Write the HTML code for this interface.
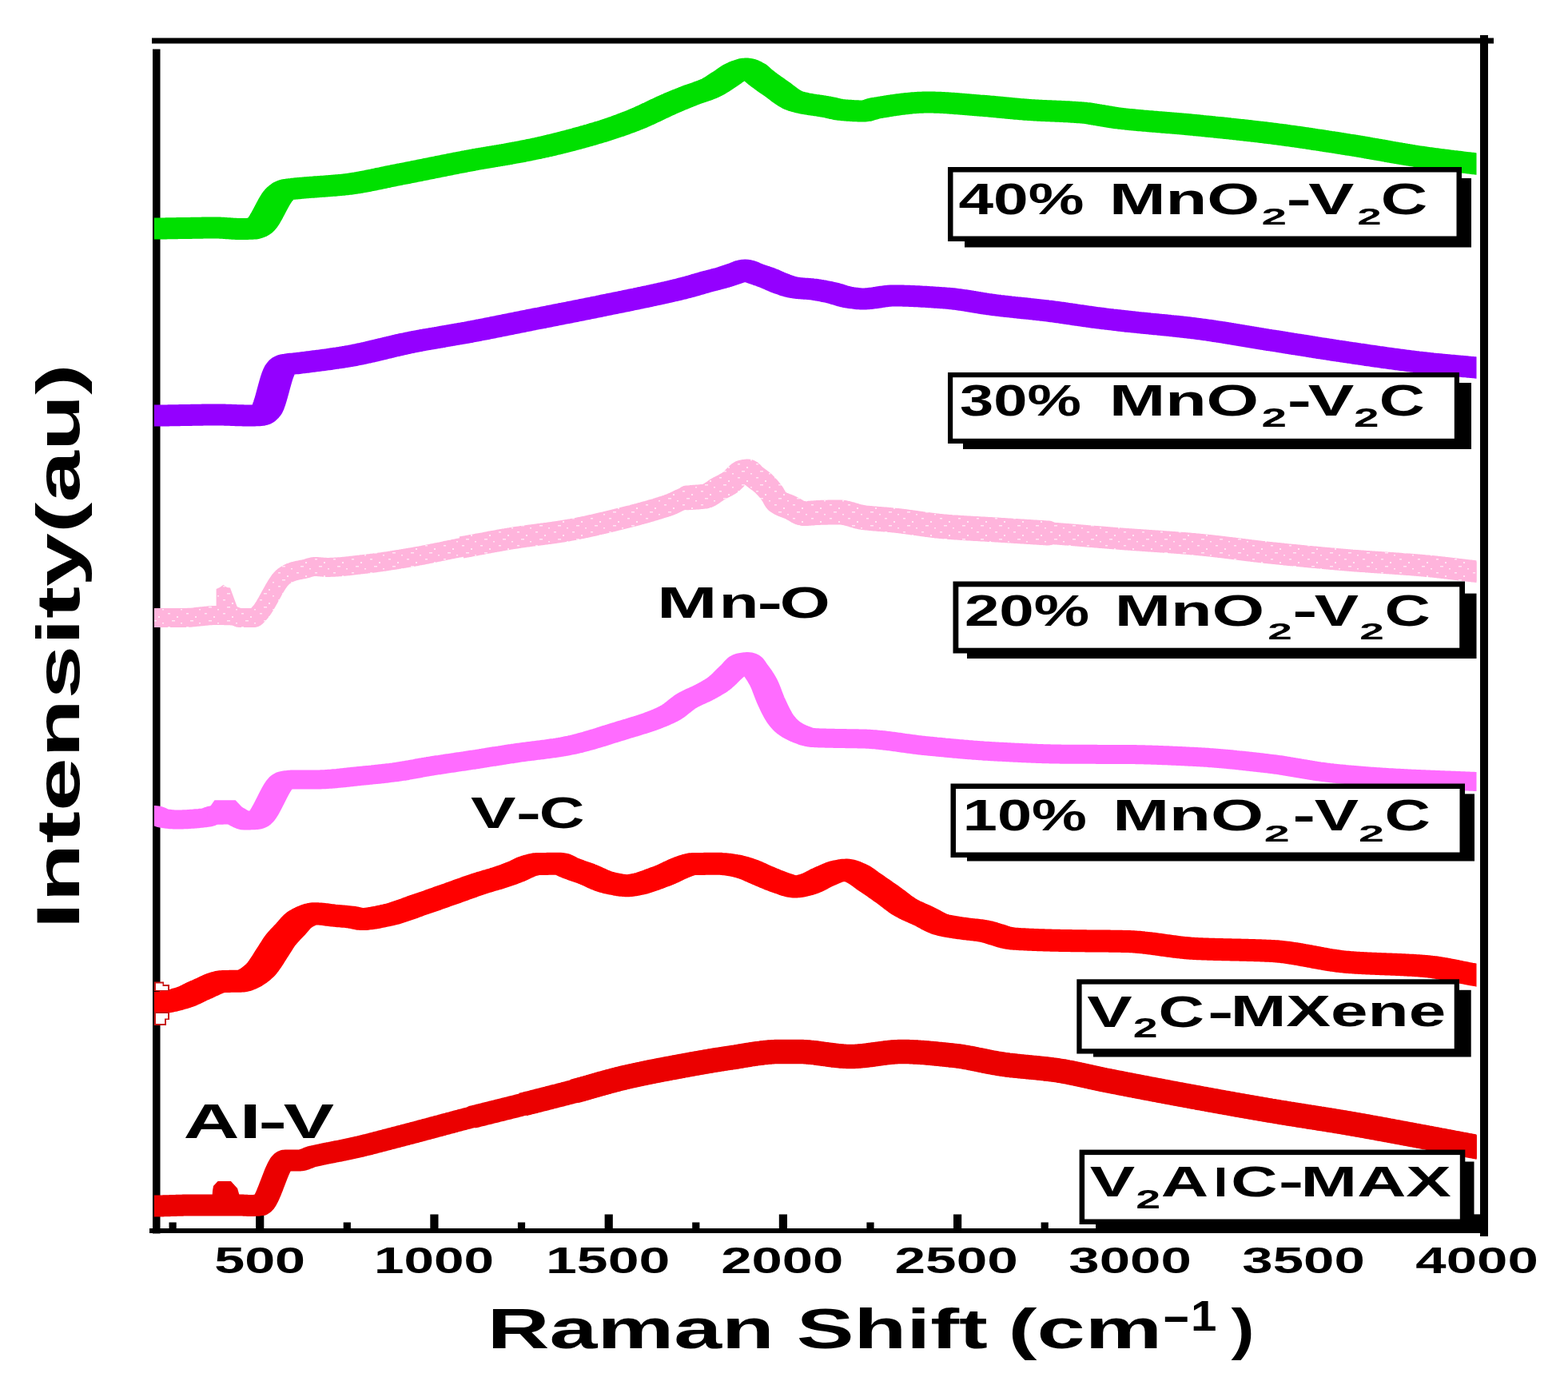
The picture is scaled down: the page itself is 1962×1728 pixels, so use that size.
<!DOCTYPE html><html><head><meta charset="utf-8"><title>Raman spectra</title><style>html,body{margin:0;padding:0;background:#fff;}svg{display:block;}text{font-family:"Liberation Sans",Arial,sans-serif;font-weight:bold;}</style></head><body>
<svg width="1962" height="1728" viewBox="0 0 1962 1728">
<rect width="1962" height="1728" fill="#fff"/>
<rect x="190" y="47.5" width="1679" height="7" fill="#000"/>
<rect x="191" y="61.5" width="9.5" height="1482" fill="#000"/>
<rect x="1852" y="44" width="10" height="1503" fill="#000"/>
<rect x="187" y="1537" width="1670" height="6" fill="#000"/>
<rect x="211.5" y="1529.5" width="9.2" height="8.5" fill="#000"/>
<rect x="320.1" y="1519.5" width="10.2" height="18.5" fill="#000"/>
<rect x="429.7" y="1529.5" width="9.2" height="8.5" fill="#000"/>
<rect x="538.3" y="1519.5" width="10.2" height="18.5" fill="#000"/>
<rect x="647.9" y="1529.5" width="9.2" height="8.5" fill="#000"/>
<rect x="756.6" y="1519.5" width="10.2" height="18.5" fill="#000"/>
<rect x="866.2" y="1529.5" width="9.2" height="8.5" fill="#000"/>
<rect x="974.8" y="1519.5" width="10.2" height="18.5" fill="#000"/>
<rect x="1084.4" y="1529.5" width="9.2" height="8.5" fill="#000"/>
<rect x="1193.0" y="1519.5" width="10.2" height="18.5" fill="#000"/>
<rect x="1302.6" y="1529.5" width="9.2" height="8.5" fill="#000"/>
<rect x="1411.2" y="1519.5" width="10.2" height="18.5" fill="#000"/>
<rect x="1520.8" y="1529.5" width="9.2" height="8.5" fill="#000"/>
<rect x="1629.5" y="1519.5" width="10.2" height="18.5" fill="#000"/>
<rect x="1739.1" y="1529.5" width="9.2" height="8.5" fill="#000"/>
<rect x="1843.5" y="1519.4" width="9" height="19" fill="#000"/>
<defs><clipPath id="plotclip"><rect x="193" y="40" width="1654.5" height="1500"/></clipPath><pattern id="pinkspeck" patternUnits="userSpaceOnUse" width="23" height="17"><rect width="23" height="17" fill="#ffb4dc"/><rect x="3" y="2" width="3" height="1.5" fill="#ffe6f4"/><rect x="14" y="6" width="2" height="2" fill="#ffe6f4"/><rect x="8" y="11" width="4" height="1.5" fill="#ffe6f4"/><rect x="19" y="14" width="2" height="1.5" fill="#ffe6f4"/></pattern></defs>
<g clip-path="url(#plotclip)">
<g transform="scale(1.5,1)" fill="none" stroke-linejoin="round" stroke-linecap="butt">
<path d="M118.67,286.0 L119.67,286.0 L120.67,286.0 L121.67,286.0 L122.67,286.0 L123.67,286.0 L124.67,286.0 L125.67,286.0 L126.67,286.0 L127.67,286.0 L128.67,286.0 L129.67,286.0 L130.67,286.0 L131.67,286.0 L132.67,286.0 L133.67,286.0 L134.67,285.9 L135.67,285.9 L136.67,285.9 L137.67,285.9 L138.67,285.9 L139.67,285.8 L140.67,285.8 L141.67,285.8 L142.67,285.8 L143.67,285.7 L144.67,285.7 L145.67,285.7 L146.67,285.7 L147.67,285.6 L148.67,285.6 L149.67,285.6 L150.67,285.6 L151.67,285.5 L152.67,285.5 L153.33,285.5 L153.67,285.5 L154.67,285.5 L155.67,285.5 L156.67,285.4 L157.67,285.4 L158.67,285.4 L159.67,285.4 L160.67,285.3 L161.67,285.3 L162.67,285.3 L163.67,285.3 L164.67,285.2 L165.67,285.2 L166.67,285.2 L167.67,285.2 L168.67,285.1 L169.67,285.1 L170.67,285.1 L171.67,285.1 L172.67,285.1 L173.67,285.0 L174.67,285.0 L175.67,285.0 L176.67,285.0 L177.67,285.0 L178.67,285.0 L179.67,285.0 L180.00,285.0 L180.67,285.0 L181.67,285.0 L182.67,285.1 L183.67,285.1 L184.67,285.2 L185.67,285.3 L186.67,285.4 L187.67,285.5 L188.67,285.6 L189.67,285.7 L190.67,285.8 L191.67,285.9 L192.67,286.0 L193.67,286.1 L194.67,286.2 L195.67,286.3 L196.67,286.4 L197.67,286.4 L198.67,286.5 L199.67,286.5 L200.00,286.5 L200.67,286.5 L201.67,286.5 L202.67,286.5 L203.67,286.5 L204.67,286.4 L205.67,286.4 L206.67,286.4 L207.67,286.3 L208.67,286.3 L209.67,286.2 L210.67,286.1 L211.67,286.0 L212.00,286.0 L212.67,285.8 L213.67,285.3 L214.67,284.6 L215.33,284.0 L215.67,283.7 L216.67,282.5 L217.67,281.0 L218.67,279.2 L219.67,277.1 L220.67,274.8 L221.67,272.2 L222.67,269.6 L223.67,266.8 L224.67,264.0 L225.67,261.1 L226.67,258.3 L227.67,255.5 L228.67,252.8 L229.67,250.3 L230.67,247.9 L231.67,245.8 L232.67,244.0 L233.67,242.4 L234.00,242.0 L234.67,241.2 L235.67,240.0 L236.67,238.9 L237.67,238.0 L238.67,237.5 L239.67,237.2 L240.67,236.9 L241.67,236.7 L242.67,236.6 L243.67,236.4 L244.67,236.3 L245.67,236.1 L246.67,236.0 L247.67,235.8 L248.67,235.7 L249.67,235.5 L250.67,235.4 L251.67,235.3 L252.67,235.1 L253.67,235.0 L254.67,234.9 L255.67,234.8 L256.67,234.6 L257.67,234.5 L258.67,234.4 L259.67,234.3 L260.67,234.2 L261.67,234.1 L262.67,234.0 L263.67,233.8 L264.67,233.7 L265.67,233.6 L266.67,233.5 L267.67,233.4 L268.67,233.3 L269.67,233.2 L270.67,233.1 L271.67,233.0 L272.67,232.9 L273.67,232.8 L274.67,232.6 L275.67,232.5 L276.67,232.4 L277.67,232.3 L278.67,232.2 L279.67,232.0 L280.67,231.9 L281.67,231.8 L282.67,231.6 L283.67,231.5 L284.67,231.4 L285.67,231.2 L286.67,231.1 L287.67,230.9 L288.67,230.7 L289.67,230.6 L290.00,230.5 L290.67,230.4 L291.67,230.2 L292.67,230.0 L293.67,229.8 L294.67,229.6 L295.67,229.3 L296.67,229.1 L297.67,228.9 L298.67,228.6 L299.67,228.4 L300.67,228.1 L301.67,227.8 L302.67,227.6 L303.67,227.3 L304.67,227.0 L305.67,226.7 L306.67,226.4 L307.67,226.1 L308.67,225.8 L309.67,225.5 L310.67,225.2 L311.67,224.9 L312.67,224.6 L313.67,224.3 L314.67,224.0 L315.67,223.6 L316.67,223.3 L317.67,223.0 L318.67,222.7 L319.67,222.4 L320.67,222.1 L321.67,221.7 L322.67,221.4 L323.67,221.1 L324.67,220.8 L325.67,220.5 L326.67,220.2 L327.67,219.9 L328.67,219.6 L329.67,219.3 L330.67,219.0 L331.67,218.7 L332.67,218.4 L333.67,218.1 L334.67,217.8 L335.67,217.5 L336.67,217.3 L337.67,217.0 L338.67,216.7 L339.67,216.4 L340.67,216.1 L341.67,215.8 L342.67,215.5 L343.67,215.2 L344.67,214.9 L345.67,214.6 L346.67,214.3 L347.67,214.0 L348.67,213.7 L349.67,213.4 L350.67,213.1 L351.67,212.8 L352.67,212.5 L353.67,212.2 L354.67,211.9 L355.67,211.6 L356.67,211.3 L357.67,211.0 L358.67,210.7 L359.67,210.4 L360.67,210.1 L361.67,209.8 L362.67,209.5 L363.67,209.2 L364.67,208.9 L365.67,208.6 L366.67,208.3 L367.67,208.0 L368.67,207.7 L369.67,207.4 L370.67,207.1 L371.67,206.8 L372.67,206.5 L373.67,206.2 L374.67,205.9 L375.67,205.6 L376.67,205.3 L377.67,205.0 L378.67,204.7 L379.67,204.4 L380.67,204.1 L381.67,203.8 L382.67,203.5 L383.67,203.3 L384.67,203.0 L385.67,202.7 L386.67,202.4 L387.67,202.1 L388.67,201.8 L389.67,201.5 L390.67,201.3 L391.67,201.0 L392.67,200.7 L393.33,200.5 L393.67,200.4 L394.67,200.1 L395.67,199.9 L396.67,199.6 L397.67,199.3 L398.67,199.0 L399.67,198.8 L400.67,198.5 L401.67,198.2 L402.67,198.0 L403.67,197.7 L404.67,197.5 L405.67,197.2 L406.67,197.0 L407.67,196.7 L408.67,196.5 L409.67,196.2 L410.67,195.9 L411.67,195.7 L412.67,195.4 L413.67,195.2 L414.67,194.9 L415.67,194.7 L416.67,194.4 L417.67,194.2 L418.67,193.9 L419.67,193.7 L420.67,193.4 L421.67,193.2 L422.67,192.9 L423.67,192.7 L424.67,192.4 L425.67,192.1 L426.67,191.9 L427.67,191.6 L428.67,191.3 L429.67,191.1 L430.67,190.8 L431.67,190.5 L432.67,190.3 L433.67,190.0 L434.67,189.7 L435.67,189.4 L436.67,189.1 L437.67,188.8 L438.67,188.5 L439.67,188.2 L440.67,187.9 L441.67,187.6 L442.67,187.3 L443.67,187.0 L443.73,187.0 L444.67,186.7 L445.67,186.4 L446.67,186.1 L447.67,185.7 L448.67,185.4 L449.67,185.1 L450.67,184.8 L451.67,184.4 L452.67,184.1 L453.67,183.7 L454.67,183.4 L455.67,183.1 L456.67,182.7 L457.67,182.4 L458.67,182.0 L459.67,181.7 L460.67,181.3 L461.67,180.9 L462.67,180.6 L463.67,180.2 L464.67,179.9 L465.67,179.5 L466.67,179.1 L467.67,178.7 L468.67,178.4 L469.67,178.0 L470.67,177.6 L471.67,177.2 L472.67,176.8 L473.67,176.5 L474.67,176.1 L475.67,175.7 L476.67,175.3 L477.67,174.9 L478.67,174.5 L479.67,174.1 L480.67,173.7 L481.67,173.3 L482.67,172.9 L483.67,172.4 L484.67,172.0 L485.67,171.6 L486.67,171.2 L487.67,170.8 L488.67,170.4 L489.67,169.9 L490.67,169.5 L491.67,169.1 L492.67,168.6 L493.67,168.2 L494.67,167.8 L495.67,167.3 L496.67,166.9 L497.67,166.4 L498.67,166.0 L499.67,165.5 L500.67,165.1 L500.87,165.0 L501.67,164.6 L502.67,164.2 L503.67,163.7 L504.67,163.2 L505.67,162.8 L506.67,162.3 L507.67,161.8 L508.67,161.3 L509.67,160.8 L510.67,160.3 L511.67,159.8 L512.67,159.3 L513.67,158.8 L514.67,158.2 L515.67,157.7 L516.67,157.2 L517.67,156.6 L518.67,156.1 L519.67,155.5 L520.67,155.0 L521.67,154.4 L522.67,153.9 L523.67,153.3 L524.67,152.7 L525.67,152.1 L526.67,151.6 L527.67,151.0 L528.67,150.4 L529.33,150.0 L529.67,149.8 L530.67,149.2 L531.67,148.6 L532.67,147.9 L533.67,147.3 L534.67,146.6 L535.67,146.0 L536.67,145.3 L537.67,144.6 L538.67,143.9 L539.67,143.2 L540.67,142.5 L541.67,141.8 L542.67,141.1 L543.67,140.4 L544.67,139.7 L545.67,139.0 L546.67,138.2 L547.67,137.5 L548.67,136.8 L549.67,136.1 L550.67,135.4 L551.67,134.7 L552.67,134.0 L553.67,133.3 L554.67,132.6 L555.67,131.9 L556.67,131.2 L557.67,130.5 L558.67,129.9 L559.67,129.2 L560.00,129.0 L560.67,128.6 L561.67,127.9 L562.67,127.3 L563.67,126.7 L564.67,126.0 L565.67,125.4 L566.67,124.8 L567.67,124.2 L568.67,123.6 L569.67,123.0 L570.67,122.4 L571.67,121.7 L572.67,121.2 L573.67,120.6 L574.67,120.0 L575.67,119.4 L576.33,119.0 L576.67,118.8 L577.67,118.2 L578.67,117.7 L579.67,117.2 L580.67,116.7 L581.67,116.2 L582.67,115.7 L583.67,115.2 L584.67,114.7 L585.67,114.1 L586.67,113.6 L587.67,113.1 L588.67,112.5 L589.67,111.9 L590.67,111.3 L591.67,110.7 L592.67,110.0 L593.67,109.3 L594.67,108.5 L595.67,107.6 L596.67,106.7 L597.67,105.8 L598.67,104.9 L599.67,103.9 L600.67,102.9 L601.67,101.9 L602.67,100.9 L603.67,100.0 L604.67,99.0 L605.67,98.0 L606.67,97.0 L607.67,95.9 L608.67,94.8 L609.67,93.8 L610.67,92.8 L611.67,91.8 L612.67,91.0 L613.67,90.2 L614.00,90.0 L614.67,89.6 L615.67,88.9 L616.67,88.3 L617.67,87.7 L618.67,87.2 L619.67,86.7 L620.67,86.3 L621.67,86.1 L622.67,86.0 L623.67,86.1 L624.67,86.6 L625.67,87.2 L626.67,87.9 L627.67,88.7 L628.67,89.5 L629.67,90.4 L630.67,91.6 L631.67,93.0 L632.67,94.4 L633.67,95.7 L634.67,97.0 L635.67,98.2 L636.67,99.3 L637.67,100.4 L638.67,101.5 L639.67,102.6 L640.67,103.7 L641.67,104.8 L642.67,105.9 L643.67,106.9 L644.67,107.9 L645.67,109.0 L646.67,110.0 L647.67,111.0 L648.67,112.1 L649.67,113.2 L650.67,114.4 L651.67,115.5 L652.67,116.6 L653.67,117.8 L654.67,118.9 L655.67,120.0 L656.67,121.0 L657.67,122.0 L658.67,123.0 L659.67,123.8 L660.67,124.6 L661.67,125.4 L662.67,126.0 L663.67,126.5 L664.00,126.7 L664.67,127.0 L665.67,127.4 L666.67,127.8 L667.67,128.2 L668.67,128.5 L669.67,128.8 L670.67,129.2 L671.67,129.5 L672.67,129.7 L673.67,130.0 L674.67,130.3 L675.67,130.5 L676.67,130.7 L677.67,131.0 L678.67,131.2 L679.67,131.4 L680.67,131.6 L681.67,131.9 L682.67,132.1 L683.67,132.3 L684.67,132.5 L685.67,132.8 L686.67,133.0 L687.67,133.3 L688.67,133.5 L689.67,133.8 L690.47,134.0 L690.67,134.1 L691.67,134.4 L692.67,134.7 L693.67,135.0 L694.67,135.4 L695.67,135.7 L696.67,136.1 L697.67,136.4 L698.67,136.7 L699.67,137.0 L700.67,137.2 L701.67,137.4 L702.67,137.6 L703.67,137.7 L704.67,137.9 L705.67,138.0 L706.67,138.1 L707.67,138.2 L708.67,138.3 L709.67,138.4 L710.67,138.5 L711.67,138.6 L712.67,138.7 L713.67,138.8 L714.67,138.8 L715.67,138.9 L716.67,138.9 L717.67,139.0 L718.67,139.0 L719.67,139.0 L720.00,139.0 L720.67,139.0 L721.67,138.8 L722.67,138.6 L723.67,138.2 L724.67,137.8 L725.67,137.3 L726.67,136.9 L727.67,136.4 L728.67,135.9 L729.67,135.5 L730.67,135.2 L731.33,135.0 L731.67,134.9 L732.67,134.7 L733.67,134.4 L734.67,134.2 L735.67,134.0 L736.67,133.7 L737.67,133.5 L738.67,133.2 L739.67,133.0 L740.67,132.8 L741.67,132.5 L742.67,132.3 L743.67,132.1 L744.67,131.9 L745.67,131.6 L746.67,131.4 L747.67,131.2 L748.67,131.0 L749.67,130.8 L750.67,130.6 L751.67,130.4 L752.67,130.2 L753.67,130.0 L754.67,129.9 L755.67,129.7 L756.67,129.5 L757.67,129.4 L758.67,129.2 L759.67,129.1 L760.67,128.9 L761.67,128.8 L762.67,128.7 L763.67,128.6 L764.67,128.5 L765.67,128.4 L766.67,128.3 L767.67,128.2 L768.67,128.2 L769.67,128.1 L770.67,128.1 L771.67,128.0 L772.67,128.0 L773.67,128.0 L774.00,128.0 L774.67,128.0 L775.67,128.0 L776.67,128.0 L777.67,128.1 L778.67,128.1 L779.67,128.1 L780.67,128.2 L781.67,128.2 L782.67,128.3 L783.67,128.3 L784.67,128.4 L785.67,128.5 L786.67,128.6 L787.67,128.6 L788.67,128.7 L789.67,128.8 L790.67,128.9 L791.67,129.0 L792.67,129.1 L793.67,129.2 L794.67,129.3 L795.67,129.4 L796.67,129.5 L797.67,129.7 L798.67,129.8 L799.67,129.9 L800.67,130.0 L801.67,130.1 L802.67,130.3 L803.67,130.4 L804.67,130.5 L805.67,130.6 L806.67,130.8 L807.67,130.9 L808.67,131.0 L809.67,131.1 L810.67,131.3 L811.67,131.4 L812.67,131.5 L813.67,131.6 L814.67,131.7 L815.67,131.9 L816.67,132.0 L817.00,132.0 L817.67,132.1 L818.67,132.2 L819.67,132.3 L820.67,132.4 L821.67,132.5 L822.67,132.7 L823.67,132.8 L824.67,132.9 L825.67,133.1 L826.67,133.2 L827.67,133.3 L828.67,133.5 L829.67,133.6 L830.67,133.7 L831.67,133.9 L832.67,134.0 L833.67,134.2 L834.67,134.3 L835.67,134.5 L836.67,134.6 L837.67,134.7 L838.67,134.9 L839.67,135.0 L840.67,135.2 L841.67,135.3 L842.67,135.5 L843.67,135.6 L844.67,135.7 L845.67,135.9 L846.67,136.0 L847.67,136.2 L848.67,136.3 L849.67,136.4 L850.67,136.6 L851.67,136.7 L852.67,136.8 L853.67,136.9 L854.67,137.0 L855.67,137.2 L856.67,137.3 L857.67,137.4 L858.67,137.5 L859.67,137.6 L859.80,137.6 L860.67,137.7 L861.67,137.8 L862.67,137.9 L863.67,138.0 L864.67,138.0 L865.67,138.1 L866.67,138.2 L867.67,138.3 L868.67,138.4 L869.67,138.4 L870.67,138.5 L871.67,138.6 L872.67,138.6 L873.67,138.7 L874.67,138.8 L875.67,138.8 L876.67,138.9 L877.67,139.0 L878.67,139.0 L879.67,139.1 L880.67,139.1 L881.67,139.2 L882.67,139.3 L883.67,139.3 L884.67,139.4 L885.67,139.5 L886.67,139.5 L887.67,139.6 L888.67,139.7 L889.67,139.8 L890.67,139.8 L891.67,139.9 L892.67,140.0 L893.67,140.1 L894.67,140.2 L895.67,140.3 L896.67,140.4 L897.67,140.5 L898.67,140.6 L899.67,140.7 L900.67,140.8 L901.67,140.9 L902.67,141.0 L903.67,141.1 L904.67,141.3 L905.67,141.4 L906.67,141.6 L907.67,141.8 L908.67,142.0 L909.67,142.2 L910.67,142.4 L911.67,142.7 L912.67,142.9 L913.67,143.2 L914.67,143.4 L915.67,143.7 L916.67,143.9 L917.67,144.2 L918.67,144.5 L919.67,144.7 L920.67,145.0 L921.67,145.3 L922.67,145.5 L923.67,145.8 L924.67,146.1 L925.67,146.3 L926.67,146.6 L927.67,146.8 L928.67,147.1 L929.67,147.3 L930.67,147.5 L931.67,147.7 L932.67,147.9 L933.33,148.0 L933.67,148.1 L934.67,148.2 L935.67,148.4 L936.67,148.6 L937.67,148.7 L938.67,148.9 L939.67,149.1 L940.67,149.2 L941.67,149.4 L942.67,149.5 L943.67,149.7 L944.67,149.8 L945.67,150.0 L946.67,150.1 L947.67,150.2 L948.67,150.4 L949.67,150.5 L950.67,150.7 L951.67,150.8 L952.67,150.9 L953.67,151.1 L954.67,151.2 L955.67,151.3 L956.67,151.4 L957.67,151.6 L958.67,151.7 L959.67,151.8 L960.67,152.0 L961.67,152.1 L962.67,152.2 L963.67,152.3 L964.67,152.4 L965.67,152.6 L966.67,152.7 L967.67,152.8 L968.67,152.9 L969.67,153.0 L970.67,153.2 L971.67,153.3 L972.67,153.4 L973.67,153.5 L974.67,153.7 L975.67,153.8 L976.67,153.9 L977.67,154.0 L978.67,154.1 L979.67,154.3 L980.67,154.4 L981.67,154.5 L982.67,154.6 L983.67,154.8 L984.67,154.9 L985.67,155.0 L986.67,155.1 L987.67,155.3 L988.67,155.4 L989.67,155.5 L990.67,155.7 L991.67,155.8 L992.67,156.0 L993.67,156.1 L994.67,156.2 L995.67,156.4 L996.67,156.5 L997.20,156.6 L997.67,156.7 L998.67,156.8 L999.67,157.0 L1000.67,157.1 L1001.67,157.3 L1002.67,157.4 L1003.67,157.6 L1004.67,157.7 L1005.67,157.9 L1006.67,158.0 L1007.67,158.2 L1008.67,158.3 L1009.67,158.5 L1010.67,158.6 L1011.67,158.8 L1012.67,158.9 L1013.67,159.1 L1014.67,159.2 L1015.67,159.4 L1016.67,159.5 L1017.67,159.7 L1018.67,159.8 L1019.67,160.0 L1020.67,160.1 L1021.67,160.3 L1022.67,160.5 L1023.67,160.6 L1024.67,160.8 L1025.67,160.9 L1026.67,161.1 L1027.67,161.2 L1028.67,161.4 L1029.67,161.6 L1030.67,161.7 L1031.67,161.9 L1032.67,162.1 L1033.67,162.2 L1034.67,162.4 L1035.67,162.5 L1036.67,162.7 L1037.67,162.9 L1038.67,163.0 L1039.67,163.2 L1040.67,163.4 L1041.67,163.5 L1042.67,163.7 L1043.67,163.9 L1044.67,164.1 L1045.67,164.2 L1046.67,164.4 L1047.67,164.6 L1048.67,164.7 L1049.67,164.9 L1050.67,165.1 L1051.67,165.3 L1052.67,165.5 L1053.67,165.6 L1054.67,165.8 L1055.67,166.0 L1056.67,166.2 L1057.67,166.4 L1058.67,166.5 L1059.67,166.7 L1060.67,166.9 L1061.13,167.0 L1061.67,167.1 L1062.67,167.3 L1063.67,167.5 L1064.67,167.7 L1065.67,167.9 L1066.67,168.1 L1067.67,168.3 L1068.67,168.5 L1069.67,168.6 L1070.67,168.8 L1071.67,169.0 L1072.67,169.3 L1073.67,169.5 L1074.67,169.7 L1075.67,169.9 L1076.67,170.1 L1077.67,170.3 L1078.67,170.5 L1079.67,170.7 L1080.67,170.9 L1081.67,171.1 L1082.67,171.3 L1083.67,171.6 L1084.67,171.8 L1085.67,172.0 L1086.67,172.2 L1087.67,172.4 L1088.67,172.6 L1089.67,172.9 L1090.67,173.1 L1091.67,173.3 L1092.67,173.5 L1093.67,173.8 L1094.67,174.0 L1095.67,174.2 L1096.67,174.4 L1097.67,174.7 L1098.67,174.9 L1099.67,175.1 L1100.67,175.3 L1101.67,175.6 L1102.67,175.8 L1103.67,176.0 L1104.67,176.3 L1105.67,176.5 L1106.67,176.7 L1107.67,177.0 L1108.67,177.2 L1109.67,177.4 L1110.67,177.6 L1111.67,177.9 L1112.67,178.1 L1113.67,178.3 L1114.67,178.6 L1115.67,178.8 L1116.67,179.0 L1117.67,179.3 L1118.67,179.5 L1119.67,179.8 L1120.67,180.0 L1121.67,180.2 L1122.67,180.5 L1123.67,180.7 L1124.67,180.9 L1125.00,181.0 L1125.67,181.2 L1126.67,181.4 L1127.67,181.6 L1128.67,181.9 L1129.67,182.1 L1130.67,182.4 L1131.67,182.6 L1132.67,182.9 L1133.67,183.1 L1134.67,183.4 L1135.67,183.6 L1136.67,183.9 L1137.67,184.1 L1138.67,184.4 L1139.67,184.6 L1140.67,184.9 L1141.67,185.2 L1142.67,185.4 L1143.67,185.7 L1144.67,185.9 L1145.67,186.2 L1146.67,186.5 L1147.67,186.7 L1148.67,187.0 L1149.67,187.3 L1150.67,187.5 L1151.67,187.8 L1152.67,188.1 L1153.67,188.3 L1154.67,188.6 L1155.67,188.9 L1156.67,189.1 L1157.67,189.4 L1158.67,189.7 L1159.67,189.9 L1160.67,190.2 L1161.67,190.4 L1162.67,190.7 L1163.67,191.0 L1164.67,191.2 L1165.67,191.5 L1166.67,191.8 L1167.67,192.0 L1168.67,192.3 L1169.67,192.5 L1170.67,192.8 L1171.67,193.0 L1172.67,193.3 L1173.67,193.5 L1174.67,193.8 L1175.67,194.0 L1176.67,194.3 L1177.67,194.5 L1178.67,194.7 L1179.67,195.0 L1180.67,195.2 L1181.67,195.4 L1182.67,195.7 L1183.67,195.9 L1184.67,196.1 L1185.67,196.3 L1186.67,196.6 L1187.67,196.8 L1188.67,197.0 L1189.67,197.2 L1190.67,197.4 L1191.67,197.6 L1192.67,197.8 L1193.67,198.0 L1194.67,198.2 L1195.67,198.4 L1196.67,198.6 L1197.67,198.8 L1198.67,199.0 L1199.67,199.2 L1200.67,199.4 L1201.67,199.6 L1202.67,199.8 L1203.67,200.0 L1204.67,200.2 L1205.67,200.3 L1206.67,200.5 L1207.67,200.7 L1208.67,200.9 L1209.67,201.1 L1210.67,201.3 L1211.67,201.4 L1212.67,201.6 L1213.67,201.8 L1214.67,202.0 L1215.67,202.2 L1216.67,202.3 L1217.67,202.5 L1218.67,202.7 L1219.67,202.9 L1220.67,203.1 L1221.67,203.2 L1222.67,203.4 L1223.67,203.6 L1224.67,203.8 L1225.67,204.0 L1226.67,204.1 L1227.67,204.3 L1228.67,204.5 L1229.67,204.7 L1230.67,204.9 L1231.33,205.0 L1231.67,205.1 L1232.67,205.3 L1233.67,205.4 L1234.67,205.6 L1235.67,205.8 L1236.67,206.0 L1237.67,206.2 L1238.67,206.4 L1239.67,206.6 L1240.67,206.8 L1241.67,206.9 L1242.67,207.1 L1243.67,207.3 L1244.67,207.5" stroke="#00e000" stroke-width="27"/>
</g>
<g transform="scale(1.5,1)" fill="none" stroke-linejoin="round" stroke-linecap="butt">
<path d="M118.67,520.0 L119.67,520.0 L120.67,520.0 L121.67,520.0 L122.67,520.0 L123.67,520.0 L124.67,520.0 L125.67,520.0 L126.67,520.0 L127.67,520.0 L128.67,520.0 L129.67,520.0 L130.67,520.0 L131.67,520.0 L132.67,520.0 L133.67,520.0 L134.67,520.0 L135.67,520.0 L136.67,519.9 L137.67,519.9 L138.67,519.9 L139.67,519.9 L140.67,519.9 L141.67,519.8 L142.67,519.8 L143.67,519.8 L144.67,519.8 L145.67,519.8 L146.67,519.7 L147.67,519.7 L148.67,519.7 L149.67,519.6 L150.67,519.6 L151.67,519.6 L152.67,519.6 L153.67,519.5 L154.67,519.5 L155.67,519.5 L156.67,519.4 L157.67,519.4 L158.67,519.4 L159.67,519.4 L160.67,519.3 L161.67,519.3 L162.67,519.3 L163.67,519.3 L164.67,519.2 L165.67,519.2 L166.67,519.2 L167.67,519.2 L168.67,519.1 L169.67,519.1 L170.67,519.1 L171.67,519.1 L172.67,519.1 L173.67,519.1 L174.67,519.0 L175.67,519.0 L176.67,519.0 L177.67,519.0 L178.67,519.0 L179.67,519.0 L180.67,519.0 L181.00,519.0 L181.67,519.0 L182.67,519.0 L183.67,519.0 L184.67,519.0 L185.67,519.1 L186.67,519.1 L187.67,519.1 L188.67,519.2 L189.67,519.2 L190.67,519.3 L191.67,519.3 L192.67,519.4 L193.67,519.4 L194.67,519.5 L195.67,519.5 L196.67,519.6 L197.67,519.7 L198.67,519.7 L199.67,519.8 L200.67,519.8 L201.67,519.8 L202.67,519.9 L203.67,519.9 L204.67,519.9 L205.67,520.0 L206.67,520.0 L207.67,520.0 L208.67,520.0 L209.67,520.0 L210.67,520.0 L211.67,519.9 L212.67,519.9 L213.67,519.8 L214.67,519.8 L215.67,519.7 L216.67,519.6 L217.33,519.5 L217.67,519.4 L218.67,518.8 L219.67,517.6 L220.67,516.1 L221.67,514.3 L221.87,514.0 L222.67,512.2 L223.67,509.0 L224.67,504.9 L225.67,500.2 L226.67,495.0 L227.67,489.5 L228.67,483.9 L229.67,478.5 L230.67,473.4 L231.67,468.9 L232.67,465.2 L233.67,462.4 L233.87,462.0 L234.67,460.4 L235.67,458.6 L236.67,457.3 L237.67,456.5 L238.67,456.2 L239.67,455.9 L240.67,455.7 L241.67,455.5 L242.67,455.3 L243.67,455.2 L244.67,455.1 L245.67,454.9 L246.67,454.8 L247.67,454.7 L248.67,454.5 L249.67,454.3 L250.67,454.1 L251.67,453.9 L252.67,453.7 L253.67,453.5 L254.67,453.4 L255.67,453.2 L256.67,453.0 L257.67,452.8 L258.67,452.6 L259.67,452.4 L260.67,452.2 L261.67,452.0 L262.67,451.8 L263.67,451.6 L264.67,451.5 L265.67,451.3 L266.67,451.1 L267.67,450.9 L268.67,450.7 L269.67,450.5 L270.67,450.3 L271.67,450.1 L272.67,449.9 L273.67,449.7 L274.67,449.4 L275.67,449.2 L276.67,449.0 L277.67,448.8 L278.67,448.6 L279.67,448.4 L280.67,448.1 L281.67,447.9 L282.67,447.7 L283.67,447.5 L284.67,447.2 L285.67,447.0 L286.67,446.8 L287.67,446.5 L288.67,446.3 L289.67,446.0 L289.73,446.0 L290.67,445.8 L291.67,445.5 L292.67,445.2 L293.67,445.0 L294.67,444.7 L295.67,444.4 L296.67,444.1 L297.67,443.8 L298.67,443.5 L299.67,443.2 L300.67,442.9 L301.67,442.5 L302.67,442.2 L303.67,441.9 L304.67,441.6 L305.67,441.2 L306.67,440.9 L307.67,440.6 L308.67,440.2 L309.67,439.9 L310.67,439.5 L311.67,439.2 L312.67,438.8 L313.67,438.5 L314.67,438.1 L315.67,437.7 L316.67,437.4 L317.67,437.0 L318.67,436.7 L319.67,436.3 L320.67,435.9 L321.67,435.6 L322.67,435.2 L323.67,434.9 L324.67,434.5 L325.67,434.1 L326.67,433.8 L327.67,433.4 L328.67,433.1 L329.67,432.7 L330.67,432.4 L331.67,432.0 L332.67,431.7 L333.67,431.3 L334.67,431.0 L335.67,430.7 L336.67,430.3 L337.67,430.0 L338.67,429.7 L339.67,429.4 L340.67,429.1 L341.67,428.7 L342.67,428.4 L343.67,428.1 L344.13,428.0 L344.67,427.8 L345.67,427.6 L346.67,427.3 L347.67,427.0 L348.67,426.7 L349.67,426.4 L350.67,426.1 L351.67,425.9 L352.67,425.6 L353.67,425.3 L354.67,425.0 L355.67,424.8 L356.67,424.5 L357.67,424.2 L358.67,424.0 L359.67,423.7 L360.67,423.5 L361.67,423.2 L362.67,422.9 L363.67,422.7 L364.67,422.4 L365.67,422.2 L366.67,421.9 L367.67,421.7 L368.67,421.4 L369.67,421.1 L370.67,420.9 L371.67,420.6 L372.67,420.4 L373.67,420.1 L374.67,419.9 L375.67,419.6 L376.67,419.4 L377.67,419.1 L378.67,418.8 L379.67,418.6 L380.67,418.3 L381.67,418.1 L382.67,417.8 L383.67,417.5 L384.67,417.3 L385.67,417.0 L386.67,416.7 L387.67,416.5 L388.67,416.2 L389.67,415.9 L390.67,415.7 L391.67,415.4 L392.67,415.1 L393.07,415.0 L393.67,414.8 L394.67,414.5 L395.67,414.3 L396.67,414.0 L397.67,413.7 L398.67,413.4 L399.67,413.1 L400.67,412.8 L401.67,412.5 L402.67,412.3 L403.67,412.0 L404.67,411.7 L405.67,411.4 L406.67,411.1 L407.67,410.8 L408.67,410.5 L409.67,410.2 L410.67,409.9 L411.67,409.6 L412.67,409.3 L413.67,409.0 L414.67,408.7 L415.67,408.4 L416.67,408.1 L417.67,407.8 L418.67,407.5 L419.67,407.2 L420.67,406.9 L421.67,406.6 L422.67,406.3 L423.67,406.0 L424.67,405.7 L425.67,405.4 L426.67,405.1 L427.67,404.8 L428.67,404.5 L429.67,404.2 L430.67,403.9 L431.67,403.6 L432.67,403.3 L433.67,403.0 L434.67,402.7 L435.67,402.4 L436.67,402.1 L437.67,401.8 L438.67,401.5 L439.67,401.2 L440.67,400.9 L441.67,400.6 L442.67,400.3 L443.67,400.0 L443.73,400.0 L444.67,399.7 L445.67,399.4 L446.67,399.1 L447.67,398.8 L448.67,398.5 L449.67,398.2 L450.67,397.9 L451.67,397.7 L452.67,397.4 L453.67,397.1 L454.67,396.8 L455.67,396.5 L456.67,396.2 L457.67,395.9 L458.67,395.6 L459.67,395.3 L460.67,395.0 L461.67,394.7 L462.67,394.4 L463.67,394.1 L464.67,393.8 L465.67,393.5 L466.67,393.2 L467.67,392.9 L468.67,392.6 L469.67,392.3 L470.67,392.0 L471.67,391.8 L472.67,391.5 L473.67,391.2 L474.67,390.9 L475.67,390.6 L476.67,390.3 L477.67,390.0 L478.67,389.7 L479.67,389.4 L480.67,389.1 L481.67,388.8 L482.67,388.5 L483.67,388.2 L484.67,387.9 L485.67,387.6 L486.67,387.3 L487.67,387.0 L488.67,386.7 L489.67,386.4 L490.67,386.1 L491.67,385.8 L492.67,385.5 L493.67,385.2 L494.67,384.9 L495.67,384.6 L496.67,384.3 L497.67,384.0 L498.67,383.7 L499.67,383.4 L500.67,383.1 L500.87,383.0 L501.67,382.8 L502.67,382.4 L503.67,382.1 L504.67,381.8 L505.67,381.5 L506.67,381.2 L507.67,380.9 L508.67,380.6 L509.67,380.3 L510.67,380.0 L511.67,379.7 L512.67,379.4 L513.67,379.1 L514.67,378.8 L515.67,378.5 L516.67,378.2 L517.67,377.9 L518.67,377.6 L519.67,377.3 L520.67,377.0 L521.67,376.7 L522.67,376.4 L523.67,376.0 L524.67,375.7 L525.67,375.4 L526.67,375.1 L527.67,374.8 L528.67,374.5 L529.67,374.2 L530.67,373.9 L531.67,373.6 L532.67,373.3 L533.67,372.9 L534.67,372.6 L535.67,372.3 L536.67,372.0 L537.67,371.7 L538.67,371.4 L539.67,371.0 L540.67,370.7 L541.67,370.4 L542.67,370.1 L543.67,369.8 L544.67,369.4 L545.67,369.1 L546.67,368.8 L547.67,368.5 L548.67,368.1 L549.67,367.8 L550.67,367.5 L551.67,367.1 L552.67,366.8 L553.67,366.5 L554.67,366.1 L555.67,365.8 L556.67,365.5 L557.67,365.1 L558.00,365.0 L558.67,364.8 L559.67,364.4 L560.67,364.1 L561.67,363.7 L562.67,363.4 L563.67,363.0 L564.67,362.7 L565.67,362.3 L566.67,361.9 L567.67,361.6 L568.67,361.2 L569.67,360.8 L570.67,360.4 L571.67,360.0 L572.67,359.7 L573.33,359.4 L573.67,359.3 L574.67,358.9 L575.67,358.5 L576.67,358.0 L577.67,357.6 L578.67,357.2 L579.67,356.7 L580.67,356.3 L581.67,355.9 L582.67,355.4 L583.67,355.0 L584.67,354.5 L585.67,354.1 L586.67,353.7 L587.67,353.2 L588.27,353.0 L588.67,352.8 L589.67,352.4 L590.67,352.0 L591.67,351.6 L592.67,351.2 L593.67,350.9 L594.67,350.5 L595.67,350.1 L596.67,349.7 L597.67,349.3 L598.67,348.9 L599.67,348.5 L600.67,348.1 L601.67,347.7 L602.67,347.3 L603.27,347.0 L603.67,346.8 L604.67,346.4 L605.67,345.9 L606.67,345.4 L607.67,344.9 L608.67,344.4 L609.67,343.9 L610.67,343.4 L611.67,342.9 L612.67,342.4 L613.67,341.9 L614.47,341.5 L614.67,341.4 L615.67,340.8 L616.67,340.1 L617.67,339.5 L618.67,338.9 L619.67,338.4 L620.67,338.1 L621.33,338.0 L621.67,338.0 L622.67,338.2 L623.67,338.6 L624.67,339.1 L625.67,339.7 L626.67,340.4 L627.67,341.0 L628.67,341.6 L629.33,342.0 L629.67,342.2 L630.67,342.7 L631.67,343.2 L632.67,343.7 L633.67,344.2 L634.67,344.7 L635.67,345.3 L636.67,345.8 L637.67,346.3 L638.67,346.9 L639.67,347.4 L640.67,348.0 L641.67,348.6 L642.67,349.2 L643.67,349.9 L644.67,350.5 L645.67,351.2 L646.67,351.9 L647.67,352.5 L648.67,353.2 L649.67,353.8 L650.67,354.4 L651.67,354.9 L651.80,355.0 L652.67,355.5 L653.67,356.0 L654.67,356.5 L655.67,357.0 L656.67,357.6 L657.67,358.0 L658.67,358.5 L659.67,358.9 L660.67,359.3 L661.67,359.6 L662.67,359.9 L663.07,360.0 L663.67,360.1 L664.67,360.3 L665.67,360.5 L666.67,360.6 L667.67,360.7 L668.67,360.9 L669.67,361.0 L670.67,361.1 L671.67,361.2 L672.67,361.3 L673.67,361.4 L674.67,361.5 L675.67,361.6 L676.67,361.8 L677.67,361.9 L678.00,362.0 L678.67,362.1 L679.67,362.3 L680.67,362.5 L681.67,362.8 L682.67,363.0 L683.67,363.3 L684.67,363.5 L685.67,363.8 L686.67,364.1 L687.67,364.4 L688.67,364.7 L689.67,365.0 L690.67,365.3 L691.67,365.6 L692.67,365.9 L692.93,366.0 L693.67,366.2 L694.67,366.6 L695.67,367.0 L696.67,367.5 L697.67,367.9 L698.67,368.4 L699.67,368.8 L700.67,369.3 L701.67,369.7 L702.67,370.2 L703.67,370.6 L704.67,371.0 L705.67,371.4 L706.67,371.7 L707.67,372.0 L707.87,372.0 L708.67,372.2 L709.67,372.4 L710.67,372.7 L711.67,372.9 L712.67,373.1 L713.67,373.3 L714.67,373.5 L715.67,373.7 L716.67,373.8 L717.67,373.9 L718.67,374.0 L719.67,374.0 L719.87,374.0 L720.67,374.0 L721.67,373.9 L722.67,373.9 L723.67,373.8 L724.67,373.6 L725.67,373.5 L726.67,373.3 L727.67,373.1 L728.67,372.9 L729.67,372.7 L730.67,372.5 L731.67,372.3 L732.67,372.0 L733.67,371.8 L734.67,371.6 L735.67,371.3 L736.67,371.1 L737.67,370.9 L738.67,370.7 L739.67,370.5 L740.67,370.4 L741.67,370.3 L742.67,370.1 L743.67,370.1 L744.67,370.0 L745.67,370.0 L746.67,370.0 L747.67,370.0 L748.67,370.0 L749.67,370.0 L750.67,370.1 L751.67,370.1 L752.67,370.1 L753.67,370.1 L754.67,370.2 L755.67,370.2 L756.67,370.3 L757.67,370.3 L758.67,370.4 L759.67,370.4 L760.67,370.5 L761.67,370.6 L762.67,370.6 L763.67,370.7 L764.67,370.8 L765.67,370.8 L766.67,370.9 L767.67,371.0 L768.67,371.1 L769.67,371.2 L770.67,371.2 L771.67,371.3 L772.67,371.4 L773.67,371.5 L774.67,371.6 L775.67,371.7 L776.67,371.8 L777.67,371.9 L778.67,372.0 L779.67,372.1 L780.67,372.2 L781.67,372.3 L782.67,372.4 L783.67,372.5 L784.67,372.6 L785.67,372.7 L786.67,372.8 L787.67,372.9 L788.47,373.0 L788.67,373.0 L789.67,373.1 L790.67,373.3 L791.67,373.4 L792.67,373.5 L793.67,373.7 L794.67,373.8 L795.67,374.0 L796.67,374.2 L797.67,374.4 L798.67,374.6 L799.67,374.8 L800.67,375.0 L801.67,375.2 L802.67,375.4 L803.67,375.6 L804.67,375.8 L805.67,376.1 L806.67,376.3 L807.67,376.5 L808.67,376.8 L809.67,377.0 L810.67,377.3 L811.67,377.5 L812.67,377.8 L813.67,378.0 L814.67,378.3 L815.67,378.5 L816.67,378.8 L817.67,379.0 L818.67,379.2 L819.67,379.5 L820.67,379.7 L821.67,380.0 L822.67,380.2 L823.67,380.4 L824.67,380.6 L825.67,380.9 L826.67,381.1 L827.67,381.3 L828.67,381.5 L829.67,381.7 L830.67,381.9 L831.27,382.0 L831.67,382.1 L832.67,382.3 L833.67,382.4 L834.67,382.6 L835.67,382.8 L836.67,383.0 L837.67,383.1 L838.67,383.3 L839.67,383.5 L840.67,383.6 L841.67,383.8 L842.67,383.9 L843.67,384.1 L844.67,384.3 L845.67,384.4 L846.67,384.6 L847.67,384.7 L848.67,384.9 L849.67,385.0 L850.67,385.2 L851.67,385.4 L852.67,385.5 L853.67,385.7 L854.67,385.8 L855.67,386.0 L856.67,386.1 L857.67,386.3 L858.67,386.4 L859.67,386.6 L860.67,386.7 L861.67,386.9 L862.67,387.1 L863.67,387.2 L864.67,387.4 L865.67,387.6 L866.67,387.7 L867.67,387.9 L868.67,388.1 L869.67,388.2 L870.67,388.4 L871.67,388.6 L872.67,388.8 L873.67,388.9 L874.00,389.0 L874.67,389.1 L875.67,389.3 L876.67,389.5 L877.67,389.7 L878.67,389.9 L879.67,390.1 L880.67,390.3 L881.67,390.5 L882.67,390.7 L883.67,390.9 L884.67,391.1 L885.67,391.3 L886.67,391.5 L887.67,391.8 L888.67,392.0 L889.67,392.2 L890.67,392.4 L891.67,392.6 L892.67,392.9 L893.67,393.1 L894.67,393.3 L895.67,393.5 L896.67,393.7 L897.67,394.0 L898.67,394.2 L899.67,394.4 L900.67,394.6 L901.67,394.8 L902.67,395.1 L903.67,395.3 L904.67,395.5 L905.67,395.7 L906.67,395.9 L907.67,396.1 L908.67,396.3 L909.67,396.6 L910.67,396.8 L911.67,397.0 L912.67,397.2 L913.67,397.4 L914.67,397.6 L915.67,397.8 L916.67,398.0 L916.93,398.0 L917.67,398.1 L918.67,398.3 L919.67,398.5 L920.67,398.7 L921.67,398.9 L922.67,399.1 L923.67,399.2 L924.67,399.4 L925.67,399.6 L926.67,399.8 L927.67,399.9 L928.67,400.1 L929.67,400.3 L930.67,400.5 L931.67,400.6 L932.67,400.8 L933.67,401.0 L934.67,401.2 L935.67,401.3 L936.67,401.5 L937.67,401.7 L938.67,401.8 L939.67,402.0 L939.73,402.0 L940.67,402.2 L941.67,402.3 L942.67,402.5 L943.67,402.6 L944.67,402.8 L945.67,403.0 L946.67,403.1 L947.67,403.3 L948.67,403.4 L949.67,403.6 L950.67,403.7 L951.67,403.9 L952.67,404.0 L953.67,404.2 L954.67,404.3 L955.67,404.5 L956.67,404.6 L957.67,404.8 L958.67,404.9 L959.67,405.1 L960.67,405.2 L961.67,405.4 L962.67,405.5 L963.67,405.7 L964.67,405.8 L965.67,405.9 L966.67,406.1 L967.67,406.2 L968.67,406.4 L969.67,406.5 L970.67,406.7 L971.67,406.8 L972.67,407.0 L973.67,407.1 L974.67,407.3 L975.67,407.4 L976.67,407.6 L977.67,407.7 L978.67,407.9 L979.67,408.0 L980.67,408.2 L981.67,408.3 L982.67,408.5 L983.67,408.7 L984.67,408.8 L985.67,409.0 L986.67,409.2 L987.67,409.3 L988.67,409.5 L989.67,409.7 L990.67,409.8 L991.67,410.0 L992.67,410.2 L993.67,410.4 L994.67,410.5 L995.67,410.7 L996.67,410.9 L997.20,411.0 L997.67,411.1 L998.67,411.3 L999.67,411.5 L1000.67,411.7 L1001.67,411.9 L1002.67,412.1 L1003.67,412.3 L1004.67,412.5 L1005.67,412.7 L1006.67,412.9 L1007.67,413.1 L1008.67,413.3 L1009.67,413.5 L1010.67,413.8 L1011.67,414.0 L1012.67,414.2 L1013.67,414.4 L1014.67,414.7 L1015.67,414.9 L1016.67,415.1 L1017.67,415.4 L1018.67,415.6 L1019.67,415.8 L1020.67,416.1 L1021.67,416.3 L1022.67,416.5 L1023.67,416.8 L1024.67,417.0 L1025.67,417.3 L1026.67,417.5 L1027.67,417.8 L1028.67,418.0 L1029.67,418.2 L1030.67,418.5 L1031.67,418.7 L1032.67,419.0 L1033.67,419.2 L1034.67,419.5 L1035.67,419.7 L1036.67,420.0 L1037.67,420.2 L1038.67,420.5 L1039.67,420.7 L1040.67,421.0 L1041.67,421.2 L1042.67,421.5 L1043.67,421.7 L1044.67,422.0 L1045.67,422.2 L1046.67,422.5 L1047.67,422.7 L1048.67,423.0 L1049.67,423.2 L1050.67,423.5 L1051.67,423.7 L1052.67,424.0 L1053.67,424.2 L1054.67,424.5 L1055.67,424.7 L1056.67,424.9 L1057.67,425.2 L1058.67,425.4 L1059.67,425.7 L1060.67,425.9 L1061.13,426.0 L1061.67,426.1 L1062.67,426.4 L1063.67,426.6 L1064.67,426.8 L1065.67,427.1 L1066.67,427.3 L1067.67,427.5 L1068.67,427.8 L1069.67,428.0 L1070.67,428.3 L1071.67,428.5 L1072.67,428.7 L1073.67,429.0 L1074.67,429.2 L1075.67,429.5 L1076.67,429.7 L1077.67,429.9 L1078.67,430.2 L1079.67,430.4 L1080.67,430.7 L1081.67,430.9 L1082.67,431.1 L1083.67,431.4 L1084.67,431.6 L1085.67,431.9 L1086.67,432.1 L1087.67,432.3 L1088.67,432.6 L1089.67,432.8 L1090.67,433.1 L1091.67,433.3 L1092.67,433.5 L1093.67,433.8 L1094.67,434.0 L1095.67,434.3 L1096.67,434.5 L1097.67,434.7 L1098.67,435.0 L1099.67,435.2 L1100.67,435.4 L1101.67,435.7 L1102.67,435.9 L1103.67,436.1 L1104.67,436.4 L1105.67,436.6 L1106.67,436.9 L1107.67,437.1 L1108.67,437.3 L1109.67,437.5 L1110.67,437.8 L1111.67,438.0 L1112.67,438.2 L1113.67,438.5 L1114.67,438.7 L1115.67,438.9 L1116.67,439.1 L1117.67,439.4 L1118.67,439.6 L1119.67,439.8 L1120.67,440.0 L1121.67,440.3 L1122.67,440.5 L1123.67,440.7 L1124.67,440.9 L1125.00,441.0 L1125.67,441.1 L1126.67,441.4 L1127.67,441.6 L1128.67,441.8 L1129.67,442.0 L1130.67,442.2 L1131.67,442.5 L1132.67,442.7 L1133.67,442.9 L1134.67,443.1 L1135.67,443.3 L1136.67,443.6 L1137.67,443.8 L1138.67,444.0 L1139.67,444.2 L1140.67,444.4 L1141.67,444.7 L1142.67,444.9 L1143.67,445.1 L1144.67,445.3 L1145.67,445.5 L1146.67,445.7 L1147.67,446.0 L1148.67,446.2 L1149.67,446.4 L1150.67,446.6 L1151.67,446.8 L1152.67,447.0 L1153.67,447.2 L1154.67,447.4 L1155.67,447.7 L1156.67,447.9 L1157.67,448.1 L1158.67,448.3 L1159.67,448.5 L1160.67,448.7 L1161.67,448.9 L1162.67,449.1 L1163.67,449.3 L1164.67,449.5 L1165.67,449.7 L1166.67,449.9 L1167.67,450.1 L1168.67,450.3 L1169.67,450.5 L1170.67,450.7 L1171.67,450.9 L1172.67,451.1 L1173.67,451.3 L1174.67,451.5 L1175.67,451.7 L1176.67,451.9 L1177.67,452.0 L1178.67,452.2 L1179.67,452.4 L1180.67,452.6 L1181.67,452.8 L1182.67,452.9 L1183.67,453.1 L1184.67,453.3 L1185.67,453.5 L1186.67,453.6 L1187.67,453.8 L1188.67,454.0 L1188.87,454.0 L1189.67,454.1 L1190.67,454.3 L1191.67,454.5 L1192.67,454.6 L1193.67,454.8 L1194.67,454.9 L1195.67,455.1 L1196.67,455.2 L1197.67,455.4 L1198.67,455.5 L1199.67,455.7 L1200.67,455.8 L1201.67,456.0 L1202.67,456.1 L1203.67,456.2 L1204.67,456.4 L1205.67,456.5 L1206.67,456.7 L1207.67,456.8 L1208.67,456.9 L1209.67,457.1 L1210.67,457.2 L1211.67,457.3 L1212.67,457.5 L1213.67,457.6 L1214.67,457.7 L1215.67,457.9 L1216.67,458.0 L1217.67,458.1 L1218.67,458.3 L1219.67,458.4 L1220.67,458.5 L1221.67,458.7 L1222.67,458.8 L1223.67,458.9 L1224.67,459.1 L1225.67,459.2 L1226.67,459.4 L1227.67,459.5 L1228.67,459.6 L1229.67,459.8 L1230.67,459.9 L1231.33,460.0 L1231.67,460.0 L1232.67,460.2 L1233.67,460.3 L1234.67,460.5 L1235.67,460.6 L1236.67,460.8 L1237.67,460.9 L1238.67,461.0 L1239.67,461.2 L1240.67,461.3 L1241.67,461.5 L1242.67,461.6 L1243.67,461.7 L1244.67,461.9" stroke="#9400ff" stroke-width="27"/>
</g>
<g transform="scale(1.0,1)" fill="none" stroke-linejoin="round" stroke-linecap="butt">
<path d="M178.00,773.0 L179.00,773.0 L180.00,773.0 L181.00,773.0 L182.00,773.0 L183.00,773.0 L184.00,773.0 L185.00,773.0 L186.00,773.0 L187.00,773.0 L188.00,773.0 L189.00,773.0 L190.00,773.0 L191.00,773.0 L192.00,773.0 L193.00,773.0 L194.00,773.0 L195.00,773.0 L196.00,773.0 L197.00,773.0 L198.00,773.0 L199.00,773.0 L200.00,773.0 L201.00,773.0 L202.00,773.0 L203.00,773.0 L204.00,773.0 L205.00,773.0 L206.00,773.0 L207.00,773.0 L208.00,773.0 L209.00,773.0 L210.00,773.0 L211.00,773.0 L212.00,773.0 L213.00,773.0 L214.00,773.0 L215.00,773.0 L216.00,773.0 L217.00,773.0 L218.00,773.0 L219.00,773.0 L220.00,773.0 L221.00,773.0 L222.00,773.0 L223.00,773.0 L224.00,773.0 L225.00,773.0 L226.00,773.0 L227.00,773.0 L228.00,773.0 L229.00,773.0 L230.00,773.0 L230.80,773.0 L231.00,773.0 L232.00,773.0 L233.00,773.0 L234.00,772.9 L235.00,772.9 L236.00,772.8 L237.00,772.8 L238.00,772.7 L239.00,772.6 L240.00,772.5 L241.00,772.4 L242.00,772.3 L243.00,772.2 L244.00,772.1 L245.00,772.0 L246.00,771.9 L247.00,771.8 L248.00,771.7 L249.00,771.6 L250.00,771.5 L251.00,771.4 L252.00,771.3 L253.00,771.2 L254.00,771.1 L255.00,771.0 L256.00,770.9 L257.00,770.8 L258.00,770.7 L259.00,770.6 L260.00,770.5 L261.00,770.4 L262.00,770.3 L263.00,770.2 L264.00,770.2 L265.00,770.1 L266.00,770.0 L267.00,770.0 L268.00,770.0 L269.00,770.0 L270.00,770.0 L271.00,770.0 L272.00,770.0 L273.00,770.0 L274.00,770.0 L275.00,770.0 L276.00,770.0 L277.00,770.1 L278.00,770.1 L279.00,770.1 L280.00,770.1 L281.00,770.1 L282.00,770.2 L283.00,770.2 L284.00,770.2 L285.00,770.2 L286.00,770.3 L287.00,770.3 L288.00,770.3 L289.00,770.4 L290.00,770.4 L291.00,770.5 L292.00,770.5 L293.00,770.6 L294.00,770.9 L295.00,771.3 L296.00,771.8 L297.00,772.2 L298.00,772.6 L299.00,772.9 L300.00,773.0 L301.00,773.0 L302.00,773.0 L303.00,773.0 L304.00,773.0 L305.00,773.0 L306.00,773.0 L307.00,773.0 L308.00,773.0 L309.00,773.0 L310.00,773.0 L311.00,773.0 L312.00,773.0 L313.00,773.0 L314.00,773.0 L315.00,773.0 L316.00,773.0 L317.00,773.0 L318.00,773.0 L319.00,772.8 L320.00,772.2 L321.00,771.3 L322.00,770.2 L323.00,769.1 L324.00,768.0 L325.00,766.9 L326.00,765.8 L327.00,764.5 L328.00,763.1 L329.00,761.7 L330.00,760.1 L331.00,758.6 L332.00,756.9 L333.00,755.2 L334.00,753.5 L335.00,751.7 L336.00,749.9 L337.00,748.1 L338.00,746.2 L339.00,744.4 L340.00,742.6 L341.00,740.8 L342.00,739.0 L343.00,737.2 L344.00,735.5 L345.00,733.8 L346.00,732.2 L347.00,730.6 L348.00,729.1 L349.00,727.7 L350.00,726.3 L351.00,725.1 L352.00,723.9 L353.00,722.9 L354.00,722.0 L355.00,721.2 L356.00,720.5 L357.00,719.8 L358.00,719.2 L359.00,718.6 L360.00,718.0 L361.00,717.4 L362.00,716.9 L363.00,716.4 L364.00,716.0 L365.00,715.7 L366.00,715.4 L367.00,715.1 L368.00,714.8 L369.00,714.5 L370.00,714.3 L371.00,714.0 L372.00,713.8 L373.00,713.6 L374.00,713.4 L375.00,713.2 L376.00,713.0 L377.00,712.8 L378.00,712.6 L379.00,712.4 L380.00,712.2 L381.00,712.0 L381.70,711.8 L382.00,711.7 L383.00,711.5 L384.00,711.2 L385.00,710.9 L386.00,710.6 L387.00,710.3 L388.00,710.0 L389.00,709.7 L390.00,709.5 L391.00,709.3 L392.00,709.1 L393.00,709.0 L394.00,709.0 L395.00,709.0 L396.00,709.0 L397.00,709.1 L398.00,709.1 L399.00,709.2 L400.00,709.3 L401.00,709.4 L402.00,709.5 L403.00,709.5 L404.00,709.6 L405.00,709.7 L406.00,709.8 L407.00,709.8 L408.00,709.9 L409.00,709.9 L409.90,709.9 L410.00,709.9 L411.00,709.9 L412.00,709.9 L413.00,709.9 L414.00,709.8 L415.00,709.8 L416.00,709.8 L417.00,709.7 L418.00,709.7 L419.00,709.6 L420.00,709.6 L421.00,709.5 L422.00,709.5 L423.00,709.4 L424.00,709.3 L425.00,709.2 L426.00,709.2 L427.00,709.1 L428.00,709.0 L429.00,708.9 L430.00,708.8 L431.00,708.7 L432.00,708.6 L433.00,708.5 L434.00,708.4 L435.00,708.3 L436.00,708.2 L437.00,708.1 L438.00,708.0 L439.00,707.8 L440.00,707.7 L441.00,707.6 L442.00,707.5 L443.00,707.4 L444.00,707.3 L445.00,707.1 L446.00,707.0 L447.00,706.9 L448.00,706.8 L449.00,706.7 L450.00,706.6 L451.00,706.4 L452.00,706.3 L453.00,706.2 L454.00,706.1 L455.00,706.0 L456.00,705.9 L457.00,705.8 L458.00,705.7 L459.00,705.6 L460.00,705.4 L461.00,705.3 L462.00,705.2 L463.00,705.1 L464.00,705.0 L465.00,704.8 L466.00,704.7 L467.00,704.6 L468.00,704.5 L469.00,704.3 L470.00,704.2 L471.00,704.1 L472.00,703.9 L473.00,703.8 L474.00,703.6 L475.00,703.5 L476.00,703.4 L477.00,703.2 L478.00,703.1 L479.00,702.9 L480.00,702.8 L481.00,702.7 L482.00,702.5 L483.00,702.4 L484.00,702.2 L485.00,702.1 L486.00,701.9 L487.00,701.8 L488.00,701.6 L489.00,701.4 L490.00,701.3 L491.00,701.1 L492.00,701.0 L493.00,700.8 L494.00,700.7 L495.00,700.5 L496.00,700.3 L497.00,700.2 L498.00,700.0 L499.00,699.9 L500.00,699.7 L501.00,699.5 L502.00,699.4 L503.00,699.2 L504.00,699.0 L505.00,698.9 L506.00,698.7 L507.00,698.5 L508.00,698.4 L509.00,698.2 L510.00,698.0 L511.00,697.9 L512.00,697.7 L513.00,697.5 L514.00,697.4 L515.00,697.2 L516.00,697.0 L516.20,697.0 L517.00,696.9 L518.00,696.7 L519.00,696.5 L520.00,696.3 L521.00,696.2 L522.00,696.0 L523.00,695.8 L524.00,695.6 L525.00,695.4 L526.00,695.3 L527.00,695.1 L528.00,694.9 L529.00,694.7 L530.00,694.5 L531.00,694.3 L532.00,694.1 L533.00,693.9 L534.00,693.7 L535.00,693.5 L536.00,693.3 L537.00,693.1 L538.00,692.9 L539.00,692.7 L540.00,692.5 L541.00,692.3 L542.00,692.1 L543.00,691.9 L544.00,691.7 L545.00,691.5 L546.00,691.3 L547.00,691.1 L548.00,690.9 L549.00,690.7 L550.00,690.5 L551.00,690.3 L552.00,690.1 L553.00,689.9 L554.00,689.7 L555.00,689.5 L556.00,689.3 L557.00,689.1 L558.00,688.8 L559.00,688.6 L560.00,688.4 L561.00,688.2 L562.00,688.0 L563.00,687.8 L564.00,687.6 L565.00,687.4 L566.00,687.2 L567.00,687.0 L568.00,686.8 L569.00,686.6 L570.00,686.4 L571.00,686.2 L572.00,686.0 L573.00,685.8 L574.00,685.6 L575.00,685.5 L576.00,685.3 L577.00,685.1 L577.40,685.0 L578.00,684.9 L579.00,684.7 L580.00,684.5 L581.00,684.3 L582.00,684.1 L583.00,683.9 L584.00,683.8 L585.00,683.6 L586.00,683.4 L587.00,683.2 L588.00,683.0 L589.00,682.8 L590.00,682.6 L591.00,682.4 L592.00,682.3 L593.00,682.1 L594.00,681.9 L595.00,681.7 L596.00,681.5 L597.00,681.3 L598.00,681.1 L599.00,680.9 L600.00,680.7 L601.00,680.6 L602.00,680.4 L603.00,680.2 L604.00,680.0 L605.00,679.8 L606.00,679.6 L607.00,679.4 L608.00,679.3 L609.00,679.1 L610.00,678.9 L611.00,678.7 L612.00,678.5 L613.00,678.3 L614.00,678.2 L615.00,678.0 L616.00,677.8 L617.00,677.6 L618.00,677.4 L619.00,677.3 L620.00,677.1 L621.00,676.9 L622.00,676.7 L623.00,676.6 L624.00,676.4 L625.00,676.2 L626.00,676.0 L627.00,675.9 L628.00,675.7 L629.00,675.5 L630.00,675.3 L631.00,675.2 L632.00,675.0 L633.00,674.8 L634.00,674.7 L635.00,674.5 L636.00,674.3 L637.00,674.2 L638.00,674.0 L639.00,673.8 L640.00,673.7 L641.00,673.5 L642.00,673.3 L643.00,673.2 L644.00,673.0 L644.20,673.0 L645.00,672.9 L646.00,672.7 L647.00,672.6 L648.00,672.4 L649.00,672.3 L650.00,672.1 L651.00,672.0 L652.00,671.8 L653.00,671.7 L654.00,671.5 L655.00,671.4 L656.00,671.3 L657.00,671.1 L658.00,671.0 L659.00,670.9 L660.00,670.7 L661.00,670.6 L662.00,670.5 L663.00,670.3 L664.00,670.2 L665.00,670.1 L666.00,669.9 L667.00,669.8 L668.00,669.7 L669.00,669.5 L670.00,669.4 L671.00,669.3 L672.00,669.2 L673.00,669.0 L674.00,668.9 L675.00,668.8 L676.00,668.7 L677.00,668.5 L678.00,668.4 L679.00,668.3 L680.00,668.1 L681.00,668.0 L682.00,667.9 L683.00,667.7 L684.00,667.6 L685.00,667.5 L686.00,667.4 L687.00,667.2 L688.00,667.1 L689.00,666.9 L690.00,666.8 L691.00,666.7 L692.00,666.5 L693.00,666.4 L694.00,666.3 L695.00,666.1 L696.00,666.0 L697.00,665.8 L698.00,665.7 L699.00,665.5 L700.00,665.4 L701.00,665.2 L702.00,665.1 L703.00,664.9 L704.00,664.7 L705.00,664.6 L706.00,664.4 L707.00,664.3 L708.00,664.1 L708.50,664.0 L709.00,663.9 L710.00,663.7 L711.00,663.6 L712.00,663.4 L713.00,663.2 L714.00,663.0 L715.00,662.8 L716.00,662.7 L717.00,662.5 L718.00,662.3 L719.00,662.1 L720.00,661.9 L721.00,661.7 L722.00,661.5 L723.00,661.3 L724.00,661.1 L725.00,660.9 L726.00,660.7 L727.00,660.5 L728.00,660.3 L729.00,660.1 L730.00,659.9 L731.00,659.7 L732.00,659.5 L733.00,659.3 L734.00,659.0 L735.00,658.8 L736.00,658.6 L737.00,658.4 L738.00,658.2 L739.00,658.0 L740.00,657.7 L741.00,657.5 L742.00,657.3 L743.00,657.1 L744.00,656.8 L745.00,656.6 L746.00,656.4 L747.00,656.1 L748.00,655.9 L749.00,655.7 L750.00,655.5 L751.00,655.2 L752.00,655.0 L753.00,654.8 L754.00,654.5 L755.00,654.3 L756.00,654.0 L757.00,653.8 L758.00,653.6 L759.00,653.3 L760.00,653.1 L761.00,652.8 L762.00,652.6 L763.00,652.4 L764.00,652.1 L765.00,651.9 L766.00,651.6 L767.00,651.4 L768.00,651.2 L769.00,650.9 L770.00,650.7 L771.00,650.4 L772.00,650.2 L772.70,650.0 L773.00,649.9 L774.00,649.7 L775.00,649.4 L776.00,649.2 L777.00,648.9 L778.00,648.7 L779.00,648.4 L780.00,648.2 L781.00,647.9 L782.00,647.7 L783.00,647.4 L784.00,647.2 L785.00,646.9 L786.00,646.7 L787.00,646.4 L788.00,646.2 L789.00,645.9 L790.00,645.7 L791.00,645.4 L792.00,645.2 L793.00,644.9 L794.00,644.6 L795.00,644.4 L796.00,644.1 L797.00,643.8 L798.00,643.6 L799.00,643.3 L800.00,643.0 L801.00,642.8 L802.00,642.5 L803.00,642.2 L804.00,642.0 L805.00,641.7 L806.00,641.4 L807.00,641.1 L808.00,640.9 L809.00,640.6 L810.00,640.3 L811.00,640.0 L812.00,639.7 L813.00,639.4 L814.00,639.2 L815.00,638.9 L816.00,638.6 L817.00,638.3 L818.00,638.0 L819.00,637.7 L820.00,637.4 L821.00,637.1 L822.00,636.8 L823.00,636.5 L824.00,636.2 L825.00,635.9 L826.00,635.5 L827.00,635.2 L828.00,634.9 L829.00,634.6 L830.00,634.3 L831.00,634.0 L832.00,633.6 L833.00,633.3 L834.00,633.0 L835.00,632.6 L836.00,632.3 L836.90,632.0 L837.00,632.0 L838.00,631.6 L839.00,631.2 L840.00,630.8 L841.00,630.4 L842.00,629.9 L843.00,629.5 L844.00,629.0 L845.00,628.5 L846.00,628.0 L847.00,627.5 L848.00,627.0 L849.00,626.5 L850.00,626.1 L851.00,625.6 L852.00,625.2 L853.00,624.8 L854.00,624.4 L855.00,624.0 L856.00,623.7 L857.00,623.4 L858.00,623.2 L859.00,623.0 L860.00,622.8 L861.00,622.7 L862.00,622.6 L863.00,622.5 L864.00,622.4 L865.00,622.3 L866.00,622.2 L867.00,622.2 L868.00,622.1 L869.00,622.0 L870.00,622.0 L871.00,621.9 L872.00,621.9 L873.00,621.8 L874.00,621.8 L875.00,621.7 L876.00,621.7 L877.00,621.6 L878.00,621.5 L879.00,621.4 L880.00,621.3 L881.00,621.2 L882.00,621.1 L882.40,621.0 L883.00,620.9 L884.00,620.6 L885.00,620.3 L886.00,619.9 L887.00,619.4 L888.00,618.9 L889.00,618.3 L890.00,617.6 L891.00,617.0 L892.00,616.3 L893.00,615.6 L894.00,614.9 L895.00,614.2 L896.00,613.5 L897.00,612.8 L898.00,612.2 L899.00,611.6 L899.20,611.5 L900.00,611.1 L901.00,610.5 L902.00,610.0 L903.00,609.5 L904.00,609.0 L905.00,608.5 L906.00,608.0 L907.00,607.5 L908.00,606.9 L909.00,606.4 L910.00,605.8 L911.00,605.3 L912.00,604.6 L913.00,604.0 L914.00,603.3 L915.00,602.5 L916.00,601.5 L917.00,600.6 L918.00,599.5 L919.00,598.5 L920.00,597.4 L921.00,596.4 L922.00,595.4 L923.00,594.4 L924.00,593.5 L925.00,592.7 L926.00,592.1 L927.00,591.5 L928.00,591.1 L928.50,591.0 L929.00,590.9 L930.00,590.7 L931.00,590.5 L932.00,590.3 L933.00,590.2 L934.00,590.1 L935.00,590.0 L936.00,590.0 L937.00,590.2 L938.00,590.6 L939.00,591.3 L940.00,592.2 L941.00,593.1 L942.00,594.1 L943.00,595.2 L944.00,596.1 L945.00,597.0 L946.00,597.8 L947.00,598.5 L948.00,599.2 L949.00,600.0 L950.00,600.7 L951.00,601.4 L952.00,602.2 L953.00,603.0 L954.00,603.8 L955.00,604.7 L955.30,605.0 L956.00,605.7 L957.00,606.6 L958.00,607.7 L959.00,608.7 L960.00,609.8 L961.00,611.0 L962.00,612.2 L963.00,613.4 L964.00,614.7 L965.00,616.0 L966.00,617.3 L966.50,618.0 L967.00,618.7 L968.00,620.5 L969.00,622.3 L970.00,624.2 L971.00,625.8 L972.00,626.9 L972.10,627.0 L973.00,627.7 L974.00,628.4 L975.00,629.0 L976.00,629.6 L977.00,630.2 L978.00,630.6 L979.00,631.1 L980.00,631.5 L981.00,631.9 L982.00,632.3 L983.00,632.6 L984.00,633.0 L985.00,633.4 L986.00,633.8 L987.00,634.1 L988.00,634.6 L989.00,635.0 L990.00,635.5 L991.00,636.0 L992.00,636.6 L993.00,637.1 L994.00,637.7 L995.00,638.3 L996.00,638.9 L997.00,639.5 L998.00,640.0 L999.00,640.6 L1000.00,641.0 L1001.00,641.5 L1002.00,641.8 L1003.00,642.1 L1004.00,642.3 L1005.00,642.5 L1005.80,642.5 L1006.00,642.5 L1007.00,642.5 L1008.00,642.5 L1009.00,642.4 L1010.00,642.4 L1011.00,642.4 L1012.00,642.3 L1013.00,642.2 L1014.00,642.2 L1015.00,642.1 L1016.00,642.0 L1017.00,642.0 L1018.00,641.9 L1019.00,641.8 L1020.00,641.7 L1021.00,641.7 L1022.00,641.6 L1023.00,641.5 L1024.00,641.5 L1025.00,641.4 L1026.00,641.4 L1027.00,641.3 L1028.00,641.3 L1028.20,641.3 L1029.00,641.3 L1030.00,641.3 L1031.00,641.2 L1032.00,641.2 L1033.00,641.2 L1034.00,641.2 L1035.00,641.2 L1036.00,641.1 L1037.00,641.1 L1038.00,641.1 L1039.00,641.1 L1040.00,641.1 L1041.00,641.1 L1042.00,641.1 L1043.00,641.0 L1044.00,641.0 L1045.00,641.0 L1046.00,641.0 L1047.00,641.0 L1048.00,641.0 L1049.00,641.0 L1050.00,641.0 L1050.60,641.0 L1051.00,641.0 L1052.00,641.0 L1053.00,641.1 L1054.00,641.2 L1055.00,641.3 L1056.00,641.5 L1057.00,641.7 L1058.00,641.9 L1059.00,642.1 L1060.00,642.3 L1061.00,642.6 L1062.00,642.8 L1063.00,643.1 L1064.00,643.4 L1065.00,643.7 L1066.00,644.0 L1067.00,644.3 L1068.00,644.6 L1069.00,644.9 L1070.00,645.2 L1071.00,645.5 L1072.00,645.8 L1073.00,646.1 L1074.00,646.3 L1075.00,646.6 L1076.00,646.8 L1077.00,647.0 L1078.00,647.2 L1079.00,647.4 L1079.80,647.5 L1080.00,647.5 L1081.00,647.7 L1082.00,647.8 L1083.00,647.9 L1084.00,648.0 L1085.00,648.1 L1086.00,648.2 L1087.00,648.3 L1088.00,648.4 L1089.00,648.5 L1090.00,648.6 L1091.00,648.7 L1092.00,648.8 L1093.00,648.9 L1094.00,649.0 L1095.00,649.1 L1096.00,649.1 L1097.00,649.2 L1098.00,649.3 L1099.00,649.4 L1100.00,649.4 L1101.00,649.5 L1102.00,649.6 L1103.00,649.7 L1104.00,649.8 L1105.00,649.8 L1106.00,649.9 L1107.00,650.0 L1108.00,650.1 L1109.00,650.1 L1110.00,650.2 L1111.00,650.3 L1112.00,650.4 L1113.00,650.5 L1114.00,650.6 L1115.00,650.7 L1116.00,650.8 L1117.00,650.8 L1118.00,650.9 L1118.50,651.0 L1119.00,651.1 L1120.00,651.2 L1121.00,651.3 L1122.00,651.4 L1123.00,651.5 L1124.00,651.6 L1125.00,651.7 L1126.00,651.8 L1127.00,652.0 L1128.00,652.1 L1129.00,652.2 L1130.00,652.3 L1131.00,652.5 L1132.00,652.6 L1133.00,652.7 L1134.00,652.9 L1135.00,653.0 L1136.00,653.1 L1137.00,653.3 L1138.00,653.4 L1139.00,653.5 L1140.00,653.7 L1141.00,653.8 L1142.00,654.0 L1143.00,654.1 L1144.00,654.2 L1145.00,654.4 L1146.00,654.5 L1147.00,654.7 L1148.00,654.8 L1149.00,654.9 L1150.00,655.1 L1151.00,655.2 L1152.00,655.4 L1153.00,655.5 L1154.00,655.6 L1155.00,655.8 L1156.00,655.9 L1157.00,656.1 L1158.00,656.2 L1159.00,656.3 L1160.00,656.5 L1161.00,656.6 L1162.00,656.7 L1163.00,656.8 L1164.00,657.0 L1165.00,657.1 L1166.00,657.2 L1167.00,657.4 L1168.00,657.5 L1169.00,657.6 L1170.00,657.7 L1171.00,657.8 L1172.00,657.9 L1173.00,658.1 L1174.00,658.2 L1175.00,658.3 L1176.00,658.4 L1177.00,658.5 L1178.00,658.6 L1179.00,658.7 L1180.00,658.8 L1181.00,658.9 L1182.00,658.9 L1182.70,659.0 L1183.00,659.0 L1184.00,659.1 L1185.00,659.2 L1186.00,659.3 L1187.00,659.3 L1188.00,659.4 L1189.00,659.5 L1190.00,659.6 L1191.00,659.6 L1192.00,659.7 L1193.00,659.8 L1194.00,659.9 L1195.00,659.9 L1196.00,660.0 L1197.00,660.1 L1198.00,660.1 L1199.00,660.2 L1200.00,660.3 L1201.00,660.3 L1202.00,660.4 L1203.00,660.5 L1204.00,660.5 L1205.00,660.6 L1206.00,660.6 L1207.00,660.7 L1208.00,660.8 L1209.00,660.8 L1210.00,660.9 L1211.00,660.9 L1212.00,661.0 L1213.00,661.1 L1214.00,661.1 L1215.00,661.2 L1216.00,661.2 L1217.00,661.3 L1218.00,661.3 L1219.00,661.4 L1220.00,661.5 L1221.00,661.5 L1222.00,661.6 L1223.00,661.6 L1224.00,661.7 L1225.00,661.7 L1226.00,661.8 L1227.00,661.8 L1228.00,661.9 L1229.00,662.0 L1230.00,662.0 L1231.00,662.1 L1232.00,662.1 L1233.00,662.2 L1234.00,662.2 L1235.00,662.3 L1236.00,662.4 L1237.00,662.4 L1238.00,662.5 L1239.00,662.5 L1240.00,662.6 L1241.00,662.6 L1242.00,662.7 L1243.00,662.8 L1244.00,662.8 L1245.00,662.9 L1246.00,662.9 L1246.90,663.0 L1247.00,663.0 L1248.00,663.1 L1249.00,663.1 L1250.00,663.2 L1251.00,663.3 L1252.00,663.3 L1253.00,663.4 L1254.00,663.4 L1255.00,663.5 L1256.00,663.6 L1257.00,663.6 L1258.00,663.7 L1259.00,663.7 L1260.00,663.8 L1261.00,663.9 L1262.00,663.9 L1263.00,664.0 L1264.00,664.0 L1265.00,664.1 L1266.00,664.2 L1267.00,664.2 L1268.00,664.3 L1269.00,664.3 L1270.00,664.4 L1271.00,664.5 L1272.00,664.5 L1273.00,664.6 L1274.00,664.6 L1275.00,664.7 L1276.00,664.8 L1277.00,664.8 L1278.00,664.9 L1279.00,664.9 L1280.00,665.0 L1281.00,665.1 L1282.00,665.1 L1283.00,665.2 L1284.00,665.2 L1285.00,665.3 L1286.00,665.4 L1287.00,665.4 L1288.00,665.5 L1289.00,665.6 L1290.00,665.6 L1291.00,665.7 L1292.00,665.7 L1293.00,665.8 L1294.00,665.9 L1295.00,665.9 L1296.00,666.0 L1297.00,666.1 L1298.00,666.1 L1299.00,666.2 L1300.00,666.3 L1301.00,666.3 L1302.00,666.4 L1303.00,666.5 L1304.00,666.5 L1305.00,666.6 L1306.00,666.7 L1307.00,666.7 L1308.00,666.8 L1309.00,666.9 L1310.00,666.9 L1311.00,667.0 L1311.10,667.0 L1312.00,667.1 L1313.00,667.1 L1314.00,667.2 L1315.00,667.3 L1316.00,667.3 L1317.00,667.4 L1318.00,667.5 L1319.00,667.6 L1320.00,667.6 L1321.00,667.7 L1322.00,667.8 L1323.00,667.9 L1324.00,667.9 L1325.00,668.0 L1326.00,668.1 L1327.00,668.2 L1328.00,668.2 L1329.00,668.3 L1330.00,668.4 L1331.00,668.5 L1332.00,668.5 L1333.00,668.6 L1334.00,668.7 L1335.00,668.8 L1336.00,668.9 L1337.00,668.9 L1338.00,669.0 L1339.00,669.1 L1340.00,669.2 L1341.00,669.2 L1342.00,669.3 L1343.00,669.4 L1344.00,669.5 L1345.00,669.6 L1346.00,669.6 L1347.00,669.7 L1348.00,669.8 L1349.00,669.9 L1350.00,670.0 L1351.00,670.1 L1352.00,670.1 L1353.00,670.2 L1354.00,670.3 L1355.00,670.4 L1356.00,670.5 L1357.00,670.5 L1358.00,670.6 L1359.00,670.7 L1360.00,670.8 L1361.00,670.9 L1362.00,671.0 L1363.00,671.0 L1364.00,671.1 L1365.00,671.2 L1366.00,671.3 L1367.00,671.4 L1368.00,671.4 L1369.00,671.5 L1370.00,671.6 L1371.00,671.7 L1372.00,671.8 L1373.00,671.9 L1374.00,671.9 L1375.00,672.0 L1376.00,672.1 L1377.00,672.2 L1378.00,672.3 L1379.00,672.3 L1380.00,672.4 L1381.00,672.5 L1382.00,672.6 L1383.00,672.7 L1384.00,672.7 L1385.00,672.8 L1386.00,672.9 L1387.00,673.0 L1388.00,673.1 L1389.00,673.1 L1390.00,673.2 L1391.00,673.3 L1392.00,673.4 L1393.00,673.5 L1394.00,673.5 L1395.00,673.6 L1396.00,673.7 L1397.00,673.8 L1398.00,673.8 L1399.00,673.9 L1400.00,674.0 L1401.00,674.1 L1402.00,674.2 L1403.00,674.2 L1404.00,674.3 L1405.00,674.4 L1406.00,674.4 L1407.00,674.5 L1408.00,674.6 L1409.00,674.7 L1410.00,674.7 L1411.00,674.8 L1412.00,674.9 L1413.00,675.0 L1414.00,675.0 L1415.00,675.1 L1416.00,675.2 L1417.00,675.2 L1418.00,675.3 L1419.00,675.4 L1420.00,675.4 L1421.00,675.5 L1422.00,675.6 L1423.00,675.6 L1424.00,675.7 L1425.00,675.8 L1426.00,675.9 L1427.00,675.9 L1428.00,676.0 L1429.00,676.1 L1430.00,676.1 L1431.00,676.2 L1432.00,676.3 L1433.00,676.3 L1434.00,676.4 L1435.00,676.5 L1436.00,676.5 L1437.00,676.6 L1438.00,676.7 L1439.00,676.7 L1440.00,676.8 L1441.00,676.9 L1442.00,676.9 L1443.00,677.0 L1444.00,677.1 L1445.00,677.1 L1446.00,677.2 L1447.00,677.3 L1448.00,677.3 L1449.00,677.4 L1450.00,677.5 L1451.00,677.6 L1452.00,677.6 L1453.00,677.7 L1454.00,677.8 L1455.00,677.8 L1456.00,677.9 L1457.00,678.0 L1458.00,678.0 L1459.00,678.1 L1460.00,678.2 L1461.00,678.3 L1462.00,678.3 L1463.00,678.4 L1464.00,678.5 L1465.00,678.5 L1466.00,678.6 L1467.00,678.7 L1468.00,678.8 L1469.00,678.8 L1470.00,678.9 L1471.00,679.0 L1472.00,679.1 L1473.00,679.1 L1474.00,679.2 L1475.00,679.3 L1476.00,679.4 L1477.00,679.4 L1478.00,679.5 L1479.00,679.6 L1480.00,679.7 L1481.00,679.8 L1482.00,679.8 L1483.00,679.9 L1484.00,680.0 L1485.00,680.1 L1486.00,680.2 L1487.00,680.2 L1488.00,680.3 L1489.00,680.4 L1490.00,680.5 L1491.00,680.6 L1492.00,680.7 L1493.00,680.8 L1494.00,680.8 L1495.00,680.9 L1495.80,681.0 L1496.00,681.0 L1497.00,681.1 L1498.00,681.2 L1499.00,681.3 L1500.00,681.4 L1501.00,681.5 L1502.00,681.6 L1503.00,681.7 L1504.00,681.8 L1505.00,681.9 L1506.00,682.0 L1507.00,682.1 L1508.00,682.2 L1509.00,682.3 L1510.00,682.4 L1511.00,682.5 L1512.00,682.6 L1513.00,682.7 L1514.00,682.8 L1515.00,682.9 L1516.00,683.0 L1517.00,683.1 L1518.00,683.3 L1519.00,683.4 L1520.00,683.5 L1521.00,683.6 L1522.00,683.7 L1523.00,683.8 L1524.00,683.9 L1525.00,684.1 L1526.00,684.2 L1527.00,684.3 L1528.00,684.4 L1529.00,684.5 L1530.00,684.7 L1531.00,684.8 L1532.00,684.9 L1533.00,685.0 L1534.00,685.1 L1535.00,685.3 L1536.00,685.4 L1537.00,685.5 L1538.00,685.6 L1539.00,685.7 L1540.00,685.9 L1541.00,686.0 L1542.00,686.1 L1543.00,686.2 L1544.00,686.4 L1545.00,686.5 L1546.00,686.6 L1547.00,686.7 L1548.00,686.9 L1549.00,687.0 L1550.00,687.1 L1551.00,687.2 L1552.00,687.4 L1553.00,687.5 L1554.00,687.6 L1555.00,687.7 L1556.00,687.9 L1557.00,688.0 L1558.00,688.1 L1559.00,688.2 L1560.00,688.3 L1561.00,688.5 L1562.00,688.6 L1563.00,688.7 L1564.00,688.8 L1565.00,689.0 L1566.00,689.1 L1567.00,689.2 L1568.00,689.3 L1569.00,689.4 L1570.00,689.6 L1571.00,689.7 L1572.00,689.8 L1573.00,689.9 L1574.00,690.0 L1575.00,690.2 L1576.00,690.3 L1577.00,690.4 L1578.00,690.5 L1579.00,690.6 L1580.00,690.7 L1581.00,690.8 L1582.00,691.0 L1583.00,691.1 L1584.00,691.2 L1585.00,691.3 L1586.00,691.4 L1587.00,691.5 L1588.00,691.6 L1589.00,691.7 L1590.00,691.8 L1591.00,691.9 L1591.70,692.0 L1592.00,692.0 L1593.00,692.1 L1594.00,692.2 L1595.00,692.3 L1596.00,692.4 L1597.00,692.5 L1598.00,692.6 L1599.00,692.8 L1600.00,692.9 L1601.00,693.0 L1602.00,693.1 L1603.00,693.2 L1604.00,693.3 L1605.00,693.4 L1606.00,693.5 L1607.00,693.6 L1608.00,693.7 L1609.00,693.8 L1610.00,693.9 L1611.00,694.0 L1612.00,694.1 L1613.00,694.2 L1614.00,694.3 L1615.00,694.4 L1616.00,694.5 L1617.00,694.6 L1618.00,694.7 L1619.00,694.8 L1620.00,694.9 L1621.00,695.0 L1622.00,695.1 L1623.00,695.2 L1624.00,695.3 L1625.00,695.3 L1626.00,695.4 L1627.00,695.5 L1628.00,695.6 L1629.00,695.7 L1630.00,695.8 L1631.00,695.9 L1632.00,696.0 L1633.00,696.1 L1634.00,696.2 L1635.00,696.3 L1636.00,696.4 L1637.00,696.5 L1638.00,696.6 L1639.00,696.7 L1640.00,696.8 L1641.00,696.9 L1642.00,697.0 L1643.00,697.1 L1644.00,697.2 L1645.00,697.3 L1646.00,697.4 L1647.00,697.4 L1648.00,697.5 L1649.00,697.6 L1650.00,697.7 L1651.00,697.8 L1652.00,697.9 L1653.00,698.0 L1654.00,698.1 L1655.00,698.2 L1656.00,698.3 L1657.00,698.4 L1658.00,698.5 L1659.00,698.5 L1660.00,698.6 L1661.00,698.7 L1662.00,698.8 L1663.00,698.9 L1664.00,699.0 L1665.00,699.1 L1666.00,699.2 L1667.00,699.3 L1668.00,699.3 L1669.00,699.4 L1670.00,699.5 L1671.00,699.6 L1672.00,699.7 L1673.00,699.8 L1674.00,699.9 L1675.00,699.9 L1676.00,700.0 L1677.00,700.1 L1678.00,700.2 L1679.00,700.3 L1680.00,700.4 L1681.00,700.5 L1682.00,700.5 L1683.00,700.6 L1684.00,700.7 L1685.00,700.8 L1686.00,700.9 L1687.00,701.0 L1687.50,701.0 L1688.00,701.0 L1689.00,701.1 L1690.00,701.2 L1691.00,701.3 L1692.00,701.4 L1693.00,701.4 L1694.00,701.5 L1695.00,701.6 L1696.00,701.7 L1697.00,701.8 L1698.00,701.8 L1699.00,701.9 L1700.00,702.0 L1701.00,702.1 L1702.00,702.1 L1703.00,702.2 L1704.00,702.3 L1705.00,702.3 L1706.00,702.4 L1707.00,702.5 L1708.00,702.6 L1709.00,702.6 L1710.00,702.7 L1711.00,702.8 L1712.00,702.8 L1713.00,702.9 L1714.00,703.0 L1715.00,703.0 L1716.00,703.1 L1717.00,703.2 L1718.00,703.2 L1719.00,703.3 L1720.00,703.4 L1721.00,703.5 L1722.00,703.5 L1723.00,703.6 L1724.00,703.7 L1725.00,703.7 L1726.00,703.8 L1727.00,703.9 L1728.00,703.9 L1729.00,704.0 L1730.00,704.1 L1731.00,704.1 L1732.00,704.2 L1733.00,704.3 L1734.00,704.3 L1735.00,704.4 L1736.00,704.5 L1737.00,704.5 L1738.00,704.6 L1739.00,704.7 L1740.00,704.7 L1741.00,704.8 L1742.00,704.9 L1743.00,704.9 L1744.00,705.0 L1745.00,705.1 L1746.00,705.1 L1747.00,705.2 L1748.00,705.3 L1749.00,705.3 L1750.00,705.4 L1751.00,705.5 L1752.00,705.5 L1753.00,705.6 L1754.00,705.7 L1755.00,705.8 L1756.00,705.8 L1757.00,705.9 L1758.00,706.0 L1759.00,706.0 L1760.00,706.1 L1761.00,706.2 L1762.00,706.3 L1763.00,706.3 L1764.00,706.4 L1765.00,706.5 L1766.00,706.6 L1767.00,706.6 L1768.00,706.7 L1769.00,706.8 L1770.00,706.9 L1771.00,707.0 L1772.00,707.0 L1773.00,707.1 L1774.00,707.2 L1775.00,707.3 L1776.00,707.4 L1777.00,707.5 L1778.00,707.5 L1779.00,707.6 L1780.00,707.7 L1781.00,707.8 L1782.00,707.9 L1783.00,708.0 L1783.30,708.0 L1784.00,708.1 L1785.00,708.2 L1786.00,708.2 L1787.00,708.3 L1788.00,708.4 L1789.00,708.5 L1790.00,708.6 L1791.00,708.7 L1792.00,708.8 L1793.00,708.9 L1794.00,709.0 L1795.00,709.1 L1796.00,709.2 L1797.00,709.3 L1798.00,709.5 L1799.00,709.6 L1800.00,709.7 L1801.00,709.8 L1802.00,709.9 L1803.00,710.0 L1804.00,710.1 L1805.00,710.2 L1806.00,710.3 L1807.00,710.4 L1808.00,710.6 L1809.00,710.7 L1810.00,710.8 L1811.00,710.9 L1812.00,711.0 L1813.00,711.1 L1814.00,711.3 L1815.00,711.4 L1816.00,711.5 L1817.00,711.6 L1818.00,711.7 L1819.00,711.8 L1820.00,712.0 L1821.00,712.1 L1822.00,712.2 L1823.00,712.3 L1824.00,712.4 L1825.00,712.6 L1826.00,712.7 L1827.00,712.8 L1828.00,712.9 L1829.00,713.0 L1830.00,713.1 L1831.00,713.3 L1832.00,713.4 L1833.00,713.5 L1834.00,713.6 L1835.00,713.7 L1836.00,713.9 L1837.00,714.0 L1838.00,714.1 L1839.00,714.2 L1840.00,714.3 L1841.00,714.4 L1842.00,714.5 L1843.00,714.7 L1844.00,714.8 L1845.00,714.9 L1846.00,715.0 L1847.00,715.1 L1848.00,715.2 L1849.00,715.3 L1850.00,715.4 L1851.00,715.6 L1852.00,715.7 L1853.00,715.8 L1854.00,715.9 L1855.00,716.0 L1856.00,716.1 L1857.00,716.2 L1858.00,716.3 L1859.00,716.5 L1860.00,716.6 L1861.00,716.7 L1862.00,716.8 L1863.00,716.9 L1864.00,717.0 L1865.00,717.1 L1866.00,717.2" stroke="url(#pinkspeck)" stroke-width="24"/>
<polygon points="270.60,768.0 270.60,737.0 275.00,735.0 279.50,731.7 284.00,735.0 288.00,735.5 297.00,760.0 297.00,768.0" fill="url(#pinkspeck)" stroke="none"/>
<path d="M577.40,685.0 L578.40,684.8 L579.40,684.6 L580.40,684.5 L581.40,684.3 L582.40,684.1 L583.40,683.9 L584.40,683.7 L585.40,683.5 L586.40,683.4 L587.40,683.2 L588.41,683.0 L589.41,682.8 L590.41,682.6 L591.41,682.4 L592.41,682.2 L593.41,682.1 L594.41,681.9 L595.41,681.7 L596.41,681.5 L597.41,681.3 L598.41,681.1 L599.41,680.9 L600.41,680.7 L601.41,680.6 L602.41,680.4 L603.41,680.2 L604.41,680.0 L605.41,679.8 L606.41,679.6 L607.41,679.4 L608.41,679.3 L609.41,679.1 L610.42,678.9 L611.42,678.7 L612.42,678.5 L613.42,678.3 L614.42,678.1 L615.42,678.0 L616.42,677.8 L617.42,677.6 L618.42,677.4 L619.42,677.2 L620.42,677.1 L621.42,676.9 L622.42,676.7 L623.42,676.5 L624.42,676.3 L625.42,676.2 L626.42,676.0 L627.42,675.8 L628.42,675.6 L629.42,675.5 L630.42,675.3 L631.43,675.1 L632.43,674.9 L633.43,674.8 L634.43,674.6 L635.43,674.4 L636.43,674.3 L637.43,674.1 L638.43,673.9 L639.43,673.8 L640.43,673.6 L641.43,673.4 L642.43,673.3 L643.43,673.1 L644.20,673.0 L644.43,673.0 L645.43,672.8 L646.43,672.7 L647.43,672.5 L648.43,672.4 L649.43,672.2 L650.43,672.1 L651.43,671.9 L652.43,671.8 L653.44,671.6 L654.44,671.5 L655.44,671.3 L656.44,671.2 L657.44,671.1 L658.44,670.9 L659.44,670.8 L660.44,670.7 L661.44,670.5 L662.44,670.4 L663.44,670.3 L664.44,670.1 L665.44,670.0 L666.44,669.9 L667.44,669.7 L668.44,669.6 L669.44,669.5 L670.44,669.4 L671.44,669.2 L672.44,669.1 L673.44,669.0 L674.45,668.8 L675.45,668.7 L676.45,668.6 L677.45,668.5 L678.45,668.3 L679.45,668.2 L680.45,668.1 L681.45,667.9 L682.45,667.8 L683.45,667.7 L684.45,667.6 L685.45,667.4 L686.45,667.3 L687.45,667.2 L688.45,667.0 L689.45,666.9 L690.45,666.7 L691.45,666.6 L692.45,666.5 L693.45,666.3 L694.45,666.2 L695.45,666.0 L696.46,665.9 L697.46,665.7 L698.46,665.6 L699.46,665.5 L700.46,665.3 L701.46,665.1 L702.46,665.0 L703.46,664.8 L704.46,664.7 L705.46,664.5 L706.46,664.3 L707.46,664.2 L708.46,664.0 L708.50,664.0 L709.46,663.8 L710.46,663.7 L711.46,663.5 L712.46,663.3 L713.46,663.1 L714.46,662.9 L715.46,662.8 L716.46,662.6 L717.47,662.4 L718.47,662.2 L719.47,662.0 L720.47,661.8 L721.47,661.6 L722.47,661.4 L723.47,661.2 L724.47,661.0 L725.47,660.8 L726.47,660.6 L727.47,660.4 L728.47,660.2 L729.47,660.0 L730.47,659.8 L731.47,659.6 L732.47,659.4 L733.47,659.2 L734.47,658.9 L735.47,658.7 L736.47,658.5 L737.47,658.3 L738.47,658.1 L739.48,657.8 L740.48,657.6 L741.48,657.4 L742.48,657.2 L743.48,657.0 L744.48,656.7 L745.48,656.5 L746.48,656.3 L747.48,656.0 L748.48,655.8 L749.48,655.6 L750.48,655.3 L751.48,655.1 L752.48,654.9 L753.48,654.6 L754.48,654.4 L755.48,654.2 L756.48,653.9 L757.48,653.7 L758.48,653.5 L759.48,653.2 L760.49,653.0 L761.49,652.7 L762.49,652.5 L763.49,652.2 L764.49,652.0 L765.49,651.8 L766.49,651.5 L767.49,651.3 L768.49,651.0 L769.49,650.8 L770.49,650.5 L771.49,650.3 L772.49,650.1 L772.70,650.0 L773.49,649.8 L774.49,649.6 L775.49,649.3 L776.49,649.1 L777.49,648.8 L778.49,648.6 L779.49,648.3 L780.49,648.1 L781.50,647.8 L782.50,647.6 L783.50,647.3 L784.50,647.1 L785.50,646.8 L786.50,646.6 L787.50,646.3 L788.50,646.1 L789.50,645.8 L790.50,645.5 L791.50,645.3 L792.50,645.0 L793.50,644.8 L794.50,644.5 L795.50,644.2 L796.50,644.0 L797.50,643.7 L798.50,643.4 L799.50,643.2 L800.50,642.9 L801.50,642.6 L802.50,642.4 L803.51,642.1 L804.51,641.8 L805.51,641.6 L806.51,641.3 L807.51,641.0 L808.51,640.7 L809.51,640.4 L810.51,640.2 L811.51,639.9 L812.51,639.6 L813.51,639.3 L814.51,639.0 L815.51,638.7 L816.51,638.4 L817.51,638.1 L818.51,637.8 L819.51,637.5 L820.51,637.2 L821.51,636.9 L822.51,636.6 L823.51,636.3 L824.52,636.0 L825.52,635.7 L826.52,635.4 L827.52,635.1 L828.52,634.7 L829.52,634.4 L830.52,634.1 L831.52,633.8 L832.52,633.5 L833.52,633.1 L834.52,632.8 L835.52,632.5 L836.52,632.1 L836.90,632.0 L837.52,631.8 L838.52,631.4 L839.52,631.0 L840.52,630.6 L841.52,630.1 L842.52,629.7 L843.52,629.2 L844.52,628.7 L845.52,628.2 L846.53,627.7 L847.53,627.3 L848.53,626.8 L849.53,626.3 L850.53,625.8 L851.53,625.4 L852.53,625.0 L853.53,624.6 L854.53,624.2 L855.53,623.9 L856.53,623.5 L857.53,623.3 L858.53,623.0 L859.53,622.9 L860.00,622.8 L860.53,622.7 L861.53,622.6 L862.53,622.5 L863.53,622.4 L864.53,622.3 L865.53,622.3 L866.53,622.2 L867.54,622.1 L868.54,622.1 L869.54,622.0 L870.54,622.0 L871.54,621.9 L872.54,621.9 L873.54,621.8 L874.54,621.8 L875.54,621.7 L876.54,621.6 L877.54,621.5 L878.54,621.5 L879.54,621.4 L880.54,621.2 L881.54,621.1 L882.40,621.0 L882.54,621.0 L883.54,620.8 L884.54,620.5 L885.54,620.1 L886.54,619.6 L887.54,619.1 L888.54,618.5 L889.55,617.9 L890.55,617.3 L891.55,616.6 L892.55,615.9 L893.55,615.2 L894.55,614.5 L895.55,613.8 L896.55,613.1 L897.55,612.5 L898.55,611.9 L899.20,611.5 L899.55,611.3 L900.55,610.8 L901.55,610.2 L902.55,609.7 L903.55,609.2 L904.55,608.7 L905.55,608.2 L906.55,607.7 L907.55,607.2 L908.55,606.6 L909.55,606.1 L910.56,605.5 L911.56,604.9 L912.56,604.3 L913.00,604.0 L913.56,603.6 L914.56,602.8 L915.56,602.0 L916.56,601.0 L917.56,600.0 L918.56,599.0 L919.56,597.9 L920.56,596.8 L921.56,595.8 L922.56,594.8 L923.56,593.9 L924.56,593.1 L925.56,592.3 L926.56,591.7 L927.56,591.3 L928.50,591.0 L928.56,591.0 L929.56,590.8 L930.56,590.6 L931.56,590.4 L932.57,590.3 L933.57,590.1 L934.57,590.0 L935.57,590.0 L936.00,590.0 L936.57,590.1 L937.57,590.4 L938.57,591.0 L939.57,591.8 L940.57,592.7 L941.57,593.7 L942.57,594.7 L943.57,595.7 L944.57,596.7 L945.00,597.0 L945.57,597.4 L946.57,598.2 L947.57,598.9 L948.57,599.7 L949.57,600.4 L950.57,601.1 L951.57,601.9 L952.57,602.7 L953.58,603.5 L954.58,604.3 L955.30,605.0 L955.58,605.3 L956.58,606.2 L957.58,607.2 L958.58,608.3 L959.58,609.4 L960.58,610.5 L961.58,611.7 L962.58,612.9 L963.58,614.1 L964.58,615.4 L965.58,616.8 L966.50,618.0 L966.58,618.1 L967.58,619.7 L968.58,621.5 L969.58,623.4 L970.58,625.1 L971.58,626.5 L972.10,627.0 L972.58,627.4 L973.58,628.1 L974.58,628.8 L975.59,629.4 L976.59,629.9 L977.59,630.4 L978.59,630.9 L979.59,631.3 L980.59,631.7 L981.59,632.1 L982.59,632.5 L983.59,632.9 L984.59,633.2 L985.59,633.6 L986.59,634.0 L987.59,634.4 L988.59,634.8 L989.00,635.0 L989.59,635.3 L990.59,635.8 L991.59,636.3 L992.59,636.9 L993.59,637.5 L994.59,638.1 L995.59,638.7 L996.60,639.3 L997.60,639.8 L998.60,640.4 L999.60,640.9 L1000.60,641.3 L1001.60,641.7 L1002.60,642.0 L1003.60,642.3 L1004.60,642.4 L1005.60,642.5 L1005.80,642.5 L1006.60,642.5 L1007.60,642.5 L1008.60,642.5 L1009.60,642.4 L1010.60,642.4 L1011.60,642.3 L1012.60,642.3 L1013.60,642.2 L1014.60,642.1 L1015.60,642.1 L1016.60,642.0 L1017.60,641.9 L1018.61,641.8 L1019.61,641.8 L1020.61,641.7 L1021.61,641.6 L1022.61,641.6 L1023.61,641.5 L1024.61,641.4 L1025.61,641.4 L1026.61,641.3 L1027.61,641.3 L1028.20,641.3 L1028.61,641.3 L1029.61,641.3 L1030.61,641.2 L1031.61,641.2 L1032.61,641.2 L1033.61,641.2 L1034.61,641.2 L1035.61,641.2 L1036.61,641.1 L1037.61,641.1 L1038.61,641.1 L1039.62,641.1 L1040.62,641.1 L1041.62,641.1 L1042.62,641.0 L1043.62,641.0 L1044.62,641.0 L1045.62,641.0 L1046.62,641.0 L1047.62,641.0 L1048.62,641.0 L1049.62,641.0 L1050.60,641.0 L1050.62,641.0 L1051.62,641.0 L1052.62,641.1 L1053.62,641.2 L1054.62,641.3 L1055.62,641.4 L1056.62,641.6 L1057.62,641.8 L1058.62,642.0 L1059.62,642.2 L1060.62,642.5 L1061.63,642.7 L1062.63,643.0 L1063.63,643.3 L1064.63,643.6 L1065.63,643.9 L1066.63,644.2 L1067.63,644.5 L1068.63,644.8 L1069.63,645.1 L1070.63,645.4 L1071.63,645.7 L1072.63,646.0 L1073.63,646.2 L1074.63,646.5 L1075.63,646.7 L1076.63,647.0 L1077.63,647.2 L1078.63,647.3 L1079.63,647.5 L1079.80,647.5 L1080.63,647.6 L1081.63,647.7 L1082.64,647.9 L1083.64,648.0 L1084.64,648.1 L1085.64,648.2 L1086.64,648.3 L1087.64,648.4 L1088.64,648.5 L1089.64,648.6 L1090.64,648.7 L1091.64,648.8 L1092.64,648.9 L1093.64,648.9 L1094.64,649.0 L1095.64,649.1 L1096.64,649.2 L1097.64,649.3 L1098.64,649.3 L1099.64,649.4 L1100.64,649.5 L1101.64,649.6 L1102.64,649.7 L1103.65,649.7 L1104.65,649.8 L1105.65,649.9 L1106.65,650.0 L1107.65,650.0 L1108.65,650.1 L1109.65,650.2 L1110.65,650.3 L1111.65,650.4 L1112.65,650.4 L1113.65,650.5 L1114.65,650.6 L1115.65,650.7 L1116.65,650.8 L1117.65,650.9 L1118.50,651.0 L1118.65,651.0 L1119.65,651.1 L1120.65,651.2 L1121.65,651.3 L1122.65,651.5 L1123.65,651.6 L1124.65,651.7 L1125.66,651.8 L1126.66,651.9 L1127.66,652.0 L1128.66,652.2 L1129.66,652.3 L1130.66,652.4 L1131.66,652.6 L1132.66,652.7 L1133.66,652.8 L1134.66,652.9 L1135.66,653.1 L1136.66,653.2 L1137.66,653.4 L1138.66,653.5 L1139.66,653.6 L1140.66,653.8 L1141.66,653.9 L1142.66,654.0 L1143.66,654.2 L1144.66,654.3 L1145.66,654.5 L1146.67,654.6 L1147.67,654.8 L1148.67,654.9 L1149.67,655.0 L1150.67,655.2 L1151.67,655.3 L1152.67,655.5 L1153.67,655.6 L1154.67,655.7 L1155.67,655.9 L1156.67,656.0 L1157.67,656.1 L1158.67,656.3 L1159.67,656.4 L1160.67,656.5 L1161.67,656.7 L1162.67,656.8 L1163.67,656.9 L1164.67,657.1 L1165.67,657.2 L1166.67,657.3 L1167.67,657.4 L1168.68,657.6 L1169.68,657.7 L1170.68,657.8 L1171.68,657.9 L1172.68,658.0 L1173.68,658.1 L1174.68,658.2 L1175.68,658.3 L1176.68,658.4 L1177.68,658.5 L1178.68,658.6 L1179.68,658.7 L1180.68,658.8 L1181.68,658.9 L1182.68,659.0 L1182.70,659.0 L1183.68,659.1 L1184.68,659.2 L1185.68,659.2 L1186.68,659.3 L1187.68,659.4 L1188.68,659.5 L1189.69,659.6 L1190.69,659.6 L1191.69,659.7 L1192.69,659.8 L1193.69,659.8 L1194.69,659.9 L1195.69,660.0 L1196.69,660.0 L1197.69,660.1 L1198.69,660.2 L1199.69,660.2 L1200.69,660.3 L1201.69,660.4 L1202.69,660.4 L1203.69,660.5 L1204.69,660.6 L1205.69,660.6 L1206.69,660.7 L1207.69,660.8 L1208.69,660.8 L1209.69,660.9 L1210.69,660.9 L1211.70,661.0 L1212.70,661.0 L1213.70,661.1 L1214.70,661.2 L1215.70,661.2 L1216.70,661.3 L1217.70,661.3 L1218.70,661.4 L1219.70,661.4 L1220.70,661.5 L1221.70,661.6 L1222.70,661.6 L1223.70,661.7 L1224.70,661.7 L1225.70,661.8 L1226.70,661.8 L1227.70,661.9 L1228.70,661.9 L1229.70,662.0 L1230.70,662.1 L1231.70,662.1 L1232.71,662.2 L1233.71,662.2 L1234.71,662.3 L1235.71,662.3 L1236.71,662.4 L1237.71,662.5 L1238.71,662.5 L1239.71,662.6 L1240.71,662.6 L1241.71,662.7 L1242.71,662.7 L1243.71,662.8 L1244.71,662.9 L1245.71,662.9 L1246.71,663.0 L1246.90,663.0 L1247.71,663.1 L1248.71,663.1 L1249.71,663.2 L1250.71,663.2 L1251.71,663.3 L1252.71,663.4 L1253.71,663.4 L1254.72,663.5 L1255.72,663.5 L1256.72,663.6 L1257.72,663.7 L1258.72,663.7 L1259.72,663.8 L1260.72,663.8 L1261.72,663.9 L1262.72,664.0 L1263.72,664.0 L1264.72,664.1 L1265.72,664.1 L1266.72,664.2 L1267.72,664.3 L1268.72,664.3 L1269.72,664.4 L1270.72,664.4 L1271.72,664.5 L1272.72,664.6 L1273.72,664.6 L1274.72,664.7 L1275.73,664.7 L1276.73,664.8 L1277.73,664.9 L1278.73,664.9 L1279.73,665.0 L1280.73,665.1 L1281.73,665.1 L1282.73,665.2 L1283.73,665.2 L1284.73,665.3 L1285.73,665.4 L1286.73,665.4 L1287.73,665.5 L1288.73,665.5 L1289.73,665.6 L1290.73,665.7 L1291.73,665.7 L1292.73,665.8 L1293.73,665.9 L1294.73,665.9 L1295.73,666.0 L1296.73,666.0 L1297.74,666.1 L1298.74,666.2 L1299.74,666.2 L1300.74,666.3 L1301.74,666.4 L1302.74,666.4 L1303.74,666.5 L1304.74,666.6 L1305.74,666.6 L1306.74,666.7 L1307.74,666.8 L1308.74,666.8 L1309.74,666.9 L1310.74,667.0 L1311.10,667.0 L1311.74,667.0 L1312.74,667.1 L1313.74,667.2 L1314.74,667.3 L1315.74,667.3 L1316.74,667.4 L1317.74,667.5 L1318.75,667.5 L1319.75,667.6 L1320.75,667.7 L1321.75,667.8 L1322.75,667.8 L1323.75,667.9 L1324.75,668.0 L1325.75,668.1 L1326.75,668.1 L1327.75,668.2 L1328.75,668.3 L1329.75,668.4 L1330.75,668.4 L1331.75,668.5 L1332.75,668.6 L1333.75,668.7 L1334.75,668.8 L1335.75,668.8 L1336.75,668.9 L1337.75,669.0 L1338.75,669.1 L1339.75,669.1 L1340.76,669.2 L1341.76,669.3 L1342.76,669.4 L1343.76,669.5 L1344.76,669.5 L1345.76,669.6 L1346.76,669.7 L1347.76,669.8 L1348.76,669.9 L1349.76,670.0 L1350.76,670.0 L1351.76,670.1 L1352.76,670.2 L1353.76,670.3 L1354.76,670.4 L1355.76,670.4 L1356.76,670.5 L1357.76,670.6 L1358.76,670.7 L1359.76,670.8 L1360.76,670.9 L1361.77,670.9 L1362.77,671.0 L1363.77,671.1 L1364.77,671.2 L1365.77,671.3 L1366.77,671.3 L1367.77,671.4 L1368.77,671.5 L1369.77,671.6 L1370.77,671.7 L1371.77,671.8 L1372.77,671.8 L1373.77,671.9 L1374.77,672.0 L1375.77,672.1 L1376.77,672.2 L1377.77,672.2 L1378.77,672.3 L1379.77,672.4 L1380.77,672.5 L1381.77,672.6 L1382.77,672.6 L1383.78,672.7 L1384.78,672.8 L1385.78,672.9 L1386.78,673.0 L1387.78,673.1 L1388.78,673.1 L1389.78,673.2 L1390.78,673.3 L1391.78,673.4 L1392.78,673.4 L1393.78,673.5 L1394.78,673.6 L1395.78,673.7 L1396.78,673.8 L1397.78,673.8 L1398.78,673.9 L1399.78,674.0 L1400.00,674.0 L1400.78,674.1 L1401.78,674.1 L1402.78,674.2 L1403.78,674.3 L1404.79,674.4 L1405.79,674.4 L1406.79,674.5 L1407.79,674.6 L1408.79,674.7 L1409.79,674.7 L1410.79,674.8 L1411.79,674.9 L1412.79,674.9 L1413.79,675.0 L1414.79,675.1 L1415.79,675.1 L1416.79,675.2 L1417.79,675.3 L1418.79,675.4 L1419.79,675.4 L1420.79,675.5 L1421.79,675.6 L1422.79,675.6 L1423.79,675.7 L1424.79,675.8 L1425.80,675.8 L1426.80,675.9 L1427.80,676.0 L1428.80,676.0 L1429.80,676.1 L1430.80,676.2 L1431.80,676.2 L1432.80,676.3 L1433.80,676.4 L1434.80,676.5 L1435.80,676.5 L1436.80,676.6 L1437.80,676.7 L1438.80,676.7 L1439.80,676.8 L1440.80,676.9 L1441.80,676.9 L1442.80,677.0 L1443.80,677.1 L1444.80,677.1 L1445.80,677.2 L1446.80,677.3 L1447.81,677.3 L1448.81,677.4 L1449.81,677.5 L1450.81,677.5 L1451.81,677.6 L1452.81,677.7 L1453.81,677.7 L1454.81,677.8 L1455.81,677.9 L1456.81,678.0 L1457.81,678.0 L1458.81,678.1 L1459.81,678.2 L1460.81,678.2 L1461.81,678.3 L1462.81,678.4 L1463.81,678.5 L1464.81,678.5 L1465.81,678.6 L1466.81,678.7 L1467.81,678.7 L1468.82,678.8 L1469.82,678.9 L1470.82,679.0 L1471.82,679.0 L1472.82,679.1 L1473.82,679.2 L1474.82,679.3 L1475.82,679.3 L1476.82,679.4 L1477.82,679.5 L1478.82,679.6 L1479.82,679.7 L1480.82,679.7 L1481.82,679.8 L1482.82,679.9 L1483.82,680.0 L1484.82,680.1 L1485.82,680.1 L1486.82,680.2 L1487.82,680.3 L1488.82,680.4 L1489.82,680.5 L1490.83,680.6 L1491.83,680.7 L1492.83,680.7 L1493.83,680.8 L1494.83,680.9 L1495.80,681.0 L1495.83,681.0 L1496.83,681.1 L1497.83,681.2 L1498.83,681.3 L1499.83,681.4 L1500.83,681.5 L1501.83,681.6 L1502.83,681.7 L1503.83,681.8 L1504.83,681.9 L1505.83,682.0 L1506.83,682.1 L1507.83,682.2 L1508.83,682.3 L1509.83,682.4 L1510.83,682.5 L1511.84,682.6 L1512.84,682.7 L1513.84,682.8 L1514.84,682.9 L1515.84,683.0 L1516.84,683.1 L1517.84,683.2 L1518.84,683.4 L1519.84,683.5 L1520.84,683.6 L1521.84,683.7 L1522.84,683.8 L1523.84,683.9 L1524.84,684.0 L1525.84,684.2 L1526.84,684.3 L1527.84,684.4 L1528.84,684.5 L1529.84,684.6 L1530.84,684.8 L1531.84,684.9 L1532.84,685.0 L1533.85,685.1 L1534.85,685.2 L1535.85,685.4 L1536.85,685.5 L1537.85,685.6 L1538.85,685.7 L1539.85,685.8 L1540.85,686.0 L1541.85,686.1 L1542.85,686.2 L1543.85,686.3 L1544.85,686.5 L1545.85,686.6 L1546.85,686.7 L1547.85,686.8 L1548.85,687.0 L1549.85,687.1 L1550.85,687.2 L1551.85,687.3 L1552.85,687.5 L1553.85,687.6 L1554.86,687.7 L1555.86,687.8 L1556.86,688.0 L1557.86,688.1 L1558.86,688.2 L1559.86,688.3 L1560.86,688.5 L1561.86,688.6 L1562.86,688.7 L1563.86,688.8 L1564.86,688.9 L1565.86,689.1 L1566.86,689.2 L1567.86,689.3 L1568.86,689.4 L1569.86,689.5 L1570.86,689.7 L1571.86,689.8 L1572.86,689.9 L1573.86,690.0 L1574.86,690.1 L1575.86,690.3 L1576.87,690.4 L1577.87,690.5 L1578.87,690.6 L1579.87,690.7 L1580.87,690.8 L1581.87,690.9 L1582.87,691.1 L1583.87,691.2 L1584.87,691.3 L1585.87,691.4 L1586.87,691.5 L1587.87,691.6 L1588.87,691.7 L1589.87,691.8 L1590.87,691.9 L1591.70,692.0 L1591.87,692.0 L1592.87,692.1 L1593.87,692.2 L1594.87,692.3 L1595.87,692.4 L1596.87,692.5 L1597.88,692.6 L1598.88,692.7 L1599.88,692.8 L1600.88,692.9 L1601.88,693.0 L1602.88,693.1 L1603.88,693.2 L1604.88,693.3 L1605.88,693.4 L1606.88,693.6 L1607.88,693.7 L1608.88,693.8 L1609.88,693.9 L1610.88,694.0 L1611.88,694.1 L1612.88,694.2 L1613.88,694.3 L1614.88,694.4 L1615.88,694.5 L1616.88,694.6 L1617.88,694.6 L1618.88,694.7 L1619.89,694.8 L1620.89,694.9 L1621.89,695.0 L1622.89,695.1 L1623.89,695.2 L1624.89,695.3 L1625.89,695.4 L1626.89,695.5 L1627.89,695.6 L1628.89,695.7 L1629.89,695.8 L1630.89,695.9 L1631.89,696.0 L1632.89,696.1 L1633.89,696.2 L1634.89,696.3 L1635.89,696.4 L1636.89,696.5 L1637.89,696.6 L1638.89,696.7 L1639.89,696.8 L1640.90,696.9 L1641.90,697.0 L1642.90,697.1 L1643.90,697.2 L1644.90,697.3 L1645.90,697.3 L1646.90,697.4 L1647.90,697.5 L1648.90,697.6 L1649.90,697.7 L1650.90,697.8 L1651.90,697.9 L1652.90,698.0 L1653.90,698.1 L1654.90,698.2 L1655.90,698.3 L1656.90,698.4 L1657.90,698.4 L1658.90,698.5 L1659.90,698.6 L1660.90,698.7 L1661.90,698.8 L1662.91,698.9 L1663.91,699.0 L1664.91,699.1 L1665.91,699.2 L1666.91,699.2 L1667.91,699.3 L1668.91,699.4 L1669.91,699.5 L1670.91,699.6 L1671.91,699.7 L1672.91,699.8 L1673.91,699.9 L1674.91,699.9 L1675.91,700.0 L1676.91,700.1 L1677.91,700.2 L1678.91,700.3 L1679.91,700.4 L1680.91,700.5 L1681.91,700.5 L1682.91,700.6 L1683.92,700.7 L1684.92,700.8 L1685.92,700.9 L1686.92,701.0 L1687.50,701.0 L1687.92,701.0 L1688.92,701.1 L1689.92,701.2 L1690.92,701.3 L1691.92,701.4 L1692.92,701.4 L1693.92,701.5 L1694.92,701.6 L1695.92,701.7 L1696.92,701.7 L1697.92,701.8 L1698.92,701.9 L1699.92,702.0 L1700.92,702.0 L1701.92,702.1 L1702.92,702.2 L1703.92,702.3 L1704.92,702.3 L1705.93,702.4 L1706.93,702.5 L1707.93,702.6 L1708.93,702.6 L1709.93,702.7 L1710.93,702.8 L1711.93,702.8 L1712.93,702.9 L1713.93,703.0 L1714.93,703.0 L1715.93,703.1 L1716.93,703.2 L1717.93,703.2 L1718.93,703.3 L1719.93,703.4 L1720.93,703.4 L1721.93,703.5 L1722.93,703.6 L1723.93,703.6 L1724.93,703.7 L1725.93,703.8 L1726.94,703.8 L1727.94,703.9 L1728.94,704.0 L1729.94,704.0 L1730.94,704.1 L1731.94,704.2 L1732.94,704.2 L1733.94,704.3 L1734.94,704.4 L1735.94,704.4 L1736.94,704.5 L1737.94,704.6 L1738.94,704.6 L1739.94,704.7 L1740.94,704.8 L1741.94,704.8 L1742.94,704.9 L1743.94,705.0 L1744.94,705.1 L1745.94,705.1 L1746.94,705.2 L1747.95,705.3 L1748.95,705.3 L1749.95,705.4 L1750.95,705.5 L1751.95,705.5 L1752.95,705.6 L1753.95,705.7 L1754.95,705.7 L1755.95,705.8 L1756.95,705.9 L1757.95,706.0 L1758.95,706.0 L1759.95,706.1 L1760.95,706.2 L1761.95,706.3 L1762.95,706.3 L1763.95,706.4 L1764.95,706.5 L1765.95,706.6 L1766.95,706.6 L1767.95,706.7 L1768.95,706.8 L1769.96,706.9 L1770.96,707.0 L1771.96,707.0 L1772.96,707.1 L1773.96,707.2 L1774.96,707.3 L1775.96,707.4 L1776.96,707.4 L1777.96,707.5 L1778.96,707.6 L1779.96,707.7 L1780.96,707.8 L1781.96,707.9 L1782.96,708.0 L1783.30,708.0 L1783.96,708.1 L1784.96,708.2 L1785.96,708.2 L1786.96,708.3 L1787.96,708.4 L1788.96,708.5 L1789.96,708.6 L1790.97,708.7 L1791.97,708.8 L1792.97,708.9 L1793.97,709.0 L1794.97,709.1 L1795.97,709.2 L1796.97,709.3 L1797.97,709.4 L1798.97,709.6 L1799.97,709.7 L1800.97,709.8 L1801.97,709.9 L1802.97,710.0 L1803.97,710.1 L1804.97,710.2 L1805.97,710.3 L1806.97,710.4 L1807.97,710.6 L1808.97,710.7 L1809.97,710.8 L1810.97,710.9 L1811.97,711.0 L1812.98,711.1 L1813.98,711.2 L1814.98,711.4 L1815.98,711.5 L1816.98,711.6 L1817.98,711.7 L1818.98,711.8 L1819.98,712.0 L1820.98,712.1 L1821.98,712.2 L1822.98,712.3 L1823.98,712.4 L1824.98,712.6 L1825.98,712.7 L1826.98,712.8 L1827.98,712.9 L1828.98,713.0 L1829.98,713.1 L1830.98,713.3 L1831.98,713.4 L1832.98,713.5 L1833.99,713.6 L1834.99,713.7 L1835.99,713.9 L1836.99,714.0 L1837.99,714.1 L1838.99,714.2 L1839.99,714.3 L1840.99,714.4 L1841.99,714.5 L1842.99,714.7 L1843.99,714.8 L1844.99,714.9 L1845.99,715.0 L1846.00,715.0 L1846.99,715.1 L1847.99,715.2 L1848.99,715.3 L1849.99,715.4 L1850.99,715.6 L1851.99,715.7 L1852.99,715.8 L1853.99,715.9 L1854.99,716.0 L1856.00,716.1 L1857.00,716.2 L1858.00,716.3 L1859.00,716.5 L1860.00,716.6 L1861.00,716.7 L1862.00,716.8 L1863.00,716.9 L1864.00,717.0 L1865.00,717.1 L1866.00,717.2" stroke="url(#pinkspeck)" stroke-width="27.5"/>
<path d="M860.00,622.8 L861.00,622.7 L862.00,622.6 L863.00,622.6 L864.00,622.5 L865.00,622.5 L866.00,622.4 L867.00,622.3 L868.00,622.3 L869.00,622.2 L870.00,622.2 L871.00,622.1 L872.00,622.0 L873.00,622.0 L874.00,621.9 L875.00,621.8 L876.00,621.7 L877.00,621.6 L878.00,621.5 L879.00,621.4 L880.00,621.3 L881.00,621.2 L882.00,621.1 L882.40,621.0 L883.01,620.9 L884.01,620.6 L885.01,620.3 L886.01,619.9 L887.01,619.4 L888.01,618.9 L889.01,618.3 L890.01,617.6 L891.01,617.0 L892.01,616.3 L893.01,615.6 L894.01,614.9 L895.01,614.2 L896.01,613.5 L897.01,612.8 L898.01,612.2 L899.01,611.6 L899.20,611.5 L900.01,611.1 L901.01,610.5 L902.01,610.0 L903.01,609.5 L904.01,609.0 L905.01,608.5 L906.01,608.0 L907.01,607.5 L908.01,606.9 L909.01,606.4 L910.01,605.8 L911.01,605.2 L912.01,604.6 L913.00,604.0 L913.01,604.0 L914.01,603.3 L915.01,602.4 L916.01,601.5 L917.01,600.6 L918.01,599.5 L919.01,598.5 L920.01,597.4 L921.01,596.4 L922.01,595.4 L923.01,594.4 L924.01,593.5 L925.01,592.7 L926.01,592.1 L927.01,591.5 L928.02,591.1 L928.50,591.0 L929.02,590.9 L930.02,590.7 L931.02,590.5 L932.02,590.3 L933.02,590.2 L934.02,590.1 L935.02,590.0 L936.00,590.0 L936.02,590.0 L937.02,590.2 L938.02,590.6 L939.02,591.3 L940.02,592.2 L941.02,593.1 L942.02,594.2 L943.02,595.2 L944.02,596.2 L945.00,597.0 L945.02,597.0 L946.02,597.8 L947.02,598.5 L948.02,599.3 L949.02,600.0 L950.02,600.7 L951.02,601.5 L952.02,602.2 L953.02,603.0 L954.02,603.9 L955.02,604.7 L955.30,605.0 L956.02,605.7 L957.02,606.7 L958.02,607.7 L959.02,608.8 L960.02,609.9 L961.02,611.0 L962.02,612.2 L963.02,613.4 L964.02,614.7 L965.02,616.0 L966.02,617.3 L966.50,618.0 L967.02,618.8 L968.02,620.5 L969.02,622.4 L970.02,624.2 L971.02,625.8 L972.02,626.9 L972.10,627.0 L973.03,627.7 L974.03,628.4 L975.03,629.1 L976.03,629.6 L977.03,630.2 L978.03,630.7 L979.03,631.1 L980.03,631.5 L981.03,631.9 L982.03,632.3 L983.03,632.7 L984.03,633.0 L985.03,633.4 L986.03,633.8 L987.03,634.2 L988.03,634.6 L989.00,635.0 L989.03,635.0 L990.03,635.5 L991.03,636.0 L992.03,636.6 L993.03,637.2 L994.03,637.7 L995.03,638.3 L996.03,638.9 L997.03,639.5 L998.03,640.1 L999.03,640.6 L1000.03,641.1 L1001.03,641.5 L1002.03,641.8 L1003.03,642.1 L1004.03,642.3 L1005.03,642.5 L1005.80,642.5 L1006.03,642.5 L1007.03,642.5 L1008.03,642.5 L1009.03,642.4 L1010.03,642.4 L1011.03,642.4 L1012.03,642.3 L1013.03,642.2 L1014.03,642.2 L1015.03,642.1 L1016.03,642.0 L1017.03,642.0 L1018.04,641.9 L1019.04,641.8 L1020.04,641.7 L1021.04,641.7 L1022.04,641.6 L1023.04,641.5 L1024.04,641.5 L1025.04,641.4 L1026.04,641.4 L1027.04,641.3 L1028.04,641.3 L1028.20,641.3 L1029.04,641.3 L1030.04,641.3 L1031.04,641.2 L1032.04,641.2 L1033.04,641.2 L1034.04,641.2 L1035.04,641.2 L1036.04,641.1 L1037.04,641.1 L1038.04,641.1 L1039.04,641.1 L1040.04,641.1 L1041.04,641.1 L1042.04,641.1 L1043.04,641.0 L1044.04,641.0 L1045.04,641.0 L1046.04,641.0 L1047.04,641.0 L1048.04,641.0 L1049.04,641.0 L1050.04,641.0 L1050.60,641.0 L1051.04,641.0 L1052.04,641.0 L1053.04,641.1 L1054.04,641.2 L1055.04,641.3 L1056.04,641.5 L1057.04,641.7 L1058.04,641.9 L1059.04,642.1 L1060.04,642.3 L1061.04,642.6 L1062.04,642.9 L1063.05,643.1 L1064.05,643.4 L1065.05,643.7 L1066.05,644.0 L1067.05,644.3 L1068.05,644.6 L1069.05,644.9 L1070.05,645.2 L1071.05,645.5 L1072.05,645.8 L1073.05,646.1 L1074.05,646.4 L1075.05,646.6 L1076.05,646.8 L1077.05,647.0 L1078.05,647.2 L1079.05,647.4 L1079.80,647.5 L1080.05,647.5 L1081.05,647.7 L1082.05,647.8 L1083.05,647.9 L1084.05,648.0 L1085.05,648.1 L1086.05,648.2 L1087.05,648.3 L1088.05,648.4 L1089.05,648.5 L1090.05,648.6 L1091.05,648.7 L1092.05,648.8 L1093.05,648.9 L1094.05,649.0 L1095.05,649.1 L1096.05,649.1 L1097.05,649.2 L1098.05,649.3 L1099.05,649.4 L1100.05,649.5 L1101.05,649.5 L1102.05,649.6 L1103.05,649.7 L1104.05,649.8 L1105.05,649.8 L1106.05,649.9 L1107.05,650.0 L1108.05,650.1 L1109.06,650.1 L1110.06,650.2 L1111.06,650.3 L1112.06,650.4 L1113.06,650.5 L1114.06,650.6 L1115.06,650.7 L1116.06,650.8 L1117.06,650.9 L1118.06,651.0 L1118.50,651.0 L1119.06,651.1 L1120.06,651.2 L1121.06,651.3 L1122.06,651.4 L1123.06,651.5 L1124.06,651.6 L1125.06,651.7 L1126.06,651.9 L1127.06,652.0 L1128.06,652.1 L1129.06,652.2 L1130.06,652.3 L1131.06,652.5 L1132.06,652.6 L1133.06,652.7 L1134.06,652.9 L1135.06,653.0 L1136.06,653.1 L1137.06,653.3 L1138.06,653.4 L1139.06,653.5 L1140.06,653.7 L1141.06,653.8 L1142.06,654.0 L1143.06,654.1 L1144.06,654.2 L1145.06,654.4 L1146.06,654.5 L1147.06,654.7 L1148.06,654.8 L1149.06,654.9 L1150.06,655.1 L1151.06,655.2 L1152.06,655.4 L1153.06,655.5 L1154.07,655.6 L1155.07,655.8 L1156.07,655.9 L1157.07,656.1 L1158.07,656.2 L1159.07,656.3 L1160.07,656.5 L1161.07,656.6 L1162.07,656.7 L1163.07,656.9 L1164.07,657.0 L1165.07,657.1 L1166.07,657.2 L1167.07,657.4 L1168.07,657.5 L1169.07,657.6 L1170.07,657.7 L1171.07,657.8 L1172.07,658.0 L1173.07,658.1 L1174.07,658.2 L1175.07,658.3 L1176.07,658.4 L1177.07,658.5 L1178.07,658.6 L1179.07,658.7 L1180.07,658.8 L1181.07,658.9 L1182.07,658.9 L1182.70,659.0 L1183.07,659.0 L1184.07,659.1 L1185.07,659.2 L1186.07,659.3 L1187.07,659.4 L1188.07,659.4 L1189.07,659.5 L1190.07,659.6 L1191.07,659.7 L1192.07,659.7 L1193.07,659.8 L1194.07,659.9 L1195.07,659.9 L1196.07,660.0 L1197.07,660.1 L1198.07,660.1 L1199.08,660.2 L1200.08,660.3 L1201.08,660.3 L1202.08,660.4 L1203.08,660.5 L1204.08,660.5 L1205.08,660.6 L1206.08,660.7 L1207.08,660.7 L1208.08,660.8 L1209.08,660.8 L1210.08,660.9 L1211.08,661.0 L1212.08,661.0 L1213.08,661.1 L1214.08,661.1 L1215.08,661.2 L1216.08,661.2 L1217.08,661.3 L1218.08,661.4 L1219.08,661.4 L1220.08,661.5 L1221.08,661.5 L1222.08,661.6 L1223.08,661.6 L1224.08,661.7 L1225.08,661.7 L1226.08,661.8 L1227.08,661.9 L1228.08,661.9 L1229.08,662.0 L1230.08,662.0 L1231.08,662.1 L1232.08,662.1 L1233.08,662.2 L1234.08,662.2 L1235.08,662.3 L1236.08,662.4 L1237.08,662.4 L1238.08,662.5 L1239.08,662.5 L1240.08,662.6 L1241.08,662.6 L1242.08,662.7 L1243.08,662.8 L1244.09,662.8 L1245.09,662.9 L1246.09,662.9 L1246.90,663.0 L1247.09,663.0 L1248.09,663.1 L1249.09,663.1 L1250.09,663.2 L1251.09,663.3 L1252.09,663.3 L1253.09,663.4 L1254.09,663.4 L1255.09,663.5 L1256.09,663.6 L1257.09,663.6 L1258.09,663.7 L1259.09,663.8 L1260.09,663.8 L1261.09,663.9 L1262.09,663.9 L1263.09,664.0 L1264.09,664.1 L1265.09,664.1 L1266.09,664.2 L1267.09,664.3 L1268.09,664.3 L1269.09,664.4 L1270.09,664.4 L1271.09,664.5 L1272.09,664.6 L1273.09,664.6 L1274.09,664.7 L1275.09,664.8 L1276.09,664.8 L1277.09,664.9 L1278.09,664.9 L1279.09,665.0 L1280.09,665.1 L1281.09,665.1 L1282.09,665.2 L1283.09,665.3 L1284.09,665.3 L1285.09,665.4 L1286.09,665.4 L1287.09,665.5 L1288.09,665.6 L1289.10,665.6 L1290.10,665.7 L1291.10,665.8 L1292.10,665.8 L1293.10,665.9 L1294.10,665.9 L1295.10,666.0 L1296.10,666.1 L1297.10,666.1 L1298.10,666.2 L1299.10,666.3 L1300.10,666.3 L1301.10,666.4 L1302.10,666.4 L1303.10,666.5 L1304.10,666.6 L1305.10,666.6 L1306.10,666.7 L1307.10,666.8 L1308.10,666.8 L1309.10,666.9 L1310.10,666.9 L1311.10,667.0" stroke="url(#pinkspeck)" stroke-width="31" stroke-linecap="round"/>
</g>
<g transform="scale(1.5,1)" fill="none" stroke-linejoin="round" stroke-linecap="butt">
<path d="M118.67,1020.0 L119.67,1020.0 L120.67,1020.0 L121.67,1020.0 L122.67,1020.0 L123.67,1020.0 L124.67,1020.0 L125.67,1020.0 L126.67,1020.0 L127.67,1020.0 L128.67,1020.0 L129.67,1020.1 L130.67,1020.5 L131.67,1021.1 L132.67,1021.8 L133.67,1022.5 L134.67,1023.1 L135.67,1023.7 L136.67,1024.0 L137.67,1024.2 L138.67,1024.4 L139.67,1024.7 L140.67,1024.8 L141.67,1025.0 L142.67,1025.2 L143.67,1025.3 L144.67,1025.4 L145.67,1025.5 L146.67,1025.5 L147.07,1025.5 L147.67,1025.5 L148.67,1025.5 L149.67,1025.5 L150.67,1025.4 L151.67,1025.4 L152.67,1025.4 L153.67,1025.3 L154.67,1025.2 L155.67,1025.2 L156.67,1025.1 L157.67,1025.0 L158.67,1024.9 L159.67,1024.8 L160.67,1024.7 L161.67,1024.6 L162.67,1024.5 L163.67,1024.3 L164.67,1024.2 L165.67,1024.1 L166.67,1023.9 L167.67,1023.8 L168.67,1023.6 L169.67,1023.4 L170.67,1023.2 L171.67,1023.1 L172.00,1023.0 L172.67,1022.8 L173.67,1022.4 L174.67,1021.8 L175.67,1021.2 L176.67,1020.6 L177.67,1020.2 L178.67,1020.0 L179.67,1019.9 L180.67,1019.9 L181.67,1019.8 L182.67,1019.8 L183.67,1019.7 L184.67,1019.7 L185.67,1019.6 L186.67,1019.6 L187.67,1019.6 L188.67,1019.5 L189.67,1019.5 L190.67,1019.5 L191.67,1019.5 L192.67,1019.5 L193.33,1019.5 L193.67,1019.5 L194.67,1019.8 L195.67,1020.4 L196.67,1021.2 L197.67,1022.1 L198.67,1023.0 L199.67,1023.8 L200.00,1024.0 L200.67,1024.5 L201.67,1025.3 L202.67,1026.0 L203.67,1026.5 L204.00,1026.5 L204.67,1026.5 L205.67,1026.5 L206.67,1026.5 L207.67,1026.4 L208.67,1026.4 L209.67,1026.3 L210.67,1026.2 L211.67,1026.2 L212.67,1026.1 L213.67,1026.0 L214.67,1025.7 L215.67,1024.9 L216.67,1023.7 L217.67,1022.2 L218.67,1020.4 L219.67,1018.2 L220.67,1015.8 L221.67,1013.3 L222.67,1010.5 L223.67,1007.6 L224.67,1004.7 L225.67,1001.7 L226.67,998.7 L227.67,995.7 L228.67,992.8 L229.67,990.0 L230.67,987.3 L231.67,984.9 L232.67,982.7 L233.67,980.8 L234.67,979.1 L235.67,977.8 L236.67,977.0 L237.67,976.5 L238.67,976.3 L239.67,976.1 L240.67,975.9 L241.67,975.7 L242.67,975.6 L243.67,975.5 L244.67,975.5 L245.67,975.5 L246.67,975.5 L247.67,975.5 L248.67,975.5 L249.67,975.5 L250.67,975.5 L251.67,975.5 L252.67,975.5 L253.67,975.5 L254.67,975.5 L255.67,975.5 L256.67,975.5 L257.67,975.5 L258.67,975.5 L259.67,975.5 L260.67,975.5 L261.67,975.5 L262.60,975.5 L262.67,975.5 L263.67,975.5 L264.67,975.5 L265.67,975.4 L266.67,975.4 L267.67,975.4 L268.67,975.3 L269.67,975.2 L270.67,975.2 L271.67,975.1 L272.67,975.0 L273.67,974.9 L274.67,974.8 L275.67,974.7 L276.67,974.6 L277.67,974.5 L278.67,974.3 L279.67,974.2 L280.67,974.1 L281.67,973.9 L282.67,973.8 L283.67,973.6 L284.67,973.5 L285.67,973.3 L286.67,973.2 L287.67,973.0 L288.67,972.8 L289.67,972.7 L290.67,972.5 L291.67,972.3 L292.67,972.2 L293.67,972.0 L294.67,971.8 L295.67,971.7 L296.67,971.5 L297.67,971.4 L298.67,971.2 L299.67,971.0 L300.67,970.9 L301.67,970.7 L302.67,970.6 L303.33,970.5 L303.67,970.5 L304.67,970.3 L305.67,970.2 L306.67,970.0 L307.67,969.9 L308.67,969.7 L309.67,969.6 L310.67,969.4 L311.67,969.3 L312.67,969.1 L313.67,969.0 L314.67,968.8 L315.67,968.7 L316.67,968.5 L317.67,968.3 L318.67,968.2 L319.67,968.0 L320.67,967.8 L321.67,967.7 L322.67,967.5 L323.67,967.3 L324.67,967.1 L325.67,966.9 L326.67,966.8 L327.67,966.6 L328.67,966.4 L329.67,966.2 L330.53,966.0 L330.67,966.0 L331.67,965.8 L332.67,965.5 L333.67,965.3 L334.67,965.1 L335.67,964.9 L336.67,964.6 L337.67,964.4 L338.67,964.1 L339.67,963.8 L340.67,963.6 L341.67,963.3 L342.67,963.0 L343.67,962.8 L344.67,962.5 L345.67,962.2 L346.67,961.9 L347.67,961.7 L348.67,961.4 L349.67,961.1 L350.67,960.8 L351.67,960.6 L352.67,960.3 L353.67,960.0 L354.67,959.8 L355.67,959.5 L356.67,959.3 L357.67,959.0 L357.73,959.0 L358.67,958.8 L359.67,958.5 L360.67,958.3 L361.67,958.1 L362.67,957.8 L363.67,957.6 L364.67,957.4 L365.67,957.1 L366.67,956.9 L367.67,956.7 L368.67,956.5 L369.67,956.2 L370.67,956.0 L371.67,955.8 L372.67,955.6 L373.67,955.3 L374.67,955.1 L375.67,954.9 L376.67,954.7 L377.67,954.4 L378.67,954.2 L379.67,954.0 L380.67,953.8 L381.67,953.6 L382.67,953.3 L383.67,953.1 L384.67,952.9 L385.67,952.7 L386.67,952.4 L387.67,952.2 L388.67,952.0 L389.67,951.8 L390.67,951.5 L391.67,951.3 L392.67,951.1 L393.07,951.0 L393.67,950.9 L394.67,950.6 L395.67,950.4 L396.67,950.2 L397.67,949.9 L398.67,949.7 L399.67,949.5 L400.67,949.2 L401.67,949.0 L402.67,948.8 L403.67,948.5 L404.67,948.3 L405.67,948.0 L406.67,947.8 L407.67,947.6 L408.67,947.3 L409.67,947.1 L410.67,946.9 L411.67,946.6 L412.67,946.4 L413.67,946.1 L414.67,945.9 L415.67,945.7 L416.67,945.4 L417.67,945.2 L418.67,945.0 L419.67,944.7 L420.67,944.5 L421.67,944.3 L422.67,944.0 L423.67,943.8 L424.67,943.6 L425.67,943.4 L426.67,943.1 L427.67,942.9 L428.67,942.7 L429.47,942.5 L429.67,942.5 L430.67,942.2 L431.67,942.0 L432.67,941.8 L433.67,941.6 L434.67,941.4 L435.67,941.2 L436.67,941.0 L437.67,940.8 L438.67,940.6 L439.67,940.4 L440.67,940.2 L441.67,940.0 L442.67,939.9 L443.67,939.7 L444.67,939.5 L445.67,939.3 L446.67,939.1 L447.67,938.9 L448.67,938.7 L449.67,938.5 L450.67,938.4 L451.67,938.2 L452.67,938.0 L453.67,937.8 L454.67,937.6 L455.67,937.4 L456.67,937.2 L457.67,937.0 L458.67,936.8 L459.67,936.6 L460.67,936.4 L461.67,936.1 L462.67,935.9 L463.67,935.7 L464.67,935.5 L465.67,935.2 L466.67,935.0 L467.67,934.7 L468.67,934.5 L469.67,934.2 L470.67,934.0 L471.67,933.7 L472.33,933.5 L472.67,933.4 L473.67,933.1 L474.67,932.8 L475.67,932.5 L476.67,932.2 L477.67,931.9 L478.67,931.5 L479.67,931.2 L480.67,930.8 L481.67,930.5 L482.67,930.1 L483.67,929.7 L484.67,929.3 L485.67,928.9 L486.67,928.5 L487.67,928.1 L488.67,927.7 L489.67,927.3 L490.67,926.9 L491.67,926.5 L492.67,926.0 L493.67,925.6 L494.67,925.1 L495.67,924.7 L496.67,924.2 L497.67,923.8 L498.67,923.3 L499.67,922.9 L500.67,922.4 L501.67,921.9 L502.67,921.5 L503.67,921.0 L504.67,920.5 L505.67,920.1 L506.67,919.6 L507.67,919.1 L508.67,918.6 L509.67,918.2 L510.67,917.7 L511.67,917.2 L512.67,916.8 L513.67,916.3 L514.67,915.8 L515.13,915.6 L515.67,915.4 L516.67,914.9 L517.67,914.4 L518.67,914.0 L519.67,913.5 L520.67,913.1 L521.67,912.6 L522.67,912.2 L523.67,911.7 L524.67,911.3 L525.67,910.8 L526.67,910.4 L527.67,909.9 L528.67,909.5 L529.67,909.0 L530.67,908.6 L531.67,908.1 L532.67,907.6 L533.67,907.2 L534.67,906.7 L535.67,906.2 L536.67,905.7 L537.67,905.2 L538.67,904.7 L539.67,904.2 L540.67,903.7 L541.67,903.2 L542.67,902.7 L543.67,902.1 L544.67,901.6 L545.67,901.0 L546.67,900.4 L547.67,899.8 L548.67,899.2 L549.67,898.6 L550.67,898.0 L551.67,897.4 L552.67,896.7 L553.67,896.0 L554.67,895.3 L555.67,894.6 L556.67,893.9 L557.67,893.2 L557.93,893.0 L558.67,892.4 L559.67,891.5 L560.67,890.6 L561.67,889.6 L562.67,888.5 L563.67,887.3 L564.67,886.1 L565.67,884.9 L566.67,883.7 L567.67,882.5 L568.67,881.4 L569.67,880.2 L570.67,879.1 L571.67,878.1 L572.67,877.1 L573.33,876.5 L573.67,876.2 L574.67,875.4 L575.67,874.6 L576.67,873.8 L577.67,873.1 L578.67,872.4 L579.67,871.7 L580.67,871.0 L581.67,870.4 L582.67,869.7 L583.67,869.0 L584.67,868.3 L585.67,867.6 L586.67,866.8 L587.67,866.1 L588.27,865.6 L588.67,865.3 L589.67,864.5 L590.67,863.6 L591.67,862.8 L592.67,862.0 L593.67,861.1 L594.67,860.2 L595.67,859.3 L596.67,858.4 L597.67,857.4 L598.67,856.4 L599.47,855.5 L599.67,855.3 L600.67,854.1 L601.67,852.8 L602.67,851.5 L603.67,850.1 L604.67,848.7 L605.67,847.2 L606.67,845.7 L607.67,844.2 L608.67,842.7 L609.67,841.3 L610.67,839.9 L610.73,839.8 L611.67,838.4 L612.67,836.8 L613.67,835.1 L614.67,833.4 L615.67,831.9 L616.67,830.5 L617.67,829.6 L618.67,829.0 L619.67,828.7 L620.67,828.4 L621.67,828.2 L622.67,828.1 L623.67,828.0 L624.00,828.0 L624.67,828.2 L625.67,829.2 L626.67,830.9 L627.67,833.0 L628.67,835.2 L629.67,837.3 L630.00,838.0 L630.67,839.3 L631.67,841.3 L632.67,843.4 L633.67,845.7 L634.67,848.0 L635.67,850.6 L636.67,853.2 L636.87,853.8 L637.67,856.3 L638.67,859.8 L639.67,863.6 L640.67,867.6 L641.67,871.5 L642.67,875.3 L643.60,878.5 L643.67,878.7 L644.67,881.9 L645.67,885.1 L646.67,888.2 L647.67,891.1 L648.67,893.9 L649.67,896.5 L650.67,898.9 L651.20,900.0 L651.67,901.0 L652.67,902.9 L653.67,904.7 L654.67,906.3 L655.67,907.9 L656.67,909.2 L657.33,910.0 L657.67,910.4 L658.67,911.5 L659.67,912.5 L660.67,913.5 L661.67,914.4 L662.67,915.2 L663.67,916.0 L664.67,916.7 L665.67,917.4 L666.67,918.0 L667.67,918.6 L668.67,919.2 L669.67,919.8 L670.67,920.3 L671.67,920.9 L672.67,921.4 L673.67,921.8 L674.67,922.2 L675.67,922.5 L676.67,922.8 L677.67,923.0 L678.00,923.0 L678.67,923.1 L679.67,923.1 L680.67,923.2 L681.67,923.3 L682.67,923.4 L683.67,923.4 L684.67,923.5 L685.67,923.5 L686.67,923.6 L687.67,923.6 L688.67,923.6 L689.67,923.7 L690.67,923.7 L691.67,923.8 L692.67,923.8 L693.67,923.8 L694.67,923.8 L695.67,923.9 L696.67,923.9 L697.67,923.9 L698.67,924.0 L699.67,924.0 L700.00,924.0 L700.67,924.0 L701.67,924.0 L702.67,924.1 L703.67,924.1 L704.67,924.1 L705.67,924.1 L706.67,924.2 L707.67,924.2 L708.67,924.2 L709.67,924.2 L710.67,924.2 L711.67,924.3 L712.67,924.3 L713.67,924.3 L714.67,924.3 L715.67,924.4 L716.67,924.4 L717.67,924.4 L718.67,924.5 L719.67,924.5 L720.00,924.5 L720.67,924.5 L721.67,924.6 L722.67,924.6 L723.67,924.7 L724.67,924.8 L725.67,924.9 L726.67,925.0 L727.67,925.1 L728.67,925.2 L729.67,925.3 L730.67,925.4 L731.67,925.6 L732.67,925.7 L733.67,925.9 L734.67,926.0 L735.67,926.2 L736.67,926.3 L737.67,926.5 L738.67,926.7 L739.67,926.9 L740.67,927.0 L741.67,927.2 L742.67,927.4 L743.67,927.6 L744.67,927.8 L745.67,928.0 L746.67,928.2 L747.67,928.4 L748.67,928.6 L749.67,928.8 L750.67,929.0 L751.67,929.3 L752.67,929.5 L753.67,929.7 L754.67,929.9 L755.67,930.1 L756.67,930.3 L757.67,930.5 L758.67,930.7 L759.67,930.9 L760.67,931.1 L761.67,931.3 L762.67,931.5 L763.67,931.7 L764.67,931.9 L765.67,932.1 L766.67,932.3 L767.67,932.5 L768.67,932.6 L769.67,932.8 L770.67,933.0 L771.67,933.1 L772.67,933.3 L773.67,933.4 L774.20,933.5 L774.67,933.6 L775.67,933.7 L776.67,933.8 L777.67,934.0 L778.67,934.1 L779.67,934.3 L780.67,934.4 L781.67,934.6 L782.67,934.7 L783.67,934.8 L784.67,935.0 L785.67,935.1 L786.67,935.3 L787.67,935.4 L788.67,935.6 L789.67,935.7 L790.67,935.8 L791.67,936.0 L792.67,936.1 L793.67,936.2 L794.67,936.4 L795.67,936.5 L796.67,936.7 L797.67,936.8 L798.67,936.9 L799.67,937.1 L800.67,937.2 L801.67,937.3 L802.67,937.5 L803.67,937.6 L804.67,937.7 L805.67,937.8 L806.67,938.0 L807.67,938.1 L808.67,938.2 L809.67,938.3 L810.67,938.4 L811.67,938.6 L812.67,938.7 L813.67,938.8 L814.67,938.9 L815.67,939.0 L816.67,939.1 L817.67,939.2 L818.67,939.3 L819.67,939.4 L820.67,939.6 L821.67,939.7 L822.67,939.7 L823.67,939.8 L824.67,939.9 L825.67,940.0 L826.67,940.1 L827.67,940.2 L828.67,940.3 L829.67,940.4 L830.67,940.5 L831.27,940.5 L831.67,940.5 L832.67,940.6 L833.67,940.7 L834.67,940.8 L835.67,940.8 L836.67,940.9 L837.67,941.0 L838.67,941.1 L839.67,941.1 L840.67,941.2 L841.67,941.3 L842.67,941.4 L843.67,941.5 L844.67,941.5 L845.67,941.6 L846.67,941.7 L847.67,941.7 L848.67,941.8 L849.67,941.9 L850.67,942.0 L851.67,942.0 L852.67,942.1 L853.67,942.2 L854.67,942.2 L855.67,942.3 L856.67,942.4 L857.67,942.4 L858.67,942.5 L859.67,942.6 L860.67,942.6 L861.67,942.7 L862.67,942.7 L863.67,942.8 L864.67,942.9 L865.67,942.9 L866.67,943.0 L867.67,943.0 L868.67,943.1 L869.67,943.1 L870.67,943.2 L871.67,943.2 L872.67,943.3 L873.67,943.3 L874.67,943.3 L875.67,943.4 L876.67,943.4 L877.67,943.5 L878.67,943.5 L879.67,943.5 L880.67,943.6 L881.67,943.6 L882.67,943.6 L883.67,943.6 L884.67,943.6 L885.67,943.7 L886.67,943.7 L887.67,943.7 L888.33,943.7 L888.67,943.7 L889.67,943.7 L890.67,943.7 L891.67,943.7 L892.67,943.7 L893.67,943.7 L894.67,943.8 L895.67,943.8 L896.67,943.8 L897.67,943.8 L898.67,943.8 L899.67,943.8 L900.67,943.8 L901.67,943.8 L902.67,943.8 L903.67,943.8 L904.67,943.8 L905.67,943.8 L906.67,943.8 L907.67,943.8 L908.67,943.8 L909.67,943.8 L910.67,943.8 L911.67,943.8 L912.67,943.8 L913.67,943.8 L914.67,943.9 L915.67,943.9 L916.67,943.9 L917.67,943.9 L918.67,943.9 L919.67,943.9 L920.67,943.9 L921.67,943.9 L922.67,943.9 L923.67,943.9 L924.67,943.9 L925.67,943.9 L926.67,943.9 L927.67,943.9 L928.67,943.9 L929.67,943.9 L930.67,943.9 L931.67,943.9 L932.67,943.9 L933.67,943.9 L934.67,944.0 L935.67,944.0 L936.67,944.0 L937.67,944.0 L938.67,944.0 L939.67,944.0 L939.73,944.0 L940.67,944.0 L941.67,944.0 L942.67,944.0 L943.67,944.1 L944.67,944.1 L945.67,944.1 L946.67,944.1 L947.67,944.1 L948.67,944.2 L949.67,944.2 L950.67,944.2 L951.67,944.3 L952.67,944.3 L953.67,944.3 L954.67,944.4 L955.67,944.4 L956.67,944.4 L957.67,944.5 L958.67,944.5 L959.67,944.6 L960.67,944.6 L961.67,944.7 L962.67,944.7 L963.67,944.8 L964.67,944.8 L965.67,944.9 L966.67,944.9 L967.67,945.0 L968.67,945.0 L969.67,945.1 L970.67,945.2 L971.67,945.2 L972.67,945.3 L973.67,945.3 L974.67,945.4 L975.67,945.5 L976.67,945.5 L977.67,945.6 L978.67,945.7 L979.67,945.7 L980.67,945.8 L981.67,945.9 L982.67,945.9 L983.67,946.0 L984.67,946.1 L985.67,946.1 L986.67,946.2 L987.67,946.3 L988.67,946.4 L989.67,946.4 L990.67,946.5 L991.67,946.6 L992.67,946.7 L993.67,946.7 L994.67,946.8 L995.67,946.9 L996.67,947.0 L997.20,947.0 L997.67,947.0 L998.67,947.1 L999.67,947.2 L1000.67,947.3 L1001.67,947.4 L1002.67,947.5 L1003.67,947.5 L1004.67,947.6 L1005.67,947.7 L1006.67,947.8 L1007.67,947.9 L1008.67,948.1 L1009.67,948.2 L1010.67,948.3 L1011.67,948.4 L1012.67,948.5 L1013.67,948.6 L1014.67,948.7 L1015.67,948.9 L1016.67,949.0 L1017.67,949.1 L1018.67,949.2 L1019.67,949.4 L1020.67,949.5 L1021.67,949.6 L1022.67,949.8 L1023.67,949.9 L1024.67,950.0 L1025.67,950.2 L1026.67,950.3 L1027.67,950.5 L1028.67,950.6 L1029.67,950.8 L1030.67,950.9 L1031.67,951.1 L1032.67,951.2 L1033.67,951.4 L1034.67,951.5 L1035.67,951.7 L1036.67,951.8 L1037.67,952.0 L1038.67,952.2 L1039.67,952.3 L1040.67,952.5 L1041.67,952.7 L1042.67,952.8 L1043.67,953.0 L1044.67,953.2 L1045.67,953.3 L1046.67,953.5 L1047.67,953.7 L1048.67,953.8 L1049.67,954.0 L1050.67,954.2 L1051.67,954.3 L1052.67,954.5 L1053.67,954.7 L1054.67,954.9 L1055.67,955.0 L1056.67,955.2 L1057.67,955.4 L1058.67,955.6 L1059.67,955.7 L1060.67,955.9 L1061.13,956.0 L1061.67,956.1 L1062.67,956.3 L1063.67,956.5 L1064.67,956.7 L1065.67,956.9 L1066.67,957.1 L1067.67,957.3 L1068.67,957.5 L1069.67,957.7 L1070.67,958.0 L1071.67,958.2 L1072.67,958.4 L1073.67,958.7 L1074.67,958.9 L1075.67,959.2 L1076.67,959.4 L1077.67,959.7 L1078.67,959.9 L1079.67,960.2 L1080.67,960.4 L1081.67,960.7 L1082.67,961.0 L1083.67,961.2 L1084.67,961.5 L1085.67,961.7 L1086.67,962.0 L1087.67,962.3 L1088.67,962.5 L1089.67,962.8 L1090.67,963.0 L1091.67,963.3 L1092.67,963.5 L1093.67,963.8 L1094.67,964.0 L1095.67,964.3 L1096.67,964.5 L1097.67,964.7 L1098.67,965.0 L1099.67,965.2 L1100.67,965.4 L1101.67,965.6 L1102.67,965.8 L1103.67,966.0 L1104.67,966.2 L1105.67,966.4 L1106.67,966.6 L1107.67,966.8 L1108.67,966.9 L1109.00,967.0 L1109.67,967.1 L1110.67,967.3 L1111.67,967.4 L1112.67,967.6 L1113.67,967.7 L1114.67,967.9 L1115.67,968.1 L1116.67,968.2 L1117.67,968.4 L1118.67,968.5 L1119.67,968.6 L1120.67,968.8 L1121.67,968.9 L1122.67,969.1 L1123.67,969.2 L1124.67,969.4 L1125.67,969.5 L1126.67,969.6 L1127.67,969.8 L1128.67,969.9 L1129.67,970.0 L1130.67,970.2 L1131.67,970.3 L1132.67,970.4 L1133.67,970.5 L1134.67,970.7 L1135.67,970.8 L1136.67,970.9 L1137.67,971.0 L1138.67,971.1 L1139.67,971.3 L1140.67,971.4 L1141.67,971.5 L1142.67,971.6 L1143.67,971.7 L1144.67,971.8 L1145.67,971.9 L1146.67,972.0 L1147.67,972.1 L1148.67,972.2 L1149.67,972.3 L1150.67,972.4 L1151.67,972.5 L1152.67,972.6 L1153.67,972.7 L1154.67,972.8 L1155.67,972.9 L1156.67,973.0 L1157.67,973.1 L1158.67,973.2 L1159.67,973.3 L1160.67,973.3 L1161.67,973.4 L1162.67,973.5 L1163.67,973.6 L1164.67,973.7 L1165.67,973.8 L1166.67,973.8 L1167.67,973.9 L1168.67,974.0 L1169.67,974.1 L1170.67,974.1 L1171.67,974.2 L1172.67,974.3 L1173.67,974.4 L1174.67,974.4 L1175.67,974.5 L1176.67,974.6 L1177.67,974.7 L1178.67,974.7 L1179.67,974.8 L1180.67,974.9 L1181.67,974.9 L1182.67,975.0 L1183.67,975.1 L1184.67,975.1 L1185.67,975.2 L1186.67,975.3 L1187.67,975.3 L1188.67,975.4 L1189.67,975.4 L1190.67,975.5 L1191.67,975.6 L1192.67,975.6 L1193.67,975.7 L1194.67,975.8 L1195.67,975.8 L1196.67,975.9 L1197.67,975.9 L1198.67,976.0 L1199.67,976.1 L1200.67,976.1 L1201.67,976.2 L1202.67,976.2 L1203.67,976.3 L1204.67,976.4 L1205.67,976.4 L1206.67,976.5 L1207.67,976.5 L1208.67,976.6 L1209.67,976.6 L1210.67,976.7 L1211.67,976.8 L1212.67,976.8 L1213.67,976.9 L1214.67,976.9 L1215.67,977.0 L1216.67,977.1 L1217.67,977.1 L1218.67,977.2 L1219.67,977.3 L1220.67,977.3 L1221.67,977.4 L1222.67,977.4 L1223.67,977.5 L1224.67,977.6 L1225.67,977.6 L1226.67,977.7 L1227.67,977.8 L1228.67,977.8 L1229.67,977.9 L1230.67,978.0 L1231.33,978.0 L1231.67,978.0 L1232.67,978.1 L1233.67,978.2 L1234.67,978.2 L1235.67,978.3 L1236.67,978.4 L1237.67,978.4 L1238.67,978.5 L1239.67,978.6 L1240.67,978.6 L1241.67,978.7 L1242.67,978.8 L1243.67,978.8 L1244.67,978.9" stroke="#ff6cff" stroke-width="24"/>
<polygon points="172.67,1020.0 174.00,1012.0 179.00,1001.2 196.40,1001.2 205.13,1015.0 205.13,1022.0 172.67,1022.0" fill="#ff6cff" stroke="none"/>
</g>
<g transform="scale(1.5,1)" fill="none" stroke-linejoin="round" stroke-linecap="butt">
<path d="M118.67,1255.0 L119.67,1255.0 L120.67,1255.0 L121.67,1255.0 L122.67,1255.0 L123.67,1255.0 L124.67,1255.0 L125.67,1255.0 L126.67,1255.0 L127.67,1255.0 L128.67,1255.0 L129.67,1255.0 L130.67,1254.9 L131.67,1254.8 L132.67,1254.7 L133.33,1254.6 L133.67,1254.6 L134.67,1254.4 L135.67,1254.2 L136.67,1254.0 L137.67,1253.8 L138.67,1253.6 L139.67,1253.3 L140.67,1253.0 L141.67,1252.7 L142.67,1252.4 L143.67,1252.0 L144.67,1251.6 L145.67,1251.3 L146.67,1250.9 L147.67,1250.5 L148.67,1250.1 L149.67,1249.6 L150.67,1249.2 L151.67,1248.7 L152.67,1248.3 L153.33,1248.0 L153.67,1247.8 L154.67,1247.3 L155.67,1246.8 L156.67,1246.1 L157.67,1245.4 L158.67,1244.7 L159.67,1244.0 L160.67,1243.3 L161.67,1242.5 L162.67,1241.8 L163.67,1241.0 L164.67,1240.3 L165.67,1239.6 L166.67,1239.0 L167.67,1238.4 L168.67,1237.7 L169.67,1237.0 L170.67,1236.3 L171.67,1235.6 L172.67,1234.9 L173.67,1234.2 L174.67,1233.5 L175.67,1232.8 L176.67,1232.1 L177.67,1231.5 L178.67,1230.8 L179.67,1230.3 L180.67,1229.8 L181.67,1229.3 L182.67,1228.9 L183.67,1228.5 L184.67,1228.3 L185.67,1228.1 L186.67,1228.0 L187.67,1228.0 L188.67,1227.9 L189.67,1227.9 L190.67,1227.9 L191.67,1227.9 L192.67,1227.8 L193.67,1227.8 L194.67,1227.8 L195.67,1227.8 L196.67,1227.8 L197.67,1227.8 L198.67,1227.7 L199.67,1227.7 L200.67,1227.6 L201.33,1227.6 L201.67,1227.6 L202.67,1227.3 L203.67,1226.9 L204.67,1226.3 L205.67,1225.7 L206.67,1225.0 L207.67,1224.3 L208.67,1223.5 L209.67,1222.7 L210.67,1221.7 L211.67,1220.7 L212.67,1219.5 L213.67,1218.4 L214.67,1217.1 L215.67,1215.8 L216.53,1214.6 L216.67,1214.4 L217.67,1212.9 L218.67,1211.1 L219.67,1209.2 L220.67,1207.1 L221.67,1204.9 L222.67,1202.6 L223.67,1200.3 L224.67,1197.9 L225.67,1195.5 L226.67,1193.1 L227.67,1190.8 L228.33,1189.3 L228.67,1188.5 L229.67,1186.2 L230.67,1183.8 L231.67,1181.4 L232.67,1179.1 L233.67,1177.0 L234.67,1175.1 L235.67,1173.3 L236.67,1171.6 L237.67,1170.0 L238.67,1168.4 L239.67,1166.8 L240.67,1165.3 L241.67,1163.7 L242.00,1163.2 L242.67,1162.1 L243.67,1160.4 L244.67,1158.7 L245.67,1156.9 L246.67,1155.2 L247.67,1153.6 L248.67,1152.2 L249.67,1151.0 L250.67,1150.0 L251.67,1149.2 L252.67,1148.3 L253.67,1147.5 L254.67,1146.8 L255.67,1146.0 L256.67,1145.4 L257.67,1144.8 L258.67,1144.2 L259.67,1143.8 L260.67,1143.5 L261.67,1143.3 L262.67,1143.2 L262.80,1143.2 L263.67,1143.2 L264.67,1143.3 L265.67,1143.3 L266.67,1143.5 L267.67,1143.6 L268.67,1143.7 L269.67,1143.9 L270.67,1144.1 L271.67,1144.3 L272.67,1144.5 L273.67,1144.7 L274.67,1144.9 L275.67,1145.1 L276.67,1145.3 L277.67,1145.5 L278.67,1145.6 L279.13,1145.7 L279.67,1145.8 L280.67,1145.9 L281.67,1146.0 L282.67,1146.2 L283.67,1146.3 L284.67,1146.4 L285.67,1146.5 L286.67,1146.7 L287.67,1146.8 L288.67,1146.9 L289.67,1147.1 L290.67,1147.2 L291.67,1147.4 L292.67,1147.6 L293.33,1147.7 L293.67,1147.8 L294.67,1148.0 L295.67,1148.4 L296.67,1148.7 L297.67,1149.1 L298.67,1149.4 L299.67,1149.7 L300.67,1149.9 L301.67,1150.0 L301.73,1150.0 L302.67,1150.0 L303.67,1149.9 L304.67,1149.9 L305.67,1149.7 L306.67,1149.6 L307.67,1149.4 L308.67,1149.2 L309.67,1149.0 L310.67,1148.8 L311.67,1148.5 L312.67,1148.3 L313.67,1148.0 L314.67,1147.7 L315.67,1147.4 L316.67,1147.1 L317.67,1146.8 L318.67,1146.4 L319.67,1146.1 L320.67,1145.8 L321.67,1145.5 L322.67,1145.1 L323.13,1145.0 L323.67,1144.8 L324.67,1144.5 L325.67,1144.1 L326.67,1143.8 L327.67,1143.4 L328.67,1142.9 L329.67,1142.5 L330.67,1142.1 L331.67,1141.6 L332.67,1141.1 L333.67,1140.6 L334.67,1140.1 L335.67,1139.6 L336.67,1139.1 L337.67,1138.6 L338.67,1138.0 L339.67,1137.5 L340.67,1136.9 L341.67,1136.4 L342.67,1135.8 L343.67,1135.3 L344.67,1134.7 L345.67,1134.2 L346.67,1133.6 L347.67,1133.1 L348.67,1132.6 L349.67,1132.0 L350.67,1131.5 L351.67,1131.0 L352.67,1130.5 L353.67,1130.0 L354.67,1129.5 L355.67,1129.0 L356.67,1128.4 L357.67,1127.9 L358.67,1127.4 L359.67,1126.9 L360.67,1126.4 L361.67,1125.8 L362.67,1125.3 L363.67,1124.8 L364.67,1124.3 L365.67,1123.7 L366.67,1123.2 L367.67,1122.7 L368.67,1122.1 L369.67,1121.6 L370.67,1121.1 L371.67,1120.6 L372.67,1120.0 L373.67,1119.5 L374.67,1119.0 L375.67,1118.4 L376.67,1117.9 L377.67,1117.4 L378.67,1116.8 L379.67,1116.3 L380.27,1116.0 L380.67,1115.8 L381.67,1115.3 L382.67,1114.7 L383.67,1114.2 L384.67,1113.6 L385.67,1113.1 L386.67,1112.5 L387.67,1112.0 L388.67,1111.4 L389.67,1110.9 L390.67,1110.4 L391.67,1109.8 L392.67,1109.3 L393.67,1108.7 L394.67,1108.2 L395.67,1107.7 L396.67,1107.2 L397.67,1106.7 L398.67,1106.2 L399.67,1105.7 L400.00,1105.5 L400.67,1105.2 L401.67,1104.7 L402.67,1104.3 L403.67,1103.8 L404.67,1103.4 L405.67,1102.9 L406.67,1102.5 L407.67,1102.1 L408.67,1101.6 L409.67,1101.2 L410.67,1100.8 L411.67,1100.3 L412.67,1099.9 L413.67,1099.4 L414.67,1098.9 L414.93,1098.8 L415.67,1098.4 L416.67,1098.0 L417.67,1097.5 L418.67,1097.0 L419.67,1096.5 L420.67,1096.0 L421.67,1095.4 L422.67,1094.9 L423.67,1094.4 L424.67,1093.9 L425.67,1093.3 L426.67,1092.8 L427.67,1092.2 L428.67,1091.6 L429.67,1091.1 L429.93,1090.9 L430.67,1090.4 L431.67,1089.8 L432.67,1089.1 L433.67,1088.4 L434.67,1087.6 L435.67,1086.9 L436.67,1086.2 L437.67,1085.5 L438.67,1084.8 L439.67,1084.2 L440.67,1083.7 L441.13,1083.5 L441.67,1083.3 L442.67,1082.8 L443.67,1082.4 L444.67,1081.9 L445.67,1081.6 L446.67,1081.3 L447.67,1081.1 L448.60,1081.0 L448.67,1081.0 L449.67,1081.0 L450.67,1081.0 L451.67,1080.9 L452.67,1080.9 L453.67,1080.9 L454.67,1080.9 L455.67,1080.9 L456.67,1080.9 L457.67,1080.8 L458.67,1080.8 L459.67,1080.8 L460.67,1080.8 L461.67,1080.8 L462.67,1080.8 L463.67,1080.8 L464.67,1080.8 L465.67,1080.8 L466.67,1080.8 L467.27,1080.8 L467.67,1080.8 L468.67,1081.1 L469.67,1081.7 L470.67,1082.4 L471.67,1083.2 L472.67,1084.1 L473.67,1084.9 L474.67,1085.6 L474.73,1085.6 L475.67,1086.1 L476.67,1086.7 L477.67,1087.3 L478.67,1087.8 L479.67,1088.3 L480.67,1088.9 L481.67,1089.4 L482.67,1089.9 L483.67,1090.4 L484.67,1090.9 L485.67,1091.5 L486.67,1092.0 L487.67,1092.5 L488.67,1093.1 L489.67,1093.7 L489.73,1093.7 L490.67,1094.3 L491.67,1094.9 L492.67,1095.6 L493.67,1096.2 L494.67,1096.9 L495.67,1097.6 L496.67,1098.3 L497.67,1099.0 L498.67,1099.7 L499.67,1100.4 L500.67,1101.0 L501.67,1101.6 L502.67,1102.2 L503.67,1102.7 L504.67,1103.2 L505.67,1103.7 L506.67,1104.1 L507.67,1104.5 L508.67,1104.9 L509.67,1105.2 L510.67,1105.6 L511.67,1105.9 L512.13,1106.0 L512.67,1106.1 L513.67,1106.4 L514.67,1106.7 L515.67,1107.0 L516.67,1107.2 L517.67,1107.5 L518.67,1107.7 L519.67,1107.9 L520.67,1108.0 L521.67,1108.1 L522.67,1108.2 L523.33,1108.2 L523.67,1108.2 L524.67,1108.1 L525.67,1108.0 L526.67,1107.8 L527.67,1107.6 L528.67,1107.3 L529.67,1107.1 L530.67,1106.7 L531.67,1106.4 L532.67,1106.1 L533.07,1106.0 L533.67,1105.8 L534.67,1105.4 L535.67,1105.0 L536.67,1104.6 L537.67,1104.1 L538.67,1103.6 L539.67,1103.1 L540.67,1102.6 L541.67,1102.0 L542.67,1101.4 L543.67,1100.9 L544.67,1100.3 L545.67,1099.8 L546.53,1099.3 L546.67,1099.2 L547.67,1098.7 L548.67,1098.1 L549.67,1097.6 L550.67,1097.0 L551.67,1096.4 L552.67,1095.9 L553.67,1095.3 L554.67,1094.7 L554.93,1094.5 L555.67,1094.0 L556.67,1093.4 L557.67,1092.7 L558.67,1092.0 L559.67,1091.3 L560.67,1090.6 L561.67,1089.8 L562.67,1089.1 L563.67,1088.4 L564.67,1087.7 L565.67,1087.0 L566.67,1086.4 L567.67,1085.7 L568.67,1085.2 L569.67,1084.6 L569.93,1084.5 L570.67,1084.1 L571.67,1083.6 L572.67,1083.1 L573.67,1082.5 L574.67,1082.1 L575.67,1081.6 L576.67,1081.3 L577.67,1081.1 L578.67,1081.0 L579.67,1081.0 L580.67,1081.0 L581.67,1080.9 L582.67,1080.9 L583.67,1080.9 L584.67,1080.9 L585.67,1080.9 L586.67,1080.9 L587.67,1080.9 L588.67,1080.8 L589.67,1080.8 L590.67,1080.8 L591.67,1080.8 L592.67,1080.8 L593.67,1080.8 L594.67,1080.8 L595.67,1080.8 L596.67,1080.8 L597.67,1080.8 L598.67,1080.8 L599.67,1080.8 L600.00,1080.8 L600.67,1080.8 L601.67,1080.9 L602.67,1080.9 L603.67,1081.1 L604.67,1081.2 L605.67,1081.4 L606.67,1081.6 L607.67,1081.8 L608.67,1082.0 L609.67,1082.2 L610.67,1082.4 L611.00,1082.5 L611.67,1082.7 L612.67,1082.9 L613.67,1083.2 L614.67,1083.5 L615.67,1083.9 L616.67,1084.3 L617.67,1084.7 L618.67,1085.1 L619.67,1085.5 L620.67,1086.0 L621.67,1086.5 L622.20,1086.7 L622.67,1086.9 L623.67,1087.4 L624.67,1088.0 L625.67,1088.6 L626.67,1089.2 L627.67,1089.8 L628.67,1090.5 L629.67,1091.2 L630.67,1091.8 L631.67,1092.5 L632.67,1093.2 L633.67,1093.9 L634.67,1094.6 L635.67,1095.2 L636.67,1095.9 L637.20,1096.2 L637.67,1096.5 L638.67,1097.1 L639.67,1097.7 L640.67,1098.4 L641.67,1099.0 L642.67,1099.6 L643.67,1100.2 L644.67,1100.9 L645.67,1101.5 L646.67,1102.1 L647.67,1102.6 L648.67,1103.2 L649.67,1103.8 L650.67,1104.3 L651.67,1104.8 L652.13,1105.0 L652.67,1105.3 L653.67,1105.8 L654.67,1106.3 L655.67,1106.8 L656.67,1107.4 L657.67,1107.9 L658.67,1108.3 L659.67,1108.8 L660.67,1109.1 L661.67,1109.3 L662.67,1109.5 L663.33,1109.5 L663.67,1109.5 L664.67,1109.4 L665.67,1109.3 L666.67,1109.0 L667.67,1108.8 L668.67,1108.4 L669.67,1108.1 L670.67,1107.7 L671.67,1107.3 L672.67,1106.9 L673.33,1106.6 L673.67,1106.5 L674.67,1106.0 L675.67,1105.5 L676.67,1104.8 L677.67,1104.2 L678.67,1103.5 L679.67,1102.7 L680.67,1102.0 L681.67,1101.2 L682.67,1100.4 L683.67,1099.6 L684.67,1098.8 L685.67,1098.1 L686.67,1097.4 L687.67,1096.7 L688.00,1096.5 L688.67,1096.1 L689.67,1095.4 L690.67,1094.8 L691.67,1094.1 L692.67,1093.4 L693.67,1092.8 L694.67,1092.2 L695.67,1091.6 L696.67,1091.1 L697.67,1090.6 L698.67,1090.2 L699.33,1090.0 L699.67,1089.9 L700.67,1089.6 L701.67,1089.3 L702.67,1089.1 L703.67,1088.8 L704.67,1088.7 L705.67,1088.6 L706.00,1088.6 L706.67,1088.6 L707.67,1088.9 L708.67,1089.2 L709.67,1089.7 L710.67,1090.3 L711.67,1090.9 L712.67,1091.6 L713.67,1092.3 L714.67,1093.0 L715.67,1093.7 L716.67,1094.5 L717.67,1095.5 L718.67,1096.4 L719.67,1097.5 L720.67,1098.6 L721.67,1099.7 L722.67,1100.8 L723.67,1101.9 L724.67,1103.0 L725.67,1104.0 L726.67,1105.0 L727.67,1106.0 L728.67,1107.1 L729.67,1108.1 L730.67,1109.1 L731.67,1110.2 L732.67,1111.2 L733.67,1112.2 L734.67,1113.3 L735.67,1114.3 L736.67,1115.4 L737.67,1116.4 L738.67,1117.5 L739.67,1118.5 L740.60,1119.5 L740.67,1119.6 L741.67,1120.7 L742.67,1121.8 L743.67,1122.9 L744.67,1124.0 L745.67,1125.2 L746.67,1126.4 L747.67,1127.5 L748.67,1128.7 L749.67,1129.8 L750.67,1130.9 L751.67,1132.0 L752.67,1133.0 L753.67,1134.0 L754.67,1134.9 L755.53,1135.7 L755.67,1135.8 L756.67,1136.6 L757.67,1137.4 L758.67,1138.2 L759.67,1138.9 L760.67,1139.7 L761.67,1140.3 L762.67,1141.0 L763.67,1141.7 L764.67,1142.4 L765.67,1143.0 L766.67,1143.7 L767.67,1144.3 L768.67,1145.0 L769.67,1145.7 L770.53,1146.3 L770.67,1146.4 L771.67,1147.1 L772.67,1147.9 L773.67,1148.7 L774.67,1149.5 L775.67,1150.3 L776.67,1151.2 L777.67,1152.0 L778.67,1152.8 L779.67,1153.5 L780.67,1154.3 L781.67,1154.9 L782.67,1155.6 L783.67,1156.2 L784.67,1156.7 L785.47,1157.0 L785.67,1157.1 L786.67,1157.5 L787.67,1157.8 L788.67,1158.2 L789.67,1158.5 L790.67,1158.8 L791.67,1159.1 L792.67,1159.3 L793.67,1159.6 L794.67,1159.8 L795.67,1160.1 L796.67,1160.3 L797.67,1160.5 L798.67,1160.8 L799.67,1161.0 L800.67,1161.2 L801.67,1161.4 L802.00,1161.5 L802.67,1161.6 L803.67,1161.8 L804.67,1162.0 L805.67,1162.2 L806.67,1162.4 L807.67,1162.6 L808.67,1162.7 L809.67,1162.9 L810.67,1163.1 L811.67,1163.2 L812.67,1163.4 L813.67,1163.5 L814.67,1163.7 L815.67,1163.9 L816.67,1164.1 L817.67,1164.3 L818.67,1164.5 L819.67,1164.8 L819.87,1164.8 L820.67,1165.0 L821.67,1165.3 L822.67,1165.6 L823.67,1166.0 L824.67,1166.4 L825.67,1166.8 L826.67,1167.3 L827.67,1167.7 L828.67,1168.2 L829.67,1168.7 L830.67,1169.2 L831.67,1169.6 L832.67,1170.1 L833.67,1170.6 L834.67,1171.1 L835.67,1171.5 L836.67,1172.0 L837.67,1172.4 L838.67,1172.8 L839.67,1173.2 L840.67,1173.5 L841.67,1173.8 L842.67,1174.1 L843.67,1174.3 L844.67,1174.5 L845.53,1174.6 L845.67,1174.6 L846.67,1174.7 L847.67,1174.8 L848.67,1174.9 L849.67,1175.0 L850.67,1175.1 L851.67,1175.2 L852.67,1175.3 L853.67,1175.3 L854.67,1175.4 L855.67,1175.5 L856.67,1175.6 L857.67,1175.6 L858.67,1175.7 L859.67,1175.8 L860.67,1175.8 L861.67,1175.9 L862.67,1176.0 L863.67,1176.0 L864.67,1176.1 L865.67,1176.1 L866.67,1176.2 L867.67,1176.2 L868.67,1176.3 L869.67,1176.3 L870.67,1176.4 L871.67,1176.4 L872.67,1176.5 L873.67,1176.5 L874.67,1176.5 L875.67,1176.6 L876.67,1176.6 L877.67,1176.7 L878.67,1176.7 L879.67,1176.7 L880.67,1176.8 L881.67,1176.8 L882.67,1176.8 L883.67,1176.9 L884.67,1176.9 L885.67,1176.9 L886.67,1177.0 L887.67,1177.0 L888.33,1177.0 L888.67,1177.0 L889.67,1177.0 L890.67,1177.1 L891.67,1177.1 L892.67,1177.1 L893.67,1177.1 L894.67,1177.2 L895.67,1177.2 L896.67,1177.2 L897.67,1177.2 L898.67,1177.2 L899.67,1177.3 L900.67,1177.3 L901.67,1177.3 L902.67,1177.3 L903.67,1177.3 L904.67,1177.3 L905.67,1177.4 L906.67,1177.4 L907.67,1177.4 L908.67,1177.4 L909.67,1177.4 L910.67,1177.4 L911.67,1177.4 L912.67,1177.5 L913.67,1177.5 L914.67,1177.5 L915.67,1177.5 L916.67,1177.5 L917.67,1177.5 L918.67,1177.5 L919.67,1177.5 L920.67,1177.6 L921.67,1177.6 L922.67,1177.6 L923.67,1177.6 L924.67,1177.6 L925.67,1177.6 L926.67,1177.7 L927.67,1177.7 L928.67,1177.7 L929.67,1177.7 L930.67,1177.7 L931.67,1177.8 L932.67,1177.8 L933.67,1177.8 L934.67,1177.8 L935.67,1177.9 L936.67,1177.9 L937.67,1177.9 L938.67,1178.0 L939.67,1178.0 L939.73,1178.0 L940.67,1178.0 L941.67,1178.1 L942.67,1178.1 L943.67,1178.2 L944.67,1178.3 L945.67,1178.4 L946.67,1178.5 L947.67,1178.6 L948.67,1178.7 L949.67,1178.8 L950.67,1179.0 L951.67,1179.1 L952.67,1179.3 L953.67,1179.4 L954.67,1179.6 L955.67,1179.7 L956.67,1179.9 L957.67,1180.1 L958.67,1180.3 L959.67,1180.5 L960.67,1180.6 L961.67,1180.8 L962.67,1181.0 L963.67,1181.2 L964.67,1181.4 L965.67,1181.6 L966.67,1181.8 L967.67,1182.1 L968.67,1182.3 L969.67,1182.5 L970.67,1182.7 L971.67,1182.9 L972.67,1183.1 L973.67,1183.3 L974.67,1183.5 L975.67,1183.7 L976.67,1183.9 L977.67,1184.1 L978.67,1184.3 L979.67,1184.5 L980.67,1184.7 L981.67,1184.9 L982.67,1185.1 L983.67,1185.2 L984.67,1185.4 L985.67,1185.6 L986.67,1185.7 L987.67,1185.9 L988.67,1186.0 L989.67,1186.2 L990.67,1186.3 L991.67,1186.5 L992.67,1186.6 L993.67,1186.7 L994.67,1186.8 L995.67,1186.9 L996.67,1187.0 L997.20,1187.0 L997.67,1187.0 L998.67,1187.1 L999.67,1187.2 L1000.67,1187.2 L1001.67,1187.3 L1002.67,1187.4 L1003.67,1187.4 L1004.67,1187.5 L1005.67,1187.5 L1006.67,1187.6 L1007.67,1187.6 L1008.67,1187.7 L1009.67,1187.7 L1010.67,1187.8 L1011.67,1187.8 L1012.67,1187.9 L1013.67,1187.9 L1014.67,1188.0 L1015.67,1188.0 L1016.67,1188.0 L1017.67,1188.1 L1018.67,1188.1 L1019.67,1188.1 L1020.67,1188.2 L1021.67,1188.2 L1022.67,1188.2 L1023.67,1188.3 L1024.67,1188.3 L1025.67,1188.3 L1026.67,1188.4 L1027.67,1188.4 L1028.67,1188.4 L1029.67,1188.5 L1030.67,1188.5 L1031.67,1188.5 L1032.67,1188.6 L1033.67,1188.6 L1034.67,1188.6 L1035.67,1188.7 L1036.67,1188.7 L1037.67,1188.8 L1038.67,1188.8 L1039.67,1188.8 L1040.67,1188.9 L1041.67,1188.9 L1042.67,1188.9 L1043.67,1189.0 L1044.67,1189.0 L1045.67,1189.1 L1046.67,1189.1 L1047.67,1189.2 L1048.67,1189.2 L1049.67,1189.3 L1050.67,1189.3 L1051.67,1189.4 L1052.67,1189.4 L1053.67,1189.5 L1054.67,1189.6 L1055.67,1189.6 L1056.67,1189.7 L1057.67,1189.7 L1058.67,1189.8 L1059.67,1189.9 L1060.67,1190.0 L1061.13,1190.0 L1061.67,1190.0 L1062.67,1190.1 L1063.67,1190.2 L1064.67,1190.3 L1065.67,1190.5 L1066.67,1190.6 L1067.67,1190.7 L1068.67,1190.9 L1069.67,1191.1 L1070.67,1191.2 L1071.67,1191.4 L1072.67,1191.6 L1073.67,1191.8 L1074.67,1192.0 L1075.67,1192.2 L1076.67,1192.4 L1077.67,1192.7 L1078.67,1192.9 L1079.67,1193.1 L1080.67,1193.4 L1081.67,1193.6 L1082.67,1193.9 L1083.67,1194.1 L1084.67,1194.4 L1085.67,1194.7 L1086.67,1194.9 L1087.67,1195.2 L1088.67,1195.5 L1089.67,1195.7 L1090.67,1196.0 L1091.67,1196.3 L1092.67,1196.6 L1093.67,1196.9 L1094.67,1197.1 L1095.67,1197.4 L1096.67,1197.7 L1097.67,1198.0 L1098.67,1198.3 L1099.67,1198.5 L1100.67,1198.8 L1101.67,1199.1 L1102.67,1199.4 L1103.67,1199.6 L1104.67,1199.9 L1105.67,1200.2 L1106.67,1200.4 L1107.67,1200.7 L1108.67,1200.9 L1109.67,1201.2 L1110.67,1201.4 L1111.67,1201.6 L1112.67,1201.9 L1113.67,1202.1 L1114.67,1202.3 L1115.67,1202.5 L1116.67,1202.7 L1117.67,1202.9 L1118.67,1203.1 L1119.67,1203.2 L1120.67,1203.4 L1121.67,1203.6 L1122.67,1203.7 L1123.67,1203.8 L1124.67,1204.0 L1125.00,1204.0 L1125.67,1204.1 L1126.67,1204.2 L1127.67,1204.3 L1128.67,1204.4 L1129.67,1204.5 L1130.67,1204.6 L1131.67,1204.7 L1132.67,1204.8 L1133.67,1204.9 L1134.67,1205.0 L1135.67,1205.0 L1136.67,1205.1 L1137.67,1205.2 L1138.67,1205.3 L1139.67,1205.4 L1140.67,1205.4 L1141.67,1205.5 L1142.67,1205.6 L1143.67,1205.6 L1144.67,1205.7 L1145.67,1205.8 L1146.67,1205.8 L1147.67,1205.9 L1148.67,1205.9 L1149.67,1206.0 L1150.67,1206.1 L1151.67,1206.1 L1152.67,1206.2 L1153.67,1206.2 L1154.67,1206.3 L1155.67,1206.4 L1156.67,1206.4 L1157.67,1206.5 L1158.67,1206.5 L1159.67,1206.6 L1160.67,1206.6 L1161.67,1206.7 L1162.67,1206.8 L1163.67,1206.8 L1164.67,1206.9 L1165.67,1206.9 L1166.67,1207.0 L1167.67,1207.1 L1168.67,1207.1 L1169.67,1207.2 L1170.67,1207.3 L1171.67,1207.4 L1172.67,1207.4 L1173.67,1207.5 L1174.67,1207.6 L1175.67,1207.7 L1176.67,1207.7 L1177.67,1207.8 L1178.67,1207.9 L1179.67,1208.0 L1180.67,1208.1 L1181.67,1208.2 L1182.67,1208.3 L1183.67,1208.4 L1184.67,1208.5 L1185.67,1208.6 L1186.67,1208.7 L1187.67,1208.9 L1188.67,1209.0 L1188.87,1209.0 L1189.67,1209.1 L1190.67,1209.2 L1191.67,1209.4 L1192.67,1209.6 L1193.67,1209.7 L1194.67,1209.9 L1195.67,1210.1 L1196.67,1210.3 L1197.67,1210.5 L1198.67,1210.8 L1199.67,1211.0 L1200.67,1211.2 L1201.67,1211.5 L1202.67,1211.7 L1203.67,1212.0 L1204.67,1212.3 L1205.67,1212.5 L1206.67,1212.8 L1207.67,1213.1 L1208.67,1213.4 L1209.67,1213.7 L1210.67,1214.0 L1211.67,1214.3 L1212.67,1214.5 L1213.67,1214.8 L1214.67,1215.2 L1215.67,1215.5 L1216.67,1215.8 L1217.67,1216.1 L1218.67,1216.4 L1219.67,1216.7 L1220.67,1217.0 L1221.67,1217.3 L1222.67,1217.6 L1223.67,1217.9 L1224.67,1218.2 L1225.67,1218.4 L1226.67,1218.7 L1227.67,1219.0 L1228.67,1219.3 L1229.67,1219.6 L1230.67,1219.8 L1231.33,1220.0 L1231.67,1220.1 L1232.67,1220.3 L1233.67,1220.6 L1234.67,1220.9 L1235.67,1221.1 L1236.67,1221.4 L1237.67,1221.6 L1238.67,1221.9 L1239.67,1222.2 L1240.67,1222.4 L1241.67,1222.7 L1242.67,1222.9 L1243.67,1223.2 L1244.67,1223.5" stroke="#ff0000" stroke-width="28"/>
</g>
<g transform="scale(1.15,1)" fill="none" stroke-linejoin="round" stroke-linecap="butt">
<path d="M154.78,1509.0 L155.78,1509.0 L156.78,1509.0 L157.78,1509.0 L158.78,1509.0 L159.78,1509.0 L160.79,1509.0 L161.79,1509.0 L162.79,1509.0 L163.79,1509.0 L164.79,1509.0 L165.79,1509.0 L166.79,1509.0 L167.79,1509.0 L167.83,1509.0 L168.79,1509.0 L169.79,1509.0 L170.79,1509.0 L171.79,1509.0 L172.79,1509.0 L173.79,1508.9 L174.79,1508.9 L175.79,1508.9 L176.79,1508.9 L177.79,1508.9 L178.79,1508.8 L179.79,1508.8 L180.79,1508.8 L181.80,1508.7 L182.80,1508.7 L183.80,1508.7 L184.80,1508.6 L185.80,1508.6 L186.80,1508.6 L187.80,1508.5 L188.80,1508.5 L189.80,1508.4 L190.80,1508.4 L191.80,1508.4 L192.80,1508.3 L193.80,1508.3 L194.80,1508.3 L195.80,1508.2 L196.80,1508.2 L197.80,1508.2 L198.80,1508.1 L199.80,1508.1 L200.80,1508.1 L201.80,1508.1 L202.81,1508.1 L203.81,1508.0 L204.81,1508.0 L205.81,1508.0 L206.81,1508.0 L207.81,1508.0 L208.70,1508.0 L208.81,1508.0 L209.81,1508.0 L210.81,1508.0 L211.81,1508.0 L212.81,1508.0 L213.81,1508.0 L214.81,1508.0 L215.81,1508.0 L216.81,1508.0 L217.81,1508.0 L218.81,1508.0 L219.81,1508.0 L220.81,1508.0 L221.81,1508.0 L222.81,1508.0 L223.82,1508.0 L224.82,1508.0 L225.82,1508.0 L226.82,1508.0 L227.82,1508.0 L228.82,1508.0 L229.57,1508.0 L229.82,1508.0 L230.82,1508.0 L231.82,1508.0 L232.82,1508.0 L233.82,1508.0 L234.82,1508.0 L235.82,1508.0 L236.82,1508.0 L237.82,1508.0 L238.82,1508.0 L239.82,1508.0 L240.82,1508.0 L241.82,1508.0 L242.82,1508.0 L243.82,1508.0 L244.83,1508.0 L245.83,1508.0 L246.83,1508.0 L247.83,1508.0 L248.83,1508.0 L249.83,1508.0 L250.83,1508.0 L251.83,1508.0 L252.83,1508.0 L253.83,1508.0 L254.83,1508.0 L255.83,1508.0 L256.83,1508.0 L257.83,1508.0 L258.83,1508.0 L259.83,1508.0 L260.83,1508.0 L260.87,1508.0 L261.83,1508.0 L262.83,1508.0 L263.83,1508.1 L264.83,1508.1 L265.84,1508.2 L266.84,1508.3 L267.84,1508.3 L268.84,1508.4 L269.84,1508.4 L270.84,1508.5 L271.84,1508.5 L272.17,1508.5 L272.84,1508.5 L273.84,1508.5 L274.84,1508.5 L275.84,1508.4 L276.84,1508.4 L277.84,1508.3 L278.84,1508.3 L279.84,1508.2 L280.84,1508.2 L281.84,1508.1 L282.84,1508.0 L283.04,1508.0 L283.84,1507.8 L284.84,1507.2 L285.84,1506.2 L286.85,1504.8 L287.85,1503.2 L288.85,1501.2 L289.85,1499.0 L290.85,1496.6 L291.85,1494.0 L292.85,1491.3 L293.85,1488.4 L294.85,1485.5 L295.85,1482.4 L296.85,1479.4 L297.85,1476.4 L298.85,1473.4 L299.85,1470.4 L300.85,1467.6 L301.85,1464.9 L302.85,1462.4 L303.85,1460.1 L304.85,1458.0 L305.85,1456.1 L306.85,1454.6 L307.86,1453.4 L308.86,1452.5 L309.86,1452.1 L310.43,1452.0 L310.86,1452.0 L311.86,1452.0 L312.86,1452.0 L313.86,1452.0 L314.86,1452.0 L315.86,1452.0 L316.86,1452.0 L317.86,1452.0 L318.86,1452.0 L319.86,1452.0 L320.86,1452.0 L321.86,1452.0 L322.86,1452.0 L323.86,1452.0 L324.86,1452.0 L325.74,1452.0 L325.86,1452.0 L326.86,1451.9 L327.86,1451.8 L328.87,1451.5 L329.87,1451.2 L330.87,1450.9 L331.87,1450.4 L332.87,1450.0 L333.87,1449.5 L334.87,1449.1 L335.87,1448.6 L336.87,1448.1 L337.87,1447.7 L338.87,1447.3 L339.87,1447.0 L339.91,1447.0 L340.87,1446.7 L341.87,1446.5 L342.87,1446.2 L343.87,1446.0 L344.87,1445.7 L345.87,1445.5 L346.87,1445.2 L347.83,1445.0 L347.87,1445.0 L348.87,1444.7 L349.88,1444.5 L350.88,1444.3 L351.88,1444.0 L352.88,1443.8 L353.88,1443.6 L354.88,1443.3 L355.88,1443.1 L356.88,1442.9 L357.88,1442.6 L358.88,1442.4 L359.88,1442.2 L360.88,1442.0 L361.88,1441.7 L362.88,1441.5 L363.88,1441.3 L364.88,1441.1 L365.88,1440.8 L366.88,1440.6 L367.88,1440.4 L368.88,1440.2 L369.88,1439.9 L370.88,1439.7 L371.89,1439.5 L372.89,1439.3 L373.89,1439.0 L374.89,1438.8 L375.89,1438.6 L376.89,1438.3 L377.89,1438.1 L378.89,1437.8 L379.89,1437.6 L380.89,1437.3 L381.89,1437.1 L382.89,1436.8 L383.89,1436.6 L384.26,1436.5 L384.89,1436.3 L385.89,1436.1 L386.89,1435.8 L387.89,1435.6 L388.89,1435.3 L389.89,1435.0 L390.89,1434.7 L391.89,1434.5 L392.90,1434.2 L393.90,1433.9 L394.90,1433.6 L395.90,1433.4 L396.90,1433.1 L397.90,1432.8 L398.90,1432.5 L399.90,1432.2 L400.90,1432.0 L401.90,1431.7 L402.90,1431.4 L403.90,1431.1 L404.90,1430.8 L405.90,1430.5 L406.90,1430.2 L407.90,1429.9 L408.90,1429.6 L409.90,1429.3 L410.90,1429.0 L411.90,1428.7 L412.90,1428.4 L413.91,1428.1 L414.91,1427.8 L415.91,1427.5 L416.91,1427.2 L417.91,1426.9 L418.91,1426.6 L419.91,1426.3 L420.91,1426.0 L421.91,1425.7 L422.91,1425.4 L423.91,1425.1 L424.91,1424.8 L425.91,1424.5 L426.91,1424.2 L427.91,1423.9 L428.91,1423.6 L429.91,1423.3 L430.91,1423.0 L431.91,1422.7 L432.91,1422.4 L433.91,1422.1 L434.92,1421.8 L435.92,1421.5 L436.92,1421.2 L437.92,1420.9 L438.92,1420.6 L439.22,1420.5 L439.92,1420.3 L440.92,1420.0 L441.92,1419.7 L442.92,1419.4 L443.92,1419.1 L444.92,1418.8 L445.92,1418.5 L446.92,1418.2 L447.92,1417.9 L448.92,1417.6 L449.92,1417.3 L450.92,1417.0 L451.92,1416.7 L452.92,1416.4 L453.92,1416.1 L454.92,1415.8 L455.93,1415.5 L456.93,1415.1 L457.93,1414.8 L458.93,1414.5 L459.93,1414.2 L460.93,1413.9 L461.93,1413.6 L462.93,1413.3 L463.93,1413.0 L464.93,1412.7 L465.93,1412.4 L466.93,1412.1 L467.93,1411.8 L468.93,1411.5 L469.93,1411.1 L470.93,1410.8 L471.93,1410.5 L472.93,1410.2 L473.93,1409.9 L474.93,1409.6 L475.93,1409.3 L476.94,1409.0 L477.94,1408.7 L478.94,1408.4 L479.94,1408.1 L480.94,1407.7 L481.94,1407.4 L482.94,1407.1 L483.94,1406.8 L484.94,1406.5 L485.94,1406.2 L486.94,1405.9 L487.94,1405.6 L488.94,1405.3 L489.94,1405.0 L490.94,1404.7 L491.94,1404.4 L492.94,1404.1 L493.94,1403.7 L494.94,1403.4 L495.94,1403.1 L496.94,1402.8 L497.95,1402.5 L498.95,1402.2 L499.95,1401.9 L500.95,1401.6 L501.95,1401.3 L502.95,1401.0 L503.95,1400.7 L504.95,1400.4 L505.95,1400.1 L506.95,1399.8 L507.95,1399.5 L508.95,1399.2 L509.95,1398.9 L510.95,1398.6 L511.95,1398.3 L512.95,1398.0 L513.04,1398.0 L513.95,1397.7 L514.95,1397.4 L515.95,1397.1 L516.95,1396.9 L517.95,1396.6 L518.96,1396.3 L519.96,1396.0 L520.96,1395.7 L521.96,1395.4 L522.96,1395.1 L523.96,1394.8 L524.96,1394.5 L525.96,1394.2 L526.96,1394.0 L527.96,1393.7 L528.96,1393.4 L529.96,1393.1 L530.96,1392.8 L531.96,1392.5 L532.96,1392.2 L533.96,1392.0 L534.96,1391.7 L535.96,1391.4 L536.96,1391.1 L537.96,1390.8 L538.96,1390.5 L539.97,1390.3 L540.97,1390.0 L541.97,1389.7 L542.97,1389.4 L543.97,1389.1 L544.97,1388.8 L545.97,1388.6 L546.97,1388.3 L547.97,1388.0 L548.97,1387.7 L549.97,1387.4 L550.97,1387.1 L551.97,1386.8 L552.97,1386.6 L553.97,1386.3 L554.97,1386.0 L555.97,1385.7 L556.97,1385.4 L557.97,1385.1 L558.97,1384.9 L559.97,1384.6 L560.98,1384.3 L561.98,1384.0 L562.98,1383.7 L563.98,1383.4 L564.98,1383.1 L565.98,1382.8 L566.98,1382.5 L567.98,1382.3 L568.87,1382.0 L568.98,1382.0 L569.98,1381.7 L570.98,1381.4 L571.98,1381.1 L572.98,1380.8 L573.98,1380.5 L574.98,1380.2 L575.98,1379.9 L576.98,1379.6 L577.98,1379.4 L578.98,1379.1 L579.98,1378.8 L580.98,1378.5 L581.98,1378.2 L582.99,1377.9 L583.99,1377.6 L584.99,1377.3 L585.99,1377.0 L586.99,1376.7 L587.99,1376.4 L588.99,1376.1 L589.99,1375.8 L590.99,1375.6 L591.99,1375.3 L592.99,1375.0 L593.99,1374.7 L594.99,1374.4 L595.99,1374.1 L596.99,1373.8 L597.99,1373.5 L598.99,1373.2 L599.99,1372.9 L600.99,1372.6 L601.99,1372.3 L602.99,1372.0 L604.00,1371.7 L605.00,1371.4 L606.00,1371.1 L607.00,1370.8 L608.00,1370.5 L609.00,1370.2 L610.00,1369.9 L611.00,1369.6 L612.00,1369.3 L613.00,1369.1 L614.00,1368.8 L615.00,1368.5 L616.00,1368.2 L617.00,1367.9 L618.00,1367.6 L619.00,1367.3 L620.00,1366.9 L621.00,1366.6 L622.00,1366.3 L623.00,1366.0 L624.00,1365.7 L624.78,1365.5 L625.01,1365.4 L626.01,1365.1 L627.01,1364.8 L628.01,1364.5 L629.01,1364.2 L630.01,1363.9 L631.01,1363.6 L632.01,1363.2 L633.01,1362.9 L634.01,1362.6 L635.01,1362.3 L636.01,1362.0 L637.01,1361.6 L638.01,1361.3 L639.01,1361.0 L640.01,1360.7 L641.01,1360.3 L642.01,1360.0 L643.01,1359.7 L644.01,1359.4 L645.01,1359.0 L646.02,1358.7 L647.02,1358.4 L648.02,1358.0 L649.02,1357.7 L650.02,1357.4 L651.02,1357.0 L652.02,1356.7 L653.02,1356.4 L654.02,1356.1 L655.02,1355.7 L656.02,1355.4 L657.02,1355.1 L658.02,1354.8 L659.02,1354.4 L660.02,1354.1 L661.02,1353.8 L662.02,1353.5 L663.02,1353.2 L664.02,1352.9 L665.02,1352.5 L666.02,1352.2 L667.03,1351.9 L668.03,1351.6 L669.03,1351.3 L670.03,1351.0 L671.03,1350.7 L672.03,1350.4 L673.03,1350.1 L674.03,1349.8 L675.03,1349.5 L676.03,1349.3 L677.03,1349.0 L678.03,1348.7 L679.03,1348.4 L680.03,1348.2 L680.61,1348.0 L681.03,1347.9 L682.03,1347.6 L683.03,1347.4 L684.03,1347.1 L685.03,1346.8 L686.03,1346.6 L687.03,1346.3 L688.04,1346.1 L689.04,1345.8 L690.04,1345.6 L691.04,1345.3 L692.04,1345.1 L693.04,1344.8 L694.04,1344.6 L695.04,1344.3 L696.04,1344.1 L697.04,1343.8 L698.04,1343.6 L699.04,1343.3 L700.04,1343.1 L701.04,1342.9 L702.04,1342.6 L703.04,1342.4 L704.04,1342.2 L705.04,1341.9 L706.04,1341.7 L707.04,1341.5 L708.04,1341.2 L709.05,1341.0 L710.05,1340.8 L711.05,1340.5 L712.05,1340.3 L713.05,1340.1 L714.05,1339.9 L715.05,1339.6 L716.05,1339.4 L717.05,1339.2 L718.05,1339.0 L719.05,1338.8 L720.05,1338.5 L721.05,1338.3 L722.05,1338.1 L723.05,1337.9 L724.05,1337.7 L725.05,1337.4 L726.05,1337.2 L727.05,1337.0 L728.05,1336.8 L729.05,1336.6 L730.06,1336.4 L731.06,1336.2 L732.06,1335.9 L733.06,1335.7 L734.06,1335.5 L735.06,1335.3 L736.06,1335.1 L736.43,1335.0 L737.06,1334.9 L738.06,1334.7 L739.06,1334.4 L740.06,1334.2 L741.06,1334.0 L742.06,1333.8 L743.06,1333.6 L744.06,1333.4 L745.06,1333.2 L746.06,1333.0 L747.06,1332.7 L748.06,1332.5 L749.06,1332.3 L750.06,1332.1 L751.07,1331.9 L752.07,1331.7 L753.07,1331.5 L754.07,1331.3 L755.07,1331.1 L756.07,1330.9 L757.07,1330.6 L758.07,1330.4 L759.07,1330.2 L760.07,1330.0 L761.07,1329.8 L762.07,1329.6 L763.07,1329.4 L764.07,1329.2 L765.07,1329.0 L766.07,1328.8 L767.07,1328.6 L768.07,1328.4 L769.07,1328.2 L770.07,1328.0 L771.07,1327.8 L772.07,1327.6 L773.08,1327.5 L774.08,1327.3 L775.08,1327.1 L776.08,1326.9 L777.08,1326.7 L778.08,1326.5 L779.08,1326.3 L780.08,1326.1 L781.08,1326.0 L782.08,1325.8 L783.08,1325.6 L784.08,1325.4 L785.08,1325.2 L786.08,1325.1 L787.08,1324.9 L788.08,1324.7 L789.08,1324.5 L790.08,1324.4 L791.08,1324.2 L792.08,1324.0 L792.26,1324.0 L793.08,1323.9 L794.09,1323.7 L795.09,1323.5 L796.09,1323.3 L797.09,1323.2 L798.09,1323.0 L799.09,1322.8 L800.09,1322.6 L801.09,1322.4 L802.09,1322.2 L803.09,1322.0 L804.09,1321.9 L805.09,1321.7 L806.09,1321.5 L807.09,1321.3 L808.09,1321.1 L809.09,1320.9 L810.09,1320.7 L811.09,1320.5 L812.09,1320.3 L813.09,1320.1 L814.09,1319.9 L815.10,1319.8 L816.10,1319.6 L817.10,1319.4 L818.10,1319.2 L819.10,1319.0 L820.10,1318.9 L821.10,1318.7 L822.10,1318.5 L823.10,1318.4 L824.10,1318.2 L825.10,1318.0 L826.10,1317.9 L827.10,1317.7 L828.10,1317.6 L829.10,1317.4 L830.10,1317.3 L831.10,1317.2 L832.10,1317.1 L833.10,1316.9 L834.10,1316.8 L835.10,1316.7 L836.11,1316.6 L837.11,1316.5 L838.11,1316.4 L839.11,1316.4 L840.11,1316.3 L841.11,1316.2 L842.11,1316.2 L843.11,1316.1 L844.11,1316.1 L845.11,1316.0 L846.11,1316.0 L847.11,1316.0 L848.11,1316.0 L848.17,1316.0 L849.11,1316.0 L850.11,1316.0 L851.11,1316.0 L852.11,1316.0 L853.11,1316.0 L854.11,1316.0 L855.11,1316.0 L856.11,1316.0 L857.12,1316.0 L858.12,1316.0 L859.12,1316.0 L860.12,1316.0 L861.12,1316.0 L862.12,1316.0 L863.12,1316.0 L864.12,1316.0 L865.12,1316.0 L866.12,1316.0 L867.12,1316.0 L868.12,1316.0 L869.12,1316.0 L869.57,1316.0 L870.12,1316.0 L871.12,1316.0 L872.12,1316.0 L873.12,1316.1 L874.12,1316.1 L875.12,1316.2 L876.12,1316.2 L877.12,1316.3 L878.13,1316.4 L879.13,1316.5 L880.13,1316.6 L881.13,1316.7 L882.13,1316.8 L883.13,1316.9 L884.13,1317.0 L885.13,1317.1 L886.13,1317.3 L887.13,1317.4 L888.13,1317.5 L889.13,1317.7 L890.13,1317.8 L891.13,1318.0 L892.13,1318.1 L893.13,1318.3 L894.13,1318.5 L895.13,1318.6 L896.13,1318.8 L897.13,1318.9 L898.13,1319.1 L899.14,1319.3 L900.14,1319.4 L901.14,1319.6 L902.14,1319.7 L903.14,1319.9 L904.14,1320.1 L905.14,1320.2 L906.14,1320.4 L907.14,1320.5 L908.14,1320.6 L909.14,1320.8 L910.14,1320.9 L911.14,1321.0 L912.14,1321.1 L913.14,1321.3 L914.14,1321.4 L915.14,1321.5 L916.14,1321.6 L917.14,1321.6 L918.14,1321.7 L919.14,1321.8 L920.15,1321.9 L921.15,1321.9 L922.15,1321.9 L923.15,1322.0 L924.15,1322.0 L925.15,1322.0 L925.39,1322.0 L926.15,1322.0 L927.15,1322.0 L928.15,1322.0 L929.15,1321.9 L930.15,1321.9 L931.15,1321.8 L932.15,1321.8 L933.15,1321.7 L934.15,1321.6 L935.15,1321.5 L936.15,1321.4 L937.15,1321.3 L938.15,1321.2 L939.15,1321.1 L940.15,1321.0 L941.16,1320.8 L942.16,1320.7 L943.16,1320.6 L944.16,1320.4 L945.16,1320.3 L946.16,1320.1 L947.16,1320.0 L948.16,1319.8 L949.16,1319.7 L950.16,1319.5 L951.16,1319.4 L952.16,1319.2 L953.16,1319.0 L954.16,1318.9 L955.16,1318.7 L956.16,1318.5 L957.16,1318.4 L958.16,1318.2 L959.16,1318.1 L960.16,1317.9 L961.16,1317.8 L962.17,1317.6 L963.17,1317.5 L964.17,1317.3 L965.17,1317.2 L966.17,1317.1 L967.17,1317.0 L968.17,1316.8 L969.17,1316.7 L970.17,1316.6 L971.17,1316.5 L972.17,1316.4 L973.17,1316.3 L974.17,1316.3 L975.17,1316.2 L976.17,1316.1 L977.17,1316.1 L978.17,1316.1 L979.17,1316.0 L980.17,1316.0 L981.17,1316.0 L981.30,1316.0 L982.17,1316.0 L983.17,1316.0 L984.18,1316.0 L985.18,1316.0 L986.18,1316.1 L987.18,1316.1 L988.18,1316.1 L989.18,1316.1 L990.18,1316.2 L991.18,1316.2 L992.18,1316.3 L993.18,1316.3 L994.18,1316.4 L995.18,1316.4 L996.18,1316.5 L997.18,1316.5 L998.18,1316.6 L999.18,1316.7 L1000.18,1316.7 L1001.18,1316.8 L1002.18,1316.9 L1003.18,1317.0 L1004.18,1317.1 L1005.19,1317.1 L1006.19,1317.2 L1007.19,1317.3 L1008.19,1317.4 L1009.19,1317.5 L1010.19,1317.6 L1011.19,1317.7 L1012.19,1317.8 L1013.19,1317.9 L1014.19,1318.0 L1015.19,1318.1 L1016.19,1318.2 L1017.19,1318.3 L1018.19,1318.5 L1019.19,1318.6 L1020.19,1318.7 L1021.19,1318.8 L1022.19,1318.9 L1023.19,1319.0 L1024.19,1319.2 L1025.19,1319.3 L1026.20,1319.4 L1027.20,1319.5 L1028.20,1319.6 L1029.20,1319.7 L1030.20,1319.9 L1031.20,1320.0 L1032.20,1320.1 L1033.20,1320.2 L1034.20,1320.3 L1035.20,1320.5 L1036.20,1320.6 L1037.13,1320.7 L1037.20,1320.7 L1038.20,1320.8 L1039.20,1321.0 L1040.20,1321.1 L1041.20,1321.2 L1042.20,1321.4 L1043.20,1321.6 L1044.20,1321.7 L1045.20,1321.9 L1046.20,1322.1 L1047.21,1322.2 L1048.21,1322.4 L1049.21,1322.6 L1050.21,1322.8 L1051.21,1323.0 L1052.21,1323.2 L1053.21,1323.4 L1054.21,1323.6 L1055.21,1323.9 L1056.21,1324.1 L1057.21,1324.3 L1058.21,1324.5 L1059.21,1324.7 L1060.21,1325.0 L1061.21,1325.2 L1062.21,1325.4 L1063.21,1325.7 L1064.21,1325.9 L1065.21,1326.1 L1066.21,1326.4 L1067.21,1326.6 L1068.22,1326.8 L1069.22,1327.1 L1070.22,1327.3 L1071.22,1327.6 L1072.22,1327.8 L1073.22,1328.0 L1074.22,1328.3 L1075.22,1328.5 L1076.22,1328.7 L1077.22,1328.9 L1078.22,1329.2 L1079.22,1329.4 L1080.22,1329.6 L1081.22,1329.8 L1082.22,1330.0 L1083.22,1330.2 L1084.22,1330.4 L1085.22,1330.6 L1086.22,1330.8 L1087.22,1331.0 L1088.22,1331.2 L1089.23,1331.4 L1090.23,1331.6 L1091.23,1331.7 L1092.23,1331.9 L1092.96,1332.0 L1093.23,1332.0 L1094.23,1332.2 L1095.23,1332.3 L1096.23,1332.5 L1097.23,1332.6 L1098.23,1332.8 L1099.23,1332.9 L1100.23,1333.0 L1101.23,1333.2 L1102.23,1333.3 L1103.23,1333.4 L1104.23,1333.6 L1105.23,1333.7 L1106.23,1333.8 L1107.23,1333.9 L1108.23,1334.0 L1109.23,1334.2 L1110.24,1334.3 L1111.24,1334.4 L1112.24,1334.5 L1113.24,1334.6 L1114.24,1334.7 L1115.24,1334.8 L1116.24,1334.9 L1117.24,1335.0 L1118.24,1335.2 L1119.24,1335.3 L1120.24,1335.4 L1121.24,1335.5 L1122.24,1335.6 L1123.24,1335.7 L1124.24,1335.8 L1125.24,1335.9 L1126.24,1336.0 L1127.24,1336.1 L1128.24,1336.3 L1129.24,1336.4 L1130.24,1336.5 L1131.25,1336.6 L1132.25,1336.7 L1133.25,1336.8 L1134.25,1337.0 L1135.25,1337.1 L1136.25,1337.2 L1137.25,1337.3 L1138.25,1337.5 L1139.25,1337.6 L1140.25,1337.7 L1141.25,1337.9 L1142.25,1338.0 L1143.25,1338.2 L1144.25,1338.3 L1145.25,1338.4 L1146.25,1338.6 L1147.25,1338.8 L1148.25,1338.9 L1148.78,1339.0 L1149.25,1339.1 L1150.25,1339.2 L1151.25,1339.4 L1152.26,1339.6 L1153.26,1339.8 L1154.26,1340.0 L1155.26,1340.2 L1156.26,1340.4 L1157.26,1340.6 L1158.26,1340.8 L1159.26,1341.0 L1160.26,1341.2 L1161.26,1341.4 L1162.26,1341.6 L1163.26,1341.8 L1164.26,1342.1 L1165.26,1342.3 L1166.26,1342.5 L1167.26,1342.7 L1168.26,1343.0 L1169.26,1343.2 L1170.26,1343.5 L1171.26,1343.7 L1172.26,1343.9 L1173.27,1344.2 L1174.27,1344.4 L1175.27,1344.7 L1176.27,1344.9 L1177.27,1345.2 L1178.27,1345.4 L1179.27,1345.7 L1180.27,1346.0 L1181.27,1346.2 L1182.27,1346.5 L1183.27,1346.7 L1184.27,1347.0 L1185.27,1347.2 L1186.27,1347.5 L1187.27,1347.7 L1188.27,1348.0 L1189.27,1348.3 L1190.27,1348.5 L1191.27,1348.8 L1192.27,1349.0 L1193.27,1349.3 L1194.27,1349.5 L1195.28,1349.8 L1196.28,1350.0 L1197.28,1350.3 L1198.28,1350.5 L1199.28,1350.7 L1200.28,1351.0 L1201.28,1351.2 L1202.28,1351.4 L1203.28,1351.7 L1204.28,1351.9 L1204.70,1352.0 L1205.28,1352.1 L1206.28,1352.4 L1207.28,1352.6 L1208.28,1352.8 L1209.28,1353.0 L1210.28,1353.3 L1211.28,1353.5 L1212.28,1353.7 L1213.28,1353.9 L1214.28,1354.2 L1215.28,1354.4 L1216.29,1354.6 L1217.29,1354.8 L1218.29,1355.1 L1219.29,1355.3 L1220.29,1355.5 L1221.29,1355.7 L1222.29,1356.0 L1223.29,1356.2 L1224.29,1356.4 L1225.29,1356.6 L1226.29,1356.8 L1227.29,1357.1 L1228.29,1357.3 L1229.29,1357.5 L1230.29,1357.7 L1231.29,1358.0 L1232.29,1358.2 L1233.29,1358.4 L1234.29,1358.6 L1235.29,1358.8 L1236.29,1359.1 L1237.30,1359.3 L1238.30,1359.5 L1239.30,1359.7 L1240.30,1360.0 L1241.30,1360.2 L1242.30,1360.4 L1243.30,1360.6 L1244.30,1360.8 L1245.30,1361.1 L1246.30,1361.3 L1247.30,1361.5 L1248.30,1361.7 L1249.30,1361.9 L1250.30,1362.2 L1251.30,1362.4 L1252.30,1362.6 L1253.30,1362.8 L1254.30,1363.0 L1255.30,1363.3 L1256.30,1363.5 L1257.30,1363.7 L1258.31,1363.9 L1259.31,1364.1 L1260.31,1364.3 L1261.31,1364.6 L1262.31,1364.8 L1263.31,1365.0 L1264.31,1365.2 L1265.31,1365.4 L1266.31,1365.6 L1267.31,1365.9 L1268.31,1366.1 L1269.31,1366.3 L1270.31,1366.5 L1271.31,1366.7 L1272.31,1366.9 L1273.31,1367.2 L1274.31,1367.4 L1275.31,1367.6 L1276.31,1367.8 L1277.31,1368.0 L1278.31,1368.2 L1279.32,1368.5 L1280.32,1368.7 L1281.32,1368.9 L1282.32,1369.1 L1283.32,1369.3 L1284.32,1369.5 L1285.32,1369.7 L1286.32,1370.0 L1287.32,1370.2 L1288.32,1370.4 L1289.32,1370.6 L1290.32,1370.8 L1291.32,1371.0 L1292.32,1371.2 L1293.32,1371.4 L1294.32,1371.7 L1295.32,1371.9 L1296.32,1372.1 L1297.32,1372.3 L1298.32,1372.5 L1299.32,1372.7 L1300.33,1372.9 L1300.70,1373.0 L1301.33,1373.1 L1302.33,1373.3 L1303.33,1373.6 L1304.33,1373.8 L1305.33,1374.0 L1306.33,1374.2 L1307.33,1374.4 L1308.33,1374.6 L1309.33,1374.8 L1310.33,1375.0 L1311.33,1375.2 L1312.33,1375.4 L1313.33,1375.7 L1314.33,1375.9 L1315.33,1376.1 L1316.33,1376.3 L1317.33,1376.5 L1318.33,1376.7 L1319.33,1376.9 L1320.33,1377.1 L1321.34,1377.3 L1322.34,1377.5 L1323.34,1377.7 L1324.34,1377.9 L1325.34,1378.2 L1326.34,1378.4 L1327.34,1378.6 L1328.34,1378.8 L1329.34,1379.0 L1330.34,1379.2 L1331.34,1379.4 L1332.34,1379.6 L1333.34,1379.8 L1334.34,1380.0 L1335.34,1380.2 L1336.34,1380.4 L1337.34,1380.6 L1338.34,1380.8 L1339.34,1381.0 L1340.34,1381.3 L1341.34,1381.5 L1342.35,1381.7 L1343.35,1381.9 L1344.35,1382.1 L1345.35,1382.3 L1346.35,1382.5 L1347.35,1382.7 L1348.35,1382.9 L1349.35,1383.1 L1350.35,1383.3 L1351.35,1383.5 L1352.35,1383.7 L1353.35,1383.9 L1354.35,1384.1 L1355.35,1384.3 L1356.35,1384.5 L1357.35,1384.7 L1358.35,1384.9 L1359.35,1385.1 L1360.35,1385.3 L1361.35,1385.5 L1362.35,1385.7 L1363.36,1385.9 L1364.36,1386.1 L1365.36,1386.3 L1366.36,1386.5 L1367.36,1386.7 L1368.36,1386.9 L1369.36,1387.1 L1370.36,1387.3 L1371.36,1387.5 L1372.36,1387.7 L1373.36,1387.9 L1374.36,1388.1 L1375.36,1388.3 L1376.36,1388.5 L1377.36,1388.7 L1378.36,1388.9 L1379.36,1389.1 L1380.36,1389.3 L1381.36,1389.5 L1382.36,1389.7 L1383.36,1389.9 L1384.09,1390.0 L1384.37,1390.1 L1385.37,1390.2 L1386.37,1390.4 L1387.37,1390.6 L1388.37,1390.8 L1389.37,1391.0 L1390.37,1391.2 L1391.37,1391.4 L1392.37,1391.6 L1393.37,1391.8 L1394.37,1392.0 L1395.37,1392.2 L1396.37,1392.3 L1397.37,1392.5 L1398.37,1392.7 L1399.37,1392.9 L1400.37,1393.1 L1401.37,1393.3 L1402.37,1393.5 L1403.37,1393.6 L1404.37,1393.8 L1405.37,1394.0 L1406.38,1394.2 L1407.38,1394.4 L1408.38,1394.6 L1409.38,1394.7 L1410.38,1394.9 L1411.38,1395.1 L1412.38,1395.3 L1413.38,1395.5 L1414.38,1395.7 L1415.38,1395.8 L1416.38,1396.0 L1417.38,1396.2 L1418.38,1396.4 L1419.38,1396.6 L1420.38,1396.8 L1421.38,1396.9 L1422.38,1397.1 L1423.38,1397.3 L1424.38,1397.5 L1425.38,1397.7 L1426.38,1397.8 L1427.39,1398.0 L1428.39,1398.2 L1429.39,1398.4 L1430.39,1398.6 L1431.39,1398.7 L1432.39,1398.9 L1433.39,1399.1 L1434.39,1399.3 L1435.39,1399.5 L1436.39,1399.7 L1437.39,1399.8 L1438.39,1400.0 L1439.39,1400.2 L1440.39,1400.4 L1441.39,1400.6 L1442.39,1400.8 L1443.39,1400.9 L1444.39,1401.1 L1445.39,1401.3 L1446.39,1401.5 L1447.39,1401.7 L1448.40,1401.9 L1449.40,1402.1 L1450.40,1402.2 L1451.40,1402.4 L1452.40,1402.6 L1453.40,1402.8 L1454.40,1403.0 L1455.40,1403.2 L1456.40,1403.4 L1457.40,1403.6 L1458.40,1403.8 L1459.40,1403.9 L1460.40,1404.1 L1461.40,1404.3 L1462.40,1404.5 L1463.40,1404.7 L1464.40,1404.9 L1465.40,1405.1 L1466.40,1405.3 L1467.39,1405.5 L1467.40,1405.5 L1468.40,1405.7 L1469.41,1405.9 L1470.41,1406.1 L1471.41,1406.3 L1472.41,1406.5 L1473.41,1406.7 L1474.41,1406.9 L1475.41,1407.1 L1476.41,1407.3 L1477.41,1407.5 L1478.41,1407.7 L1479.41,1407.9 L1480.41,1408.1 L1481.41,1408.3 L1482.41,1408.5 L1483.41,1408.7 L1484.41,1408.9 L1485.41,1409.1 L1486.41,1409.3 L1487.41,1409.5 L1488.41,1409.8 L1489.41,1410.0 L1490.42,1410.2 L1491.42,1410.4 L1492.42,1410.6 L1493.42,1410.8 L1494.42,1411.0 L1495.42,1411.2 L1496.42,1411.4 L1497.42,1411.6 L1498.42,1411.8 L1499.42,1412.0 L1500.42,1412.3 L1501.42,1412.5 L1502.42,1412.7 L1503.42,1412.9 L1504.42,1413.1 L1505.42,1413.3 L1506.42,1413.5 L1507.42,1413.7 L1508.42,1413.9 L1509.42,1414.2 L1510.42,1414.4 L1511.43,1414.6 L1512.43,1414.8 L1513.43,1415.0 L1514.43,1415.2 L1515.43,1415.4 L1516.43,1415.7 L1517.43,1415.9 L1518.43,1416.1 L1519.43,1416.3 L1520.43,1416.5 L1521.43,1416.7 L1522.43,1416.9 L1523.43,1417.2 L1524.43,1417.4 L1525.43,1417.6 L1526.43,1417.8 L1527.43,1418.0 L1528.43,1418.2 L1529.43,1418.4 L1530.43,1418.7 L1531.43,1418.9 L1532.44,1419.1 L1533.44,1419.3 L1534.44,1419.5 L1535.44,1419.7 L1536.44,1419.9 L1537.44,1420.2 L1538.44,1420.4 L1539.44,1420.6 L1540.44,1420.8 L1541.44,1421.0 L1542.44,1421.2 L1543.44,1421.4 L1544.44,1421.7 L1545.44,1421.9 L1546.44,1422.1 L1547.44,1422.3 L1548.44,1422.5 L1549.44,1422.7 L1550.44,1422.9 L1550.70,1423.0 L1551.44,1423.2 L1552.44,1423.4 L1553.45,1423.6 L1554.45,1423.8 L1555.45,1424.0 L1556.45,1424.2 L1557.45,1424.4 L1558.45,1424.7 L1559.45,1424.9 L1560.45,1425.1 L1561.45,1425.3 L1562.45,1425.5 L1563.45,1425.7 L1564.45,1426.0 L1565.45,1426.2 L1566.45,1426.4 L1567.45,1426.6 L1568.45,1426.8 L1569.45,1427.0 L1570.45,1427.3 L1571.45,1427.5 L1572.45,1427.7 L1573.45,1427.9 L1574.46,1428.1 L1575.46,1428.3 L1576.46,1428.6 L1577.46,1428.8 L1578.46,1429.0 L1579.46,1429.2 L1580.46,1429.4 L1581.46,1429.6 L1582.46,1429.9 L1583.46,1430.1 L1584.46,1430.3 L1585.46,1430.5 L1586.46,1430.7 L1587.46,1431.0 L1588.46,1431.2 L1589.46,1431.4 L1590.46,1431.6 L1591.46,1431.8 L1592.46,1432.0 L1593.46,1432.3 L1594.46,1432.5 L1595.46,1432.7 L1596.47,1432.9 L1597.47,1433.1 L1598.47,1433.3 L1599.47,1433.6 L1600.47,1433.8 L1601.47,1434.0 L1602.47,1434.2 L1603.47,1434.4 L1604.47,1434.6 L1605.47,1434.9 L1606.09,1435.0 L1606.47,1435.1 L1607.47,1435.3 L1608.47,1435.5 L1609.47,1435.7 L1610.47,1435.9 L1611.47,1436.2 L1612.47,1436.4 L1613.47,1436.6 L1614.47,1436.8 L1615.47,1437.0 L1616.47,1437.2 L1617.48,1437.5 L1618.48,1437.7 L1619.48,1437.9 L1620.48,1438.1 L1621.48,1438.3 L1622.48,1438.6 L1623.48,1438.8" stroke="#eb0000" stroke-width="27"/>
<polygon points="230.43,1505.0 231.30,1490.0 232.17,1484.0 237.04,1478.1 251.22,1478.1 258.35,1487.1 260.87,1497.0 260.87,1505.0" fill="#eb0000" stroke="none"/>
<path d="M513.04,1398.0 L514.04,1397.7 L515.04,1397.4 L516.04,1397.1 L517.05,1396.9 L518.05,1396.6 L519.05,1396.3 L520.05,1396.0 L521.05,1395.7 L522.05,1395.4 L523.05,1395.1 L524.05,1394.9 L525.05,1394.6 L526.05,1394.3 L527.05,1394.0 L528.05,1393.7 L529.05,1393.4 L530.05,1393.1 L531.05,1392.9 L532.05,1392.6 L533.05,1392.3 L534.05,1392.0 L535.05,1391.7 L536.05,1391.4 L537.05,1391.1 L538.05,1390.9 L539.05,1390.6 L540.05,1390.3 L541.05,1390.0 L542.05,1389.7 L543.06,1389.4 L544.06,1389.1 L545.06,1388.9 L546.06,1388.6 L547.06,1388.3 L548.06,1388.0 L549.06,1387.7 L550.06,1387.4 L551.06,1387.1 L552.06,1386.9 L553.06,1386.6 L554.06,1386.3 L555.06,1386.0 L556.06,1385.7 L557.06,1385.4 L558.06,1385.1 L559.06,1384.8 L560.06,1384.6 L561.06,1384.3 L562.06,1384.0 L563.06,1383.7 L564.06,1383.4 L565.06,1383.1 L566.06,1382.8 L567.06,1382.5 L568.07,1382.2 L568.87,1382.0 L569.07,1381.9 L570.07,1381.7 L571.07,1381.4 L572.07,1381.1 L573.07,1380.8 L574.07,1380.5 L575.07,1380.2 L576.07,1379.9 L577.07,1379.6 L578.07,1379.3 L579.07,1379.0 L580.07,1378.7 L581.07,1378.5 L582.07,1378.2 L583.07,1377.9 L584.07,1377.6 L585.07,1377.3 L586.07,1377.0 L587.07,1376.7 L588.07,1376.4 L589.07,1376.1 L590.07,1375.8 L591.07,1375.5 L592.07,1375.2 L593.07,1374.9 L594.08,1374.6 L595.08,1374.4 L596.08,1374.1 L597.08,1373.8 L598.08,1373.5 L599.08,1373.2 L600.08,1372.9 L601.08,1372.6 L602.08,1372.3 L603.08,1372.0 L604.08,1371.7 L605.08,1371.4 L606.08,1371.1 L607.08,1370.8 L608.08,1370.5 L609.08,1370.2 L610.08,1369.9 L611.08,1369.6 L612.08,1369.3 L613.08,1369.0 L614.08,1368.7 L615.08,1368.4 L616.08,1368.1 L617.08,1367.8 L618.08,1367.5 L619.08,1367.2 L620.09,1366.9 L621.09,1366.6 L622.09,1366.3 L623.09,1366.0 L624.09,1365.7 L624.78,1365.5 L625.09,1365.4 L626.09,1365.1 L627.09,1364.8 L628.09,1364.5 L629.09,1364.2 L630.09,1363.9 L631.09,1363.5 L632.09,1363.2 L633.09,1362.9 L634.09,1362.6 L635.09,1362.3 L636.09,1361.9 L637.09,1361.6 L638.09,1361.3 L639.09,1361.0 L640.09,1360.6 L641.09,1360.3 L642.09,1360.0 L643.09,1359.7 L644.09,1359.3 L645.10,1359.0 L646.10,1358.7 L647.10,1358.3 L648.10,1358.0 L649.10,1357.7 L650.10,1357.3 L651.10,1357.0 L652.10,1356.7 L653.10,1356.4 L654.10,1356.0 L655.10,1355.7 L656.10,1355.4 L657.10,1355.1 L658.10,1354.7 L659.10,1354.4 L660.10,1354.1 L661.10,1353.8 L662.10,1353.5 L663.10,1353.1 L664.10,1352.8 L665.10,1352.5 L666.10,1352.2 L667.10,1351.9 L668.10,1351.6 L669.10,1351.3 L670.10,1351.0 L671.11,1350.7 L672.11,1350.4 L673.11,1350.1 L674.11,1349.8 L675.11,1349.5 L676.11,1349.2 L677.11,1349.0 L678.11,1348.7 L679.11,1348.4 L680.11,1348.1 L680.61,1348.0 L681.11,1347.9 L682.11,1347.6 L683.11,1347.3 L684.11,1347.1 L685.11,1346.8 L686.11,1346.6 L687.11,1346.3 L688.11,1346.0 L689.11,1345.8 L690.11,1345.5 L691.11,1345.3 L692.11,1345.0 L693.11,1344.8 L694.11,1344.5 L695.11,1344.3 L696.12,1344.0 L697.12,1343.8 L698.12,1343.6 L699.12,1343.3 L700.12,1343.1 L701.12,1342.8 L702.12,1342.6 L703.12,1342.4 L704.12,1342.1 L705.12,1341.9 L706.12,1341.7 L707.12,1341.4 L708.12,1341.2 L709.12,1341.0 L710.12,1340.8 L711.12,1340.5 L712.12,1340.3 L713.12,1340.1 L714.12,1339.9 L715.12,1339.6 L716.12,1339.4 L717.12,1339.2 L718.12,1339.0 L719.12,1338.7 L720.12,1338.5 L721.12,1338.3 L722.13,1338.1 L723.13,1337.9 L724.13,1337.6 L725.13,1337.4 L726.13,1337.2 L727.13,1337.0 L728.13,1336.8 L729.13,1336.6 L730.13,1336.4 L731.13,1336.1 L732.13,1335.9 L733.13,1335.7 L734.13,1335.5 L735.13,1335.3 L736.13,1335.1 L736.43,1335.0 L737.13,1334.9 L738.13,1334.6 L739.13,1334.4 L740.13,1334.2 L741.13,1334.0 L742.13,1333.8 L743.13,1333.6 L744.13,1333.4 L745.13,1333.1 L746.13,1332.9 L747.14,1332.7 L748.14,1332.5 L749.14,1332.3 L750.14,1332.1 L751.14,1331.9 L752.14,1331.7 L753.14,1331.5 L754.14,1331.3 L755.14,1331.0 L756.14,1330.8 L757.14,1330.6 L758.14,1330.4 L759.14,1330.2 L760.14,1330.0 L761.14,1329.8 L762.14,1329.6 L763.14,1329.4 L764.14,1329.2 L765.14,1329.0 L766.14,1328.8 L767.14,1328.6 L768.14,1328.4 L769.14,1328.2 L770.14,1328.0 L771.14,1327.8 L772.14,1327.6 L773.15,1327.4 L774.15,1327.2 L775.15,1327.1 L776.15,1326.9 L777.15,1326.7 L778.15,1326.5 L779.15,1326.3 L780.15,1326.1 L781.15,1325.9 L782.15,1325.8 L783.15,1325.6 L784.15,1325.4 L785.15,1325.2 L786.15,1325.0 L787.15,1324.9 L788.15,1324.7 L789.15,1324.5 L790.15,1324.4 L791.15,1324.2 L792.15,1324.0 L792.26,1324.0 L793.15,1323.9 L794.15,1323.7 L795.15,1323.5 L796.15,1323.3 L797.15,1323.2 L798.16,1323.0 L799.16,1322.8 L800.16,1322.6 L801.16,1322.4 L802.16,1322.2 L803.16,1322.0 L804.16,1321.8 L805.16,1321.7 L806.16,1321.5 L807.16,1321.3 L808.16,1321.1 L809.16,1320.9 L810.16,1320.7 L811.16,1320.5 L812.16,1320.3 L813.16,1320.1 L814.16,1319.9 L815.16,1319.8 L816.16,1319.6 L817.16,1319.4 L818.16,1319.2 L819.16,1319.0 L820.16,1318.9 L821.16,1318.7 L822.16,1318.5 L823.16,1318.3 L824.17,1318.2 L825.17,1318.0 L826.17,1317.9 L827.17,1317.7 L828.17,1317.6 L829.17,1317.4 L830.17,1317.3 L831.17,1317.2 L832.17,1317.0 L833.17,1316.9 L834.17,1316.8 L835.17,1316.7 L836.17,1316.6 L837.17,1316.5 L838.17,1316.4 L839.17,1316.4 L840.17,1316.3 L841.17,1316.2 L842.17,1316.2 L843.17,1316.1 L844.17,1316.1 L845.17,1316.0 L846.17,1316.0 L847.17,1316.0 L848.17,1316.0 L849.18,1316.0 L850.18,1316.0 L851.18,1316.0 L852.18,1316.0 L853.18,1316.0 L854.18,1316.0 L855.18,1316.0 L856.18,1316.0 L857.18,1316.0 L858.18,1316.0 L859.18,1316.0 L860.18,1316.0 L861.18,1316.0 L862.18,1316.0 L863.18,1316.0 L864.18,1316.0 L865.18,1316.0 L866.18,1316.0 L867.18,1316.0 L868.18,1316.0 L869.18,1316.0 L869.57,1316.0 L870.18,1316.0 L871.18,1316.0 L872.18,1316.0 L873.18,1316.1 L874.18,1316.1 L875.19,1316.2 L876.19,1316.2 L877.19,1316.3 L878.19,1316.4 L879.19,1316.5 L880.19,1316.6 L881.19,1316.7 L882.19,1316.8 L883.19,1316.9 L884.19,1317.0 L885.19,1317.1 L886.19,1317.3 L887.19,1317.4 L888.19,1317.6 L889.19,1317.7 L890.19,1317.9 L891.19,1318.0 L892.19,1318.2 L893.19,1318.3 L894.19,1318.5 L895.19,1318.6 L896.19,1318.8 L897.19,1319.0 L898.19,1319.1 L899.19,1319.3 L900.20,1319.4 L901.20,1319.6 L902.20,1319.8 L903.20,1319.9 L904.20,1320.1 L905.20,1320.2 L906.20,1320.4 L907.20,1320.5 L908.20,1320.6 L909.20,1320.8 L910.20,1320.9 L911.20,1321.0 L912.20,1321.2 L913.20,1321.3 L914.20,1321.4 L915.20,1321.5 L916.20,1321.6 L917.20,1321.7 L918.20,1321.7 L919.20,1321.8 L920.20,1321.9 L921.20,1321.9 L922.20,1321.9 L923.20,1322.0 L924.20,1322.0 L925.20,1322.0 L925.39,1322.0 L926.21,1322.0 L927.21,1322.0 L928.21,1322.0 L929.21,1321.9 L930.21,1321.9 L931.21,1321.8 L932.21,1321.8 L933.21,1321.7 L934.21,1321.6 L935.21,1321.5 L936.21,1321.4 L937.21,1321.3 L938.21,1321.2 L939.21,1321.1 L940.21,1321.0 L941.21,1320.8 L942.21,1320.7 L943.21,1320.6 L944.21,1320.4 L945.21,1320.3 L946.21,1320.1 L947.21,1320.0 L948.21,1319.8 L949.21,1319.7 L950.21,1319.5 L951.22,1319.3 L952.22,1319.2 L953.22,1319.0 L954.22,1318.9 L955.22,1318.7 L956.22,1318.5 L957.22,1318.4 L958.22,1318.2 L959.22,1318.1 L960.22,1317.9 L961.22,1317.8 L962.22,1317.6 L963.22,1317.5 L964.22,1317.3 L965.22,1317.2 L966.22,1317.1 L967.22,1317.0 L968.22,1316.8 L969.22,1316.7 L970.22,1316.6 L971.22,1316.5 L972.22,1316.4 L973.22,1316.3 L974.22,1316.3 L975.22,1316.2 L976.22,1316.1 L977.23,1316.1 L978.23,1316.1 L979.23,1316.0 L980.23,1316.0 L981.23,1316.0 L981.30,1316.0 L982.23,1316.0 L983.23,1316.0 L984.23,1316.0 L985.23,1316.0 L986.23,1316.1 L987.23,1316.1 L988.23,1316.1 L989.23,1316.1 L990.23,1316.2 L991.23,1316.2 L992.23,1316.3 L993.23,1316.3 L994.23,1316.4 L995.23,1316.4 L996.23,1316.5 L997.23,1316.5 L998.23,1316.6 L999.23,1316.7 L1000.23,1316.7 L1001.23,1316.8 L1002.24,1316.9 L1003.24,1317.0 L1004.24,1317.1 L1005.24,1317.2 L1006.24,1317.2 L1007.24,1317.3 L1008.24,1317.4 L1009.24,1317.5 L1010.24,1317.6 L1011.24,1317.7 L1012.24,1317.8 L1013.24,1317.9 L1014.24,1318.0 L1015.24,1318.1 L1016.24,1318.2 L1017.24,1318.4 L1018.24,1318.5 L1019.24,1318.6 L1020.24,1318.7 L1021.24,1318.8 L1022.24,1318.9 L1023.24,1319.0 L1024.24,1319.2 L1025.24,1319.3 L1026.24,1319.4 L1027.24,1319.5 L1028.25,1319.6 L1029.25,1319.8 L1030.25,1319.9 L1031.25,1320.0 L1032.25,1320.1 L1033.25,1320.2 L1034.25,1320.4 L1035.25,1320.5 L1036.25,1320.6 L1037.13,1320.7 L1037.25,1320.7 L1038.25,1320.8 L1039.25,1321.0 L1040.25,1321.1 L1041.25,1321.3 L1042.25,1321.4 L1043.25,1321.6 L1044.25,1321.7 L1045.25,1321.9 L1046.25,1322.1 L1047.25,1322.3 L1048.25,1322.4 L1049.25,1322.6 L1050.25,1322.8 L1051.25,1323.0 L1052.25,1323.2 L1053.25,1323.4 L1054.26,1323.7 L1055.26,1323.9 L1056.26,1324.1 L1057.26,1324.3 L1058.26,1324.5 L1059.26,1324.8 L1060.26,1325.0 L1061.26,1325.2 L1062.26,1325.4 L1063.26,1325.7 L1064.26,1325.9 L1065.26,1326.2 L1066.26,1326.4 L1067.26,1326.6 L1068.26,1326.9 L1069.26,1327.1 L1070.26,1327.3 L1071.26,1327.6 L1072.26,1327.8 L1073.26,1328.0 L1074.26,1328.3 L1075.26,1328.5 L1076.26,1328.7 L1077.26,1328.9 L1078.26,1329.2 L1079.27,1329.4 L1080.27,1329.6 L1081.27,1329.8 L1082.27,1330.0 L1083.27,1330.2 L1084.27,1330.4 L1085.27,1330.6 L1086.27,1330.8 L1087.27,1331.0 L1088.27,1331.2 L1089.27,1331.4 L1090.27,1331.6 L1091.27,1331.7 L1092.27,1331.9 L1092.96,1332.0 L1093.27,1332.0 L1094.27,1332.2 L1095.27,1332.3 L1096.27,1332.5 L1097.27,1332.6 L1098.27,1332.8 L1099.27,1332.9 L1100.27,1333.0 L1101.27,1333.2 L1102.27,1333.3 L1103.27,1333.4 L1104.27,1333.6 L1105.28,1333.7 L1106.28,1333.8 L1107.28,1333.9 L1108.28,1334.0 L1109.28,1334.2 L1110.28,1334.3 L1111.28,1334.4 L1112.28,1334.5 L1113.28,1334.6 L1114.28,1334.7 L1115.28,1334.8 L1116.28,1334.9 L1117.28,1335.1 L1118.28,1335.2 L1119.28,1335.3 L1120.28,1335.4 L1121.28,1335.5 L1122.28,1335.6 L1123.28,1335.7 L1124.28,1335.8 L1125.28,1335.9 L1126.28,1336.0 L1127.28,1336.1 L1128.28,1336.3 L1129.28,1336.4 L1130.29,1336.5 L1131.29,1336.6 L1132.29,1336.7 L1133.29,1336.8 L1134.29,1337.0 L1135.29,1337.1 L1136.29,1337.2 L1137.29,1337.3 L1138.29,1337.5 L1139.29,1337.6 L1140.29,1337.7 L1141.29,1337.9 L1142.29,1338.0 L1143.29,1338.2 L1144.29,1338.3 L1145.29,1338.5 L1146.29,1338.6 L1147.29,1338.8 L1148.29,1338.9 L1148.78,1339.0 L1149.29,1339.1 L1150.29,1339.3 L1151.29,1339.4 L1152.29,1339.6 L1153.29,1339.8 L1154.29,1340.0 L1155.29,1340.2 L1156.30,1340.4 L1157.30,1340.6 L1158.30,1340.8 L1159.30,1341.0 L1160.30,1341.2 L1161.30,1341.4 L1162.30,1341.6 L1163.30,1341.8 L1164.30,1342.1 L1165.30,1342.3 L1166.30,1342.5 L1167.30,1342.8 L1168.30,1343.0 L1169.30,1343.2 L1170.30,1343.5 L1171.30,1343.7 L1172.30,1344.0 L1173.30,1344.2 L1174.30,1344.4 L1175.30,1344.7 L1176.30,1344.9 L1177.30,1345.2 L1178.30,1345.5 L1179.30,1345.7 L1180.30,1346.0 L1181.31,1346.2 L1182.31,1346.5 L1183.31,1346.7 L1184.31,1347.0 L1185.31,1347.2 L1186.31,1347.5 L1187.31,1347.8 L1188.31,1348.0 L1189.31,1348.3 L1190.31,1348.5 L1191.31,1348.8 L1192.31,1349.0 L1193.31,1349.3 L1194.31,1349.5 L1195.31,1349.8 L1196.31,1350.0 L1197.31,1350.3 L1198.31,1350.5 L1199.31,1350.7 L1200.31,1351.0 L1201.31,1351.2 L1202.31,1351.5 L1203.31,1351.7 L1204.31,1351.9 L1204.70,1352.0 L1205.31,1352.1 L1206.31,1352.4 L1207.32,1352.6 L1208.32,1352.8 L1209.32,1353.0 L1210.32,1353.3 L1211.32,1353.5 L1212.32,1353.7 L1213.32,1353.9 L1214.32,1354.2 L1215.32,1354.4 L1216.32,1354.6 L1217.32,1354.8 L1218.32,1355.1 L1219.32,1355.3 L1220.32,1355.5 L1221.32,1355.7 L1222.32,1356.0 L1223.32,1356.2 L1224.32,1356.4 L1225.32,1356.6 L1226.32,1356.9 L1227.32,1357.1 L1228.32,1357.3 L1229.32,1357.5 L1230.32,1357.7 L1231.32,1358.0 L1232.33,1358.2 L1233.33,1358.4 L1234.33,1358.6 L1235.33,1358.9 L1236.33,1359.1 L1237.33,1359.3 L1238.33,1359.5 L1239.33,1359.7 L1240.33,1360.0 L1241.33,1360.2 L1242.33,1360.4 L1243.33,1360.6 L1244.33,1360.8 L1245.33,1361.1 L1246.33,1361.3 L1247.33,1361.5 L1248.33,1361.7 L1249.33,1361.9 L1250.33,1362.2 L1251.33,1362.4 L1252.33,1362.6 L1253.33,1362.8 L1254.33,1363.0 L1255.33,1363.3 L1256.33,1363.5 L1257.33,1363.7 L1258.34,1363.9 L1259.34,1364.1 L1260.34,1364.4 L1261.34,1364.6 L1262.34,1364.8 L1263.34,1365.0 L1264.34,1365.2 L1265.34,1365.4 L1266.34,1365.7 L1267.34,1365.9 L1268.34,1366.1 L1269.34,1366.3 L1270.34,1366.5 L1271.34,1366.7 L1272.34,1367.0 L1273.34,1367.2 L1274.34,1367.4 L1275.34,1367.6 L1276.34,1367.8 L1277.34,1368.0 L1278.34,1368.2 L1279.34,1368.5 L1280.34,1368.7 L1281.34,1368.9 L1282.34,1369.1 L1283.35,1369.3 L1284.35,1369.5 L1285.35,1369.7 L1286.35,1370.0 L1287.35,1370.2 L1288.35,1370.4 L1289.35,1370.6 L1290.35,1370.8 L1291.35,1371.0 L1292.35,1371.2 L1293.35,1371.4 L1294.35,1371.7 L1295.35,1371.9 L1296.35,1372.1 L1297.35,1372.3 L1298.35,1372.5 L1299.35,1372.7 L1300.35,1372.9 L1300.70,1373.0 L1301.35,1373.1 L1302.35,1373.3 L1303.35,1373.6 L1304.35,1373.8 L1305.35,1374.0 L1306.35,1374.2 L1307.35,1374.4 L1308.35,1374.6 L1309.36,1374.8 L1310.36,1375.0 L1311.36,1375.2 L1312.36,1375.5 L1313.36,1375.7 L1314.36,1375.9 L1315.36,1376.1 L1316.36,1376.3 L1317.36,1376.5 L1318.36,1376.7 L1319.36,1376.9 L1320.36,1377.1 L1321.36,1377.3 L1322.36,1377.5 L1323.36,1377.7 L1324.36,1378.0 L1325.36,1378.2 L1326.36,1378.4 L1327.36,1378.6 L1328.36,1378.8 L1329.36,1379.0 L1330.36,1379.2 L1331.36,1379.4 L1332.36,1379.6 L1333.36,1379.8 L1334.37,1380.0 L1335.37,1380.2 L1336.37,1380.4 L1337.37,1380.6 L1338.37,1380.8 L1339.37,1381.1 L1340.37,1381.3 L1341.37,1381.5 L1342.37,1381.7 L1343.37,1381.9 L1344.37,1382.1 L1345.37,1382.3 L1346.37,1382.5 L1347.37,1382.7 L1348.37,1382.9 L1349.37,1383.1 L1350.37,1383.3 L1351.37,1383.5 L1352.37,1383.7 L1353.37,1383.9 L1354.37,1384.1 L1355.37,1384.3 L1356.37,1384.5 L1357.37,1384.7 L1358.37,1384.9 L1359.37,1385.1 L1360.38,1385.3 L1361.38,1385.5 L1362.38,1385.7 L1363.38,1385.9 L1364.38,1386.1 L1365.38,1386.3 L1366.38,1386.5 L1367.38,1386.7 L1368.38,1386.9 L1369.38,1387.1 L1370.38,1387.3 L1371.38,1387.5 L1372.38,1387.7 L1373.38,1387.9 L1374.38,1388.1 L1375.38,1388.3 L1376.38,1388.5 L1377.38,1388.7 L1378.38,1388.9 L1379.38,1389.1 L1380.38,1389.3 L1381.38,1389.5 L1382.38,1389.7 L1383.38,1389.9 L1384.09,1390.0 L1384.38,1390.1 L1385.39,1390.3 L1386.39,1390.4 L1387.39,1390.6 L1388.39,1390.8 L1389.39,1391.0 L1390.39,1391.2 L1391.39,1391.4 L1392.39,1391.6 L1393.39,1391.8 L1394.39,1392.0 L1395.39,1392.2 L1396.39,1392.3 L1397.39,1392.5 L1398.39,1392.7 L1399.39,1392.9 L1400.39,1393.1 L1401.39,1393.3 L1402.39,1393.5 L1403.39,1393.6 L1404.39,1393.8 L1405.39,1394.0 L1406.39,1394.2 L1407.39,1394.4 L1408.39,1394.6 L1409.39,1394.8 L1410.39,1394.9 L1411.40,1395.1 L1412.40,1395.3 L1413.40,1395.5 L1414.40,1395.7 L1415.40,1395.8 L1416.40,1396.0 L1417.40,1396.2 L1418.40,1396.4 L1419.40,1396.6 L1420.40,1396.8 L1421.40,1396.9 L1422.40,1397.1 L1423.40,1397.3 L1424.40,1397.5 L1425.40,1397.7 L1426.40,1397.8 L1427.40,1398.0 L1428.40,1398.2 L1429.40,1398.4 L1430.40,1398.6 L1431.40,1398.7 L1432.40,1398.9 L1433.40,1399.1 L1434.40,1399.3 L1435.40,1399.5 L1436.41,1399.7 L1437.41,1399.8 L1438.41,1400.0 L1439.41,1400.2 L1440.41,1400.4 L1441.41,1400.6 L1442.41,1400.8 L1443.41,1400.9 L1444.41,1401.1 L1445.41,1401.3 L1446.41,1401.5 L1447.41,1401.7 L1448.41,1401.9 L1449.41,1402.1 L1450.41,1402.2 L1451.41,1402.4 L1452.41,1402.6 L1453.41,1402.8 L1454.41,1403.0 L1455.41,1403.2 L1456.41,1403.4 L1457.41,1403.6 L1458.41,1403.8 L1459.41,1403.9 L1460.41,1404.1 L1461.41,1404.3 L1462.42,1404.5 L1463.42,1404.7 L1464.42,1404.9 L1465.42,1405.1 L1466.42,1405.3 L1467.39,1405.5 L1467.42,1405.5 L1468.42,1405.7 L1469.42,1405.9 L1470.42,1406.1 L1471.42,1406.3 L1472.42,1406.5 L1473.42,1406.7 L1474.42,1406.9 L1475.42,1407.1 L1476.42,1407.3 L1477.42,1407.5 L1478.42,1407.7 L1479.42,1407.9 L1480.42,1408.1 L1481.42,1408.3 L1482.42,1408.5 L1483.42,1408.7 L1484.42,1408.9 L1485.42,1409.1 L1486.42,1409.3 L1487.42,1409.5 L1488.43,1409.8 L1489.43,1410.0 L1490.43,1410.2 L1491.43,1410.4 L1492.43,1410.6 L1493.43,1410.8 L1494.43,1411.0 L1495.43,1411.2 L1496.43,1411.4 L1497.43,1411.6 L1498.43,1411.8 L1499.43,1412.0 L1500.43,1412.3 L1501.43,1412.5 L1502.43,1412.7 L1503.43,1412.9 L1504.43,1413.1 L1505.43,1413.3 L1506.43,1413.5 L1507.43,1413.7 L1508.43,1414.0 L1509.43,1414.2 L1510.43,1414.4 L1511.43,1414.6 L1512.43,1414.8 L1513.44,1415.0 L1514.44,1415.2 L1515.44,1415.4 L1516.44,1415.7 L1517.44,1415.9 L1518.44,1416.1 L1519.44,1416.3 L1520.44,1416.5 L1521.44,1416.7 L1522.44,1416.9 L1523.44,1417.2 L1524.44,1417.4 L1525.44,1417.6 L1526.44,1417.8 L1527.44,1418.0 L1528.44,1418.2 L1529.44,1418.4 L1530.44,1418.7 L1531.44,1418.9 L1532.44,1419.1 L1533.44,1419.3 L1534.44,1419.5 L1535.44,1419.7 L1536.44,1419.9 L1537.44,1420.2 L1538.44,1420.4 L1539.45,1420.6 L1540.45,1420.8 L1541.45,1421.0 L1542.45,1421.2 L1543.45,1421.4 L1544.45,1421.7 L1545.45,1421.9 L1546.45,1422.1 L1547.45,1422.3 L1548.45,1422.5 L1549.45,1422.7 L1550.45,1422.9 L1550.70,1423.0 L1551.45,1423.2 L1552.45,1423.4 L1553.45,1423.6 L1554.45,1423.8 L1555.45,1424.0 L1556.45,1424.2 L1557.45,1424.4 L1558.45,1424.7 L1559.45,1424.9 L1560.45,1425.1 L1561.45,1425.3 L1562.45,1425.5 L1563.45,1425.7 L1564.46,1426.0 L1565.46,1426.2 L1566.46,1426.4 L1567.46,1426.6 L1568.46,1426.8 L1569.46,1427.0 L1570.46,1427.3 L1571.46,1427.5 L1572.46,1427.7 L1573.46,1427.9 L1574.46,1428.1 L1575.46,1428.3 L1576.46,1428.6 L1577.46,1428.8 L1578.46,1429.0 L1579.46,1429.2 L1580.46,1429.4 L1581.46,1429.6 L1582.46,1429.9 L1583.46,1430.1 L1584.46,1430.3 L1585.46,1430.5 L1586.46,1430.7 L1587.46,1431.0 L1588.46,1431.2 L1589.46,1431.4 L1590.47,1431.6 L1591.47,1431.8 L1592.47,1432.0 L1593.47,1432.3 L1594.47,1432.5 L1595.47,1432.7 L1596.47,1432.9 L1597.47,1433.1 L1598.47,1433.3 L1599.47,1433.6 L1600.47,1433.8 L1601.47,1434.0 L1602.47,1434.2 L1603.47,1434.4 L1604.47,1434.6 L1605.47,1434.9 L1606.09,1435.0 L1606.47,1435.1 L1607.47,1435.3 L1608.47,1435.5 L1609.47,1435.7 L1610.47,1435.9 L1611.47,1436.2 L1612.47,1436.4 L1613.47,1436.6 L1614.47,1436.8 L1615.48,1437.0 L1616.48,1437.3 L1617.48,1437.5 L1618.48,1437.7 L1619.48,1437.9 L1620.48,1438.1 L1621.48,1438.3 L1622.48,1438.6 L1623.48,1438.8" stroke="#eb0000" stroke-width="28.3"/>
<path d="M568.87,1382.0 L569.87,1381.7 L570.87,1381.4 L571.87,1381.1 L572.87,1380.8 L573.87,1380.5 L574.87,1380.2 L575.87,1379.9 L576.87,1379.6 L577.87,1379.4 L578.88,1379.1 L579.88,1378.8 L580.88,1378.5 L581.88,1378.2 L582.88,1377.9 L583.88,1377.6 L584.88,1377.3 L585.88,1377.0 L586.88,1376.7 L587.88,1376.4 L588.88,1376.1 L589.88,1375.8 L590.88,1375.6 L591.88,1375.3 L592.88,1375.0 L593.88,1374.7 L594.88,1374.4 L595.89,1374.1 L596.89,1373.8 L597.89,1373.5 L598.89,1373.2 L599.89,1372.9 L600.89,1372.6 L601.89,1372.3 L602.89,1372.0 L603.89,1371.7 L604.89,1371.4 L605.89,1371.1 L606.89,1370.9 L607.89,1370.6 L608.89,1370.3 L609.89,1370.0 L610.89,1369.7 L611.89,1369.4 L612.89,1369.1 L613.90,1368.8 L614.90,1368.5 L615.90,1368.2 L616.90,1367.9 L617.90,1367.6 L618.90,1367.3 L619.90,1367.0 L620.90,1366.7 L621.90,1366.4 L622.90,1366.1 L623.90,1365.8 L624.78,1365.5 L624.90,1365.5 L625.90,1365.2 L626.90,1364.9 L627.90,1364.5 L628.90,1364.2 L629.90,1363.9 L630.91,1363.6 L631.91,1363.3 L632.91,1363.0 L633.91,1362.6 L634.91,1362.3 L635.91,1362.0 L636.91,1361.7 L637.91,1361.3 L638.91,1361.0 L639.91,1360.7 L640.91,1360.4 L641.91,1360.0 L642.91,1359.7 L643.91,1359.4 L644.91,1359.1 L645.91,1358.7 L646.91,1358.4 L647.92,1358.1 L648.92,1357.7 L649.92,1357.4 L650.92,1357.1 L651.92,1356.7 L652.92,1356.4 L653.92,1356.1 L654.92,1355.8 L655.92,1355.4 L656.92,1355.1 L657.92,1354.8 L658.92,1354.5 L659.92,1354.2 L660.92,1353.8 L661.92,1353.5 L662.92,1353.2 L663.92,1352.9 L664.93,1352.6 L665.93,1352.3 L666.93,1352.0 L667.93,1351.6 L668.93,1351.3 L669.93,1351.0 L670.93,1350.7 L671.93,1350.4 L672.93,1350.2 L673.93,1349.9 L674.93,1349.6 L675.93,1349.3 L676.93,1349.0 L677.93,1348.7 L678.93,1348.5 L679.93,1348.2 L680.61,1348.0 L680.93,1347.9 L681.93,1347.6 L682.94,1347.4 L683.94,1347.1 L684.94,1346.9 L685.94,1346.6 L686.94,1346.3 L687.94,1346.1 L688.94,1345.8 L689.94,1345.6 L690.94,1345.3 L691.94,1345.1 L692.94,1344.8 L693.94,1344.6 L694.94,1344.3 L695.94,1344.1 L696.94,1343.9 L697.94,1343.6 L698.94,1343.4 L699.95,1343.1 L700.95,1342.9 L701.95,1342.7 L702.95,1342.4 L703.95,1342.2 L704.95,1341.9 L705.95,1341.7 L706.95,1341.5 L707.95,1341.3 L708.95,1341.0 L709.95,1340.8 L710.95,1340.6 L711.95,1340.3 L712.95,1340.1 L713.95,1339.9 L714.95,1339.7 L715.95,1339.4 L716.96,1339.2 L717.96,1339.0 L718.96,1338.8 L719.96,1338.6 L720.96,1338.3 L721.96,1338.1 L722.96,1337.9 L723.96,1337.7 L724.96,1337.5 L725.96,1337.3 L726.96,1337.0 L727.96,1336.8 L728.96,1336.6 L729.96,1336.4 L730.96,1336.2 L731.96,1336.0 L732.96,1335.7 L733.96,1335.5 L734.97,1335.3 L735.97,1335.1 L736.43,1335.0 L736.97,1334.9 L737.97,1334.7 L738.97,1334.5 L739.97,1334.2 L740.97,1334.0 L741.97,1333.8 L742.97,1333.6 L743.97,1333.4 L744.97,1333.2 L745.97,1333.0 L746.97,1332.8 L747.97,1332.5 L748.97,1332.3 L749.97,1332.1 L750.97,1331.9 L751.98,1331.7 L752.98,1331.5 L753.98,1331.3 L754.98,1331.1 L755.98,1330.9 L756.98,1330.7 L757.98,1330.5 L758.98,1330.3 L759.98,1330.1 L760.98,1329.8 L761.98,1329.6 L762.98,1329.4 L763.98,1329.2 L764.98,1329.0 L765.98,1328.8 L766.98,1328.6 L767.98,1328.4 L768.99,1328.2 L769.99,1328.0 L770.99,1327.9 L771.99,1327.7 L772.99,1327.5 L773.99,1327.3 L774.99,1327.1 L775.99,1326.9 L776.99,1326.7 L777.99,1326.5 L778.99,1326.3 L779.99,1326.1 L780.99,1326.0 L781.99,1325.8 L782.99,1325.6 L783.99,1325.4 L784.99,1325.2 L785.99,1325.1 L787.00,1324.9 L788.00,1324.7 L789.00,1324.5 L790.00,1324.4 L791.00,1324.2 L792.00,1324.0 L792.26,1324.0 L793.00,1323.9 L794.00,1323.7 L795.00,1323.5 L796.00,1323.4 L797.00,1323.2 L798.00,1323.0 L799.00,1322.8 L800.00,1322.6 L801.00,1322.4 L802.00,1322.3 L803.00,1322.1 L804.01,1321.9 L805.01,1321.7 L806.01,1321.5 L807.01,1321.3 L808.01,1321.1 L809.01,1320.9 L810.01,1320.7 L811.01,1320.5 L812.01,1320.3 L813.01,1320.2 L814.01,1320.0 L815.01,1319.8 L816.01,1319.6 L817.01,1319.4 L818.01,1319.2 L819.01,1319.1 L820.01,1318.9 L821.02,1318.7 L822.02,1318.5 L823.02,1318.4 L824.02,1318.2 L825.02,1318.0 L826.02,1317.9 L827.02,1317.7 L828.02,1317.6 L829.02,1317.5 L830.02,1317.3 L831.02,1317.2 L832.02,1317.1 L833.02,1316.9 L834.02,1316.8 L835.02,1316.7 L836.02,1316.6 L837.02,1316.5 L838.02,1316.4 L839.03,1316.4 L840.03,1316.3 L841.03,1316.2 L842.03,1316.2 L843.03,1316.1 L844.03,1316.1 L845.03,1316.0 L846.03,1316.0 L847.03,1316.0 L848.03,1316.0 L848.17,1316.0 L849.03,1316.0 L850.03,1316.0 L851.03,1316.0 L852.03,1316.0 L853.03,1316.0 L854.03,1316.0 L855.03,1316.0 L856.04,1316.0 L857.04,1316.0 L858.04,1316.0 L859.04,1316.0 L860.04,1316.0 L861.04,1316.0 L862.04,1316.0 L863.04,1316.0 L864.04,1316.0 L865.04,1316.0 L866.04,1316.0 L867.04,1316.0 L868.04,1316.0 L869.04,1316.0 L869.57,1316.0 L870.04,1316.0 L871.04,1316.0 L872.04,1316.0 L873.05,1316.1 L874.05,1316.1 L875.05,1316.2 L876.05,1316.2 L877.05,1316.3 L878.05,1316.4 L879.05,1316.5 L880.05,1316.6 L881.05,1316.7 L882.05,1316.8 L883.05,1316.9 L884.05,1317.0 L885.05,1317.1 L886.05,1317.3 L887.05,1317.4 L888.05,1317.5 L889.05,1317.7 L890.05,1317.8 L891.06,1318.0 L892.06,1318.1 L893.06,1318.3 L894.06,1318.5 L895.06,1318.6 L896.06,1318.8 L897.06,1318.9 L898.06,1319.1 L899.06,1319.3 L900.06,1319.4 L901.06,1319.6 L902.06,1319.7 L903.06,1319.9 L904.06,1320.0 L905.06,1320.2 L906.06,1320.3 L907.06,1320.5 L908.07,1320.6 L909.07,1320.8 L910.07,1320.9 L911.07,1321.0 L912.07,1321.1 L913.07,1321.3 L914.07,1321.4 L915.07,1321.5 L916.07,1321.6 L917.07,1321.6 L918.07,1321.7 L919.07,1321.8 L920.07,1321.8 L921.07,1321.9 L922.07,1321.9 L923.07,1322.0 L924.07,1322.0 L925.08,1322.0 L925.39,1322.0 L926.08,1322.0 L927.08,1322.0 L928.08,1322.0 L929.08,1321.9 L930.08,1321.9 L931.08,1321.8 L932.08,1321.8 L933.08,1321.7 L934.08,1321.6 L935.08,1321.5 L936.08,1321.4 L937.08,1321.3 L938.08,1321.2 L939.08,1321.1 L940.08,1321.0 L941.08,1320.8 L942.08,1320.7 L943.09,1320.6 L944.09,1320.4 L945.09,1320.3 L946.09,1320.1 L947.09,1320.0 L948.09,1319.8 L949.09,1319.7 L950.09,1319.5 L951.09,1319.4 L952.09,1319.2 L953.09,1319.0 L954.09,1318.9 L955.09,1318.7 L956.09,1318.6 L957.09,1318.4 L958.09,1318.2 L959.09,1318.1 L960.10,1317.9 L961.10,1317.8 L962.10,1317.6 L963.10,1317.5 L964.10,1317.4 L965.10,1317.2 L966.10,1317.1 L967.10,1317.0 L968.10,1316.8 L969.10,1316.7 L970.10,1316.6 L971.10,1316.5 L972.10,1316.4 L973.10,1316.3 L974.10,1316.3 L975.10,1316.2 L976.10,1316.1 L977.11,1316.1 L978.11,1316.1 L979.11,1316.0 L980.11,1316.0 L981.11,1316.0 L981.30,1316.0 L982.11,1316.0 L983.11,1316.0 L984.11,1316.0 L985.11,1316.0 L986.11,1316.1 L987.11,1316.1 L988.11,1316.1 L989.11,1316.1 L990.11,1316.2 L991.11,1316.2 L992.11,1316.3 L993.11,1316.3 L994.12,1316.4 L995.12,1316.4 L996.12,1316.5 L997.12,1316.5 L998.12,1316.6 L999.12,1316.7 L1000.12,1316.7 L1001.12,1316.8 L1002.12,1316.9 L1003.12,1317.0 L1004.12,1317.1 L1005.12,1317.1 L1006.12,1317.2 L1007.12,1317.3 L1008.12,1317.4 L1009.12,1317.5 L1010.12,1317.6 L1011.12,1317.7 L1012.13,1317.8 L1013.13,1317.9 L1014.13,1318.0 L1015.13,1318.1 L1016.13,1318.2 L1017.13,1318.3 L1018.13,1318.5 L1019.13,1318.6 L1020.13,1318.7 L1021.13,1318.8 L1022.13,1318.9 L1023.13,1319.0 L1024.13,1319.1 L1025.13,1319.3 L1026.13,1319.4 L1027.13,1319.5 L1028.13,1319.6 L1029.14,1319.7 L1030.14,1319.9 L1031.14,1320.0 L1032.14,1320.1 L1033.14,1320.2 L1034.14,1320.3 L1035.14,1320.5 L1036.14,1320.6 L1037.13,1320.7 L1037.14,1320.7 L1038.14,1320.8 L1039.14,1321.0 L1040.14,1321.1 L1041.14,1321.2 L1042.14,1321.4 L1043.14,1321.5 L1044.14,1321.7 L1045.14,1321.9 L1046.15,1322.1 L1047.15,1322.2 L1048.15,1322.4 L1049.15,1322.6 L1050.15,1322.8 L1051.15,1323.0 L1052.15,1323.2 L1053.15,1323.4 L1054.15,1323.6 L1055.15,1323.8 L1056.15,1324.1 L1057.15,1324.3 L1058.15,1324.5 L1059.15,1324.7 L1060.15,1325.0 L1061.15,1325.2 L1062.15,1325.4 L1063.15,1325.7 L1064.16,1325.9 L1065.16,1326.1 L1066.16,1326.4 L1067.16,1326.6 L1068.16,1326.8 L1069.16,1327.1 L1070.16,1327.3 L1071.16,1327.5 L1072.16,1327.8 L1073.16,1328.0 L1074.16,1328.2 L1075.16,1328.5 L1076.16,1328.7 L1077.16,1328.9 L1078.16,1329.1 L1079.16,1329.4 L1080.16,1329.6 L1081.17,1329.8 L1082.17,1330.0 L1083.17,1330.2 L1084.17,1330.4 L1085.17,1330.6 L1086.17,1330.8 L1087.17,1331.0 L1088.17,1331.2 L1089.17,1331.4 L1090.17,1331.5 L1091.17,1331.7 L1092.17,1331.9 L1092.96,1332.0 L1093.17,1332.0 L1094.17,1332.2 L1095.17,1332.3 L1096.17,1332.5 L1097.17,1332.6 L1098.18,1332.8 L1099.18,1332.9 L1100.18,1333.0 L1101.18,1333.2 L1102.18,1333.3 L1103.18,1333.4 L1104.18,1333.6 L1105.18,1333.7 L1106.18,1333.8 L1107.18,1333.9 L1108.18,1334.0 L1109.18,1334.1 L1110.18,1334.3 L1111.18,1334.4 L1112.18,1334.5 L1113.18,1334.6 L1114.18,1334.7 L1115.18,1334.8 L1116.19,1334.9 L1117.19,1335.0 L1118.19,1335.2 L1119.19,1335.3 L1120.19,1335.4 L1121.19,1335.5 L1122.19,1335.6 L1123.19,1335.7 L1124.19,1335.8 L1125.19,1335.9 L1126.19,1336.0 L1127.19,1336.1 L1128.19,1336.3 L1129.19,1336.4 L1130.19,1336.5 L1131.19,1336.6 L1132.19,1336.7 L1133.20,1336.8 L1134.20,1337.0 L1135.20,1337.1 L1136.20,1337.2 L1137.20,1337.3 L1138.20,1337.5 L1139.20,1337.6 L1140.20,1337.7 L1141.20,1337.9 L1142.20,1338.0 L1143.20,1338.1 L1144.20,1338.3 L1145.20,1338.4 L1146.20,1338.6 L1147.20,1338.7 L1148.20,1338.9 L1148.78,1339.0 L1149.20,1339.1 L1150.21,1339.2 L1151.21,1339.4 L1152.21,1339.6 L1153.21,1339.8 L1154.21,1340.0 L1155.21,1340.1 L1156.21,1340.3 L1157.21,1340.5 L1158.21,1340.7 L1159.21,1341.0 L1160.21,1341.2 L1161.21,1341.4 L1162.21,1341.6 L1163.21,1341.8 L1164.21,1342.0 L1165.21,1342.3 L1166.21,1342.5 L1167.21,1342.7 L1168.22,1343.0 L1169.22,1343.2 L1170.22,1343.4 L1171.22,1343.7 L1172.22,1343.9 L1173.22,1344.2 L1174.22,1344.4 L1175.22,1344.7 L1176.22,1344.9 L1177.22,1345.2 L1178.22,1345.4 L1179.22,1345.7 L1180.22,1345.9 L1181.22,1346.2 L1182.22,1346.5 L1183.22,1346.7 L1184.22,1347.0 L1185.23,1347.2 L1186.23,1347.5 L1187.23,1347.7 L1188.23,1348.0 L1189.23,1348.2 L1190.23,1348.5 L1191.23,1348.7 L1192.23,1349.0 L1193.23,1349.3 L1194.23,1349.5 L1195.23,1349.7 L1196.23,1350.0 L1197.23,1350.2 L1198.23,1350.5 L1199.23,1350.7 L1200.23,1351.0 L1201.23,1351.2 L1202.24,1351.4 L1203.24,1351.7 L1204.24,1351.9 L1204.70,1352.0 L1205.24,1352.1 L1206.24,1352.3 L1207.24,1352.6 L1208.24,1352.8 L1209.24,1353.0 L1210.24,1353.3 L1211.24,1353.5 L1212.24,1353.7 L1213.24,1353.9 L1214.24,1354.2 L1215.24,1354.4 L1216.24,1354.6 L1217.24,1354.8 L1218.24,1355.0 L1219.24,1355.3 L1220.25,1355.5 L1221.25,1355.7 L1222.25,1355.9 L1223.25,1356.2 L1224.25,1356.4 L1225.25,1356.6 L1226.25,1356.8 L1227.25,1357.1 L1228.25,1357.3 L1229.25,1357.5 L1230.25,1357.7 L1231.25,1358.0 L1232.25,1358.2 L1233.25,1358.4 L1234.25,1358.6 L1235.25,1358.8 L1236.25,1359.1 L1237.26,1359.3 L1238.26,1359.5 L1239.26,1359.7 L1240.26,1359.9 L1241.26,1360.2 L1242.26,1360.4 L1243.26,1360.6 L1244.26,1360.8 L1245.26,1361.0 L1246.26,1361.3 L1247.26,1361.5 L1248.26,1361.7 L1249.26,1361.9 L1250.26,1362.1 L1251.26,1362.4 L1252.26,1362.6 L1253.26,1362.8 L1254.27,1363.0 L1255.27,1363.2 L1256.27,1363.5 L1257.27,1363.7 L1258.27,1363.9 L1259.27,1364.1 L1260.27,1364.3 L1261.27,1364.6 L1262.27,1364.8 L1263.27,1365.0 L1264.27,1365.2 L1265.27,1365.4 L1266.27,1365.6 L1267.27,1365.9 L1268.27,1366.1 L1269.27,1366.3 L1270.27,1366.5 L1271.27,1366.7 L1272.28,1366.9 L1273.28,1367.2 L1274.28,1367.4 L1275.28,1367.6 L1276.28,1367.8 L1277.28,1368.0 L1278.28,1368.2 L1279.28,1368.4 L1280.28,1368.7 L1281.28,1368.9 L1282.28,1369.1 L1283.28,1369.3 L1284.28,1369.5 L1285.28,1369.7 L1286.28,1369.9 L1287.28,1370.2 L1288.28,1370.4 L1289.29,1370.6 L1290.29,1370.8 L1291.29,1371.0 L1292.29,1371.2 L1293.29,1371.4 L1294.29,1371.6 L1295.29,1371.9 L1296.29,1372.1 L1297.29,1372.3 L1298.29,1372.5 L1299.29,1372.7 L1300.29,1372.9 L1300.70,1373.0 L1301.29,1373.1 L1302.29,1373.3 L1303.29,1373.5 L1304.29,1373.8 L1305.29,1374.0 L1306.30,1374.2 L1307.30,1374.4 L1308.30,1374.6 L1309.30,1374.8 L1310.30,1375.0 L1311.30,1375.2 L1312.30,1375.4 L1313.30,1375.6 L1314.30,1375.9 L1315.30,1376.1 L1316.30,1376.3 L1317.30,1376.5 L1318.30,1376.7 L1319.30,1376.9 L1320.30,1377.1 L1321.30,1377.3 L1322.30,1377.5 L1323.31,1377.7 L1324.31,1377.9 L1325.31,1378.2 L1326.31,1378.4 L1327.31,1378.6 L1328.31,1378.8 L1329.31,1379.0 L1330.31,1379.2 L1331.31,1379.4 L1332.31,1379.6 L1333.31,1379.8 L1334.31,1380.0 L1335.31,1380.2 L1336.31,1380.4 L1337.31,1380.6 L1338.31,1380.8 L1339.31,1381.0 L1340.31,1381.2 L1341.32,1381.5 L1342.32,1381.7 L1343.32,1381.9 L1344.32,1382.1 L1345.32,1382.3 L1346.32,1382.5 L1347.32,1382.7 L1348.32,1382.9 L1349.32,1383.1 L1350.32,1383.3 L1351.32,1383.5 L1352.32,1383.7 L1353.32,1383.9 L1354.32,1384.1 L1355.32,1384.3 L1356.32,1384.5 L1357.32,1384.7 L1358.33,1384.9 L1359.33,1385.1 L1360.33,1385.3 L1361.33,1385.5 L1362.33,1385.7 L1363.33,1385.9 L1364.33,1386.1 L1365.33,1386.3 L1366.33,1386.5 L1367.33,1386.7 L1368.33,1386.9 L1369.33,1387.1 L1370.33,1387.3 L1371.33,1387.5 L1372.33,1387.7 L1373.33,1387.9 L1374.33,1388.1 L1375.34,1388.3 L1376.34,1388.5 L1377.34,1388.7 L1378.34,1388.9 L1379.34,1389.1 L1380.34,1389.3 L1381.34,1389.5 L1382.34,1389.7 L1383.34,1389.9 L1384.09,1390.0 L1384.34,1390.0 L1385.34,1390.2 L1386.34,1390.4 L1387.34,1390.6 L1388.34,1390.8 L1389.34,1391.0 L1390.34,1391.2 L1391.34,1391.4 L1392.34,1391.6 L1393.35,1391.8 L1394.35,1392.0 L1395.35,1392.2 L1396.35,1392.3 L1397.35,1392.5 L1398.35,1392.7 L1399.35,1392.9 L1400.35,1393.1 L1401.35,1393.3 L1402.35,1393.5 L1403.35,1393.6 L1404.35,1393.8 L1405.35,1394.0 L1406.35,1394.2 L1407.35,1394.4 L1408.35,1394.6 L1409.35,1394.7 L1410.36,1394.9 L1411.36,1395.1 L1412.36,1395.3 L1413.36,1395.5 L1414.36,1395.7 L1415.36,1395.8 L1416.36,1396.0 L1417.36,1396.2 L1418.36,1396.4 L1419.36,1396.6 L1420.36,1396.7 L1421.36,1396.9 L1422.36,1397.1 L1423.36,1397.3 L1424.36,1397.5 L1425.36,1397.7 L1426.36,1397.8 L1427.37,1398.0 L1428.37,1398.2 L1429.37,1398.4 L1430.37,1398.6 L1431.37,1398.7 L1432.37,1398.9 L1433.37,1399.1 L1434.37,1399.3 L1435.37,1399.5 L1436.37,1399.7 L1437.37,1399.8 L1438.37,1400.0 L1439.37,1400.2 L1440.37,1400.4 L1441.37,1400.6 L1442.37,1400.8 L1443.37,1400.9 L1444.37,1401.1 L1445.38,1401.3 L1446.38,1401.5 L1447.38,1401.7 L1448.38,1401.9 L1449.38,1402.0 L1450.38,1402.2 L1451.38,1402.4 L1452.38,1402.6 L1453.38,1402.8 L1454.38,1403.0 L1455.38,1403.2 L1456.38,1403.4 L1457.38,1403.6 L1458.38,1403.7 L1459.38,1403.9 L1460.38,1404.1 L1461.38,1404.3 L1462.39,1404.5 L1463.39,1404.7 L1464.39,1404.9 L1465.39,1405.1 L1466.39,1405.3 L1467.39,1405.5 L1468.39,1405.7 L1469.39,1405.9 L1470.39,1406.1 L1471.39,1406.3 L1472.39,1406.5 L1473.39,1406.7 L1474.39,1406.9 L1475.39,1407.1 L1476.39,1407.3 L1477.39,1407.5 L1478.39,1407.7 L1479.40,1407.9 L1480.40,1408.1 L1481.40,1408.3 L1482.40,1408.5 L1483.40,1408.7 L1484.40,1408.9 L1485.40,1409.1 L1486.40,1409.3 L1487.40,1409.5 L1488.40,1409.8 L1489.40,1410.0 L1490.40,1410.2 L1491.40,1410.4 L1492.40,1410.6 L1493.40,1410.8 L1494.40,1411.0 L1495.40,1411.2 L1496.40,1411.4 L1497.41,1411.6 L1498.41,1411.8 L1499.41,1412.0 L1500.41,1412.3 L1501.41,1412.5 L1502.41,1412.7 L1503.41,1412.9 L1504.41,1413.1 L1505.41,1413.3 L1506.41,1413.5 L1507.41,1413.7 L1508.41,1413.9 L1509.41,1414.2 L1510.41,1414.4 L1511.41,1414.6 L1512.41,1414.8 L1513.41,1415.0 L1514.42,1415.2 L1515.42,1415.4 L1516.42,1415.7 L1517.42,1415.9 L1518.42,1416.1 L1519.42,1416.3 L1520.42,1416.5 L1521.42,1416.7 L1522.42,1416.9 L1523.42,1417.2 L1524.42,1417.4 L1525.42,1417.6 L1526.42,1417.8 L1527.42,1418.0 L1528.42,1418.2 L1529.42,1418.4 L1530.42,1418.7 L1531.43,1418.9 L1532.43,1419.1 L1533.43,1419.3 L1534.43,1419.5 L1535.43,1419.7 L1536.43,1419.9 L1537.43,1420.2 L1538.43,1420.4 L1539.43,1420.6 L1540.43,1420.8 L1541.43,1421.0 L1542.43,1421.2 L1543.43,1421.4 L1544.43,1421.7 L1545.43,1421.9 L1546.43,1422.1 L1547.43,1422.3 L1548.43,1422.5 L1549.44,1422.7 L1550.44,1422.9 L1550.70,1423.0 L1551.44,1423.2 L1552.44,1423.4 L1553.44,1423.6 L1554.44,1423.8 L1555.44,1424.0 L1556.44,1424.2 L1557.44,1424.4 L1558.44,1424.7 L1559.44,1424.9 L1560.44,1425.1 L1561.44,1425.3 L1562.44,1425.5 L1563.44,1425.7 L1564.44,1426.0 L1565.44,1426.2 L1566.45,1426.4 L1567.45,1426.6 L1568.45,1426.8 L1569.45,1427.0 L1570.45,1427.3 L1571.45,1427.5 L1572.45,1427.7 L1573.45,1427.9 L1574.45,1428.1 L1575.45,1428.3 L1576.45,1428.6 L1577.45,1428.8 L1578.45,1429.0 L1579.45,1429.2 L1580.45,1429.4 L1581.45,1429.6 L1582.45,1429.9 L1583.46,1430.1 L1584.46,1430.3 L1585.46,1430.5 L1586.46,1430.7 L1587.46,1431.0 L1588.46,1431.2 L1589.46,1431.4 L1590.46,1431.6 L1591.46,1431.8 L1592.46,1432.0 L1593.46,1432.3 L1594.46,1432.5 L1595.46,1432.7 L1596.46,1432.9 L1597.46,1433.1 L1598.46,1433.3 L1599.46,1433.6 L1600.46,1433.8 L1601.47,1434.0 L1602.47,1434.2 L1603.47,1434.4 L1604.47,1434.6 L1605.47,1434.9 L1606.09,1435.0 L1606.47,1435.1 L1607.47,1435.3 L1608.47,1435.5 L1609.47,1435.7 L1610.47,1435.9 L1611.47,1436.2 L1612.47,1436.4 L1613.47,1436.6 L1614.47,1436.8 L1615.47,1437.0 L1616.47,1437.2 L1617.47,1437.5 L1618.48,1437.7 L1619.48,1437.9 L1620.48,1438.1 L1621.48,1438.3 L1622.48,1438.6 L1623.48,1438.8" stroke="#eb0000" stroke-width="29.5"/>
<path d="M624.78,1365.5 L625.78,1365.2 L626.78,1364.9 L627.78,1364.6 L628.79,1364.2 L629.79,1363.9 L630.79,1363.6 L631.79,1363.3 L632.79,1362.9 L633.79,1362.6 L634.79,1362.3 L635.79,1362.0 L636.79,1361.6 L637.79,1361.3 L638.79,1361.0 L639.79,1360.7 L640.79,1360.3 L641.79,1360.0 L642.80,1359.7 L643.80,1359.3 L644.80,1359.0 L645.80,1358.7 L646.80,1358.4 L647.80,1358.0 L648.80,1357.7 L649.80,1357.4 L650.80,1357.0 L651.80,1356.7 L652.80,1356.4 L653.80,1356.1 L654.80,1355.7 L655.80,1355.4 L656.80,1355.1 L657.81,1354.8 L658.81,1354.5 L659.81,1354.1 L660.81,1353.8 L661.81,1353.5 L662.81,1353.2 L663.81,1352.9 L664.81,1352.6 L665.81,1352.3 L666.81,1352.0 L667.81,1351.7 L668.81,1351.4 L669.81,1351.1 L670.81,1350.8 L671.82,1350.5 L672.82,1350.2 L673.82,1349.9 L674.82,1349.6 L675.82,1349.3 L676.82,1349.0 L677.82,1348.8 L678.82,1348.5 L679.82,1348.2 L680.61,1348.0 L680.82,1347.9 L681.82,1347.7 L682.82,1347.4 L683.82,1347.2 L684.82,1346.9 L685.83,1346.6 L686.83,1346.4 L687.83,1346.1 L688.83,1345.9 L689.83,1345.6 L690.83,1345.4 L691.83,1345.1 L692.83,1344.9 L693.83,1344.6 L694.83,1344.4 L695.83,1344.1 L696.83,1343.9 L697.83,1343.6 L698.83,1343.4 L699.83,1343.2 L700.84,1342.9 L701.84,1342.7 L702.84,1342.4 L703.84,1342.2 L704.84,1342.0 L705.84,1341.7 L706.84,1341.5 L707.84,1341.3 L708.84,1341.1 L709.84,1340.8 L710.84,1340.6 L711.84,1340.4 L712.84,1340.1 L713.84,1339.9 L714.85,1339.7 L715.85,1339.5 L716.85,1339.2 L717.85,1339.0 L718.85,1338.8 L719.85,1338.6 L720.85,1338.4 L721.85,1338.1 L722.85,1337.9 L723.85,1337.7 L724.85,1337.5 L725.85,1337.3 L726.85,1337.1 L727.85,1336.8 L728.86,1336.6 L729.86,1336.4 L730.86,1336.2 L731.86,1336.0 L732.86,1335.8 L733.86,1335.6 L734.86,1335.3 L735.86,1335.1 L736.43,1335.0 L736.86,1334.9 L737.86,1334.7 L738.86,1334.5 L739.86,1334.3 L740.86,1334.1 L741.86,1333.8 L742.86,1333.6 L743.87,1333.4 L744.87,1333.2 L745.87,1333.0 L746.87,1332.8 L747.87,1332.6 L748.87,1332.4 L749.87,1332.1 L750.87,1331.9 L751.87,1331.7 L752.87,1331.5 L753.87,1331.3 L754.87,1331.1 L755.87,1330.9 L756.87,1330.7 L757.88,1330.5 L758.88,1330.3 L759.88,1330.1 L760.88,1329.9 L761.88,1329.7 L762.88,1329.5 L763.88,1329.3 L764.88,1329.1 L765.88,1328.9 L766.88,1328.7 L767.88,1328.5 L768.88,1328.3 L769.88,1328.1 L770.88,1327.9 L771.89,1327.7 L772.89,1327.5 L773.89,1327.3 L774.89,1327.1 L775.89,1326.9 L776.89,1326.7 L777.89,1326.5 L778.89,1326.4 L779.89,1326.2 L780.89,1326.0 L781.89,1325.8 L782.89,1325.6 L783.89,1325.4 L784.89,1325.3 L785.89,1325.1 L786.90,1324.9 L787.90,1324.7 L788.90,1324.6 L789.90,1324.4 L790.90,1324.2 L791.90,1324.1 L792.26,1324.0 L792.90,1323.9 L793.90,1323.7 L794.90,1323.6 L795.90,1323.4 L796.90,1323.2 L797.90,1323.0 L798.90,1322.8 L799.90,1322.6 L800.91,1322.5 L801.91,1322.3 L802.91,1322.1 L803.91,1321.9 L804.91,1321.7 L805.91,1321.5 L806.91,1321.3 L807.91,1321.1 L808.91,1320.9 L809.91,1320.7 L810.91,1320.6 L811.91,1320.4 L812.91,1320.2 L813.91,1320.0 L814.92,1319.8 L815.92,1319.6 L816.92,1319.4 L817.92,1319.2 L818.92,1319.1 L819.92,1318.9 L820.92,1318.7 L821.92,1318.6 L822.92,1318.4 L823.92,1318.2 L824.92,1318.1 L825.92,1317.9 L826.92,1317.8 L827.92,1317.6 L828.92,1317.5 L829.93,1317.3 L830.93,1317.2 L831.93,1317.1 L832.93,1317.0 L833.93,1316.8 L834.93,1316.7 L835.93,1316.6 L836.93,1316.5 L837.93,1316.5 L838.93,1316.4 L839.93,1316.3 L840.93,1316.2 L841.93,1316.2 L842.93,1316.1 L843.94,1316.1 L844.94,1316.0 L845.94,1316.0 L846.94,1316.0 L847.94,1316.0 L848.17,1316.0 L848.94,1316.0 L849.94,1316.0 L850.94,1316.0 L851.94,1316.0 L852.94,1316.0 L853.94,1316.0 L854.94,1316.0 L855.94,1316.0 L856.94,1316.0 L857.95,1316.0 L858.95,1316.0 L859.95,1316.0 L860.95,1316.0 L861.95,1316.0 L862.95,1316.0 L863.95,1316.0 L864.95,1316.0 L865.95,1316.0 L866.95,1316.0 L867.95,1316.0 L868.95,1316.0 L869.57,1316.0 L869.95,1316.0 L870.95,1316.0 L871.95,1316.0 L872.96,1316.1 L873.96,1316.1 L874.96,1316.2 L875.96,1316.2 L876.96,1316.3 L877.96,1316.4 L878.96,1316.5 L879.96,1316.5 L880.96,1316.6 L881.96,1316.8 L882.96,1316.9 L883.96,1317.0 L884.96,1317.1 L885.96,1317.2 L886.97,1317.4 L887.97,1317.5 L888.97,1317.7 L889.97,1317.8 L890.97,1318.0 L891.97,1318.1 L892.97,1318.3 L893.97,1318.4 L894.97,1318.6 L895.97,1318.8 L896.97,1318.9 L897.97,1319.1 L898.97,1319.2 L899.97,1319.4 L900.97,1319.6 L901.98,1319.7 L902.98,1319.9 L903.98,1320.0 L904.98,1320.2 L905.98,1320.3 L906.98,1320.5 L907.98,1320.6 L908.98,1320.7 L909.98,1320.9 L910.98,1321.0 L911.98,1321.1 L912.98,1321.2 L913.98,1321.4 L914.98,1321.5 L915.99,1321.5 L916.99,1321.6 L917.99,1321.7 L918.99,1321.8 L919.99,1321.8 L920.99,1321.9 L921.99,1321.9 L922.99,1322.0 L923.99,1322.0 L924.99,1322.0 L925.39,1322.0 L925.99,1322.0 L926.99,1322.0 L927.99,1322.0 L928.99,1321.9 L930.00,1321.9 L931.00,1321.8 L932.00,1321.8 L933.00,1321.7 L934.00,1321.6 L935.00,1321.5 L936.00,1321.4 L937.00,1321.3 L938.00,1321.2 L939.00,1321.1 L940.00,1321.0 L941.00,1320.9 L942.00,1320.7 L943.00,1320.6 L944.00,1320.4 L945.01,1320.3 L946.01,1320.2 L947.01,1320.0 L948.01,1319.8 L949.01,1319.7 L950.01,1319.5 L951.01,1319.4 L952.01,1319.2 L953.01,1319.1 L954.01,1318.9 L955.01,1318.7 L956.01,1318.6 L957.01,1318.4 L958.01,1318.3 L959.02,1318.1 L960.02,1317.9 L961.02,1317.8 L962.02,1317.6 L963.02,1317.5 L964.02,1317.4 L965.02,1317.2 L966.02,1317.1 L967.02,1317.0 L968.02,1316.9 L969.02,1316.7 L970.02,1316.6 L971.02,1316.5 L972.02,1316.4 L973.03,1316.4 L974.03,1316.3 L975.03,1316.2 L976.03,1316.2 L977.03,1316.1 L978.03,1316.1 L979.03,1316.0 L980.03,1316.0 L981.03,1316.0 L981.30,1316.0 L982.03,1316.0 L983.03,1316.0 L984.03,1316.0 L985.03,1316.0 L986.03,1316.1 L987.03,1316.1 L988.04,1316.1 L989.04,1316.1 L990.04,1316.2 L991.04,1316.2 L992.04,1316.3 L993.04,1316.3 L994.04,1316.4 L995.04,1316.4 L996.04,1316.5 L997.04,1316.5 L998.04,1316.6 L999.04,1316.7 L1000.04,1316.7 L1001.04,1316.8 L1002.05,1316.9 L1003.05,1317.0 L1004.05,1317.1 L1005.05,1317.1 L1006.05,1317.2 L1007.05,1317.3 L1008.05,1317.4 L1009.05,1317.5 L1010.05,1317.6 L1011.05,1317.7 L1012.05,1317.8 L1013.05,1317.9 L1014.05,1318.0 L1015.05,1318.1 L1016.06,1318.2 L1017.06,1318.3 L1018.06,1318.4 L1019.06,1318.6 L1020.06,1318.7 L1021.06,1318.8 L1022.06,1318.9 L1023.06,1319.0 L1024.06,1319.1 L1025.06,1319.3 L1026.06,1319.4 L1027.06,1319.5 L1028.06,1319.6 L1029.06,1319.7 L1030.06,1319.9 L1031.07,1320.0 L1032.07,1320.1 L1033.07,1320.2 L1034.07,1320.3 L1035.07,1320.5 L1036.07,1320.6 L1037.07,1320.7 L1037.13,1320.7 L1038.07,1320.8 L1039.07,1320.9 L1040.07,1321.1 L1041.07,1321.2 L1042.07,1321.4 L1043.07,1321.5 L1044.07,1321.7 L1045.08,1321.9 L1046.08,1322.0 L1047.08,1322.2 L1048.08,1322.4 L1049.08,1322.6 L1050.08,1322.8 L1051.08,1323.0 L1052.08,1323.2 L1053.08,1323.4 L1054.08,1323.6 L1055.08,1323.8 L1056.08,1324.0 L1057.08,1324.3 L1058.08,1324.5 L1059.09,1324.7 L1060.09,1324.9 L1061.09,1325.2 L1062.09,1325.4 L1063.09,1325.6 L1064.09,1325.9 L1065.09,1326.1 L1066.09,1326.3 L1067.09,1326.6 L1068.09,1326.8 L1069.09,1327.1 L1070.09,1327.3 L1071.09,1327.5 L1072.09,1327.8 L1073.09,1328.0 L1074.10,1328.2 L1075.10,1328.5 L1076.10,1328.7 L1077.10,1328.9 L1078.10,1329.1 L1079.10,1329.4 L1080.10,1329.6 L1081.10,1329.8 L1082.10,1330.0 L1083.10,1330.2 L1084.10,1330.4 L1085.10,1330.6 L1086.10,1330.8 L1087.10,1331.0 L1088.11,1331.2 L1089.11,1331.4 L1090.11,1331.5 L1091.11,1331.7 L1092.11,1331.9 L1092.96,1332.0 L1093.11,1332.0 L1094.11,1332.2 L1095.11,1332.3 L1096.11,1332.5 L1097.11,1332.6 L1098.11,1332.8 L1099.11,1332.9 L1100.11,1333.0 L1101.11,1333.2 L1102.12,1333.3 L1103.12,1333.4 L1104.12,1333.5 L1105.12,1333.7 L1106.12,1333.8 L1107.12,1333.9 L1108.12,1334.0 L1109.12,1334.1 L1110.12,1334.3 L1111.12,1334.4 L1112.12,1334.5 L1113.12,1334.6 L1114.12,1334.7 L1115.12,1334.8 L1116.12,1334.9 L1117.13,1335.0 L1118.13,1335.1 L1119.13,1335.3 L1120.13,1335.4 L1121.13,1335.5 L1122.13,1335.6 L1123.13,1335.7 L1124.13,1335.8 L1125.13,1335.9 L1126.13,1336.0 L1127.13,1336.1 L1128.13,1336.2 L1129.13,1336.4 L1130.13,1336.5 L1131.14,1336.6 L1132.14,1336.7 L1133.14,1336.8 L1134.14,1336.9 L1135.14,1337.1 L1136.14,1337.2 L1137.14,1337.3 L1138.14,1337.5 L1139.14,1337.6 L1140.14,1337.7 L1141.14,1337.9 L1142.14,1338.0 L1143.14,1338.1 L1144.14,1338.3 L1145.15,1338.4 L1146.15,1338.6 L1147.15,1338.7 L1148.15,1338.9 L1148.78,1339.0 L1149.15,1339.1 L1150.15,1339.2 L1151.15,1339.4 L1152.15,1339.6 L1153.15,1339.8 L1154.15,1339.9 L1155.15,1340.1 L1156.15,1340.3 L1157.15,1340.5 L1158.15,1340.7 L1159.15,1340.9 L1160.16,1341.2 L1161.16,1341.4 L1162.16,1341.6 L1163.16,1341.8 L1164.16,1342.0 L1165.16,1342.3 L1166.16,1342.5 L1167.16,1342.7 L1168.16,1343.0 L1169.16,1343.2 L1170.16,1343.4 L1171.16,1343.7 L1172.16,1343.9 L1173.16,1344.2 L1174.17,1344.4 L1175.17,1344.7 L1176.17,1344.9 L1177.17,1345.2 L1178.17,1345.4 L1179.17,1345.7 L1180.17,1345.9 L1181.17,1346.2 L1182.17,1346.4 L1183.17,1346.7 L1184.17,1346.9 L1185.17,1347.2 L1186.17,1347.5 L1187.17,1347.7 L1188.18,1348.0 L1189.18,1348.2 L1190.18,1348.5 L1191.18,1348.7 L1192.18,1349.0 L1193.18,1349.2 L1194.18,1349.5 L1195.18,1349.7 L1196.18,1350.0 L1197.18,1350.2 L1198.18,1350.5 L1199.18,1350.7 L1200.18,1351.0 L1201.18,1351.2 L1202.18,1351.4 L1203.19,1351.7 L1204.19,1351.9 L1204.70,1352.0 L1205.19,1352.1 L1206.19,1352.3 L1207.19,1352.6 L1208.19,1352.8 L1209.19,1353.0 L1210.19,1353.2 L1211.19,1353.5 L1212.19,1353.7 L1213.19,1353.9 L1214.19,1354.1 L1215.19,1354.4 L1216.19,1354.6 L1217.20,1354.8 L1218.20,1355.0 L1219.20,1355.3 L1220.20,1355.5 L1221.20,1355.7 L1222.20,1355.9 L1223.20,1356.2 L1224.20,1356.4 L1225.20,1356.6 L1226.20,1356.8 L1227.20,1357.1 L1228.20,1357.3 L1229.20,1357.5 L1230.20,1357.7 L1231.21,1357.9 L1232.21,1358.2 L1233.21,1358.4 L1234.21,1358.6 L1235.21,1358.8 L1236.21,1359.1 L1237.21,1359.3 L1238.21,1359.5 L1239.21,1359.7 L1240.21,1359.9 L1241.21,1360.2 L1242.21,1360.4 L1243.21,1360.6 L1244.21,1360.8 L1245.21,1361.0 L1246.22,1361.3 L1247.22,1361.5 L1248.22,1361.7 L1249.22,1361.9 L1250.22,1362.1 L1251.22,1362.4 L1252.22,1362.6 L1253.22,1362.8 L1254.22,1363.0 L1255.22,1363.2 L1256.22,1363.5 L1257.22,1363.7 L1258.22,1363.9 L1259.22,1364.1 L1260.23,1364.3 L1261.23,1364.5 L1262.23,1364.8 L1263.23,1365.0 L1264.23,1365.2 L1265.23,1365.4 L1266.23,1365.6 L1267.23,1365.8 L1268.23,1366.1 L1269.23,1366.3 L1270.23,1366.5 L1271.23,1366.7 L1272.23,1366.9 L1273.23,1367.1 L1274.23,1367.4 L1275.24,1367.6 L1276.24,1367.8 L1277.24,1368.0 L1278.24,1368.2 L1279.24,1368.4 L1280.24,1368.7 L1281.24,1368.9 L1282.24,1369.1 L1283.24,1369.3 L1284.24,1369.5 L1285.24,1369.7 L1286.24,1369.9 L1287.24,1370.1 L1288.24,1370.4 L1289.25,1370.6 L1290.25,1370.8 L1291.25,1371.0 L1292.25,1371.2 L1293.25,1371.4 L1294.25,1371.6 L1295.25,1371.8 L1296.25,1372.1 L1297.25,1372.3 L1298.25,1372.5 L1299.25,1372.7 L1300.25,1372.9 L1300.70,1373.0 L1301.25,1373.1 L1302.25,1373.3 L1303.26,1373.5 L1304.26,1373.8 L1305.26,1374.0 L1306.26,1374.2 L1307.26,1374.4 L1308.26,1374.6 L1309.26,1374.8 L1310.26,1375.0 L1311.26,1375.2 L1312.26,1375.4 L1313.26,1375.6 L1314.26,1375.8 L1315.26,1376.1 L1316.26,1376.3 L1317.26,1376.5 L1318.27,1376.7 L1319.27,1376.9 L1320.27,1377.1 L1321.27,1377.3 L1322.27,1377.5 L1323.27,1377.7 L1324.27,1377.9 L1325.27,1378.1 L1326.27,1378.4 L1327.27,1378.6 L1328.27,1378.8 L1329.27,1379.0 L1330.27,1379.2 L1331.27,1379.4 L1332.28,1379.6 L1333.28,1379.8 L1334.28,1380.0 L1335.28,1380.2 L1336.28,1380.4 L1337.28,1380.6 L1338.28,1380.8 L1339.28,1381.0 L1340.28,1381.2 L1341.28,1381.4 L1342.28,1381.6 L1343.28,1381.9 L1344.28,1382.1 L1345.28,1382.3 L1346.29,1382.5 L1347.29,1382.7 L1348.29,1382.9 L1349.29,1383.1 L1350.29,1383.3 L1351.29,1383.5 L1352.29,1383.7 L1353.29,1383.9 L1354.29,1384.1 L1355.29,1384.3 L1356.29,1384.5 L1357.29,1384.7 L1358.29,1384.9 L1359.29,1385.1 L1360.29,1385.3 L1361.30,1385.5 L1362.30,1385.7 L1363.30,1385.9 L1364.30,1386.1 L1365.30,1386.3 L1366.30,1386.5 L1367.30,1386.7 L1368.30,1386.9 L1369.30,1387.1 L1370.30,1387.3 L1371.30,1387.5 L1372.30,1387.7 L1373.30,1387.9 L1374.30,1388.1 L1375.31,1388.3 L1376.31,1388.5 L1377.31,1388.7 L1378.31,1388.9 L1379.31,1389.1 L1380.31,1389.3 L1381.31,1389.5 L1382.31,1389.7 L1383.31,1389.8 L1384.09,1390.0 L1384.31,1390.0 L1385.31,1390.2 L1386.31,1390.4 L1387.31,1390.6 L1388.31,1390.8 L1389.32,1391.0 L1390.32,1391.2 L1391.32,1391.4 L1392.32,1391.6 L1393.32,1391.8 L1394.32,1392.0 L1395.32,1392.1 L1396.32,1392.3 L1397.32,1392.5 L1398.32,1392.7 L1399.32,1392.9 L1400.32,1393.1 L1401.32,1393.3 L1402.32,1393.5 L1403.32,1393.6 L1404.33,1393.8 L1405.33,1394.0 L1406.33,1394.2 L1407.33,1394.4 L1408.33,1394.6 L1409.33,1394.7 L1410.33,1394.9 L1411.33,1395.1 L1412.33,1395.3 L1413.33,1395.5 L1414.33,1395.7 L1415.33,1395.8 L1416.33,1396.0 L1417.33,1396.2 L1418.34,1396.4 L1419.34,1396.6 L1420.34,1396.7 L1421.34,1396.9 L1422.34,1397.1 L1423.34,1397.3 L1424.34,1397.5 L1425.34,1397.6 L1426.34,1397.8 L1427.34,1398.0 L1428.34,1398.2 L1429.34,1398.4 L1430.34,1398.6 L1431.34,1398.7 L1432.35,1398.9 L1433.35,1399.1 L1434.35,1399.3 L1435.35,1399.5 L1436.35,1399.6 L1437.35,1399.8 L1438.35,1400.0 L1439.35,1400.2 L1440.35,1400.4 L1441.35,1400.6 L1442.35,1400.7 L1443.35,1400.9 L1444.35,1401.1 L1445.35,1401.3 L1446.35,1401.5 L1447.36,1401.7 L1448.36,1401.9 L1449.36,1402.0 L1450.36,1402.2 L1451.36,1402.4 L1452.36,1402.6 L1453.36,1402.8 L1454.36,1403.0 L1455.36,1403.2 L1456.36,1403.4 L1457.36,1403.6 L1458.36,1403.7 L1459.36,1403.9 L1460.36,1404.1 L1461.37,1404.3 L1462.37,1404.5 L1463.37,1404.7 L1464.37,1404.9 L1465.37,1405.1 L1466.37,1405.3 L1467.37,1405.5 L1467.39,1405.5 L1468.37,1405.7 L1469.37,1405.9 L1470.37,1406.1 L1471.37,1406.3 L1472.37,1406.5 L1473.37,1406.7 L1474.37,1406.9 L1475.38,1407.1 L1476.38,1407.3 L1477.38,1407.5 L1478.38,1407.7 L1479.38,1407.9 L1480.38,1408.1 L1481.38,1408.3 L1482.38,1408.5 L1483.38,1408.7 L1484.38,1408.9 L1485.38,1409.1 L1486.38,1409.3 L1487.38,1409.5 L1488.38,1409.7 L1489.38,1410.0 L1490.39,1410.2 L1491.39,1410.4 L1492.39,1410.6 L1493.39,1410.8 L1494.39,1411.0 L1495.39,1411.2 L1496.39,1411.4 L1497.39,1411.6 L1498.39,1411.8 L1499.39,1412.0 L1500.39,1412.3 L1501.39,1412.5 L1502.39,1412.7 L1503.39,1412.9 L1504.40,1413.1 L1505.40,1413.3 L1506.40,1413.5 L1507.40,1413.7 L1508.40,1413.9 L1509.40,1414.2 L1510.40,1414.4 L1511.40,1414.6 L1512.40,1414.8 L1513.40,1415.0 L1514.40,1415.2 L1515.40,1415.4 L1516.40,1415.6 L1517.40,1415.9 L1518.41,1416.1 L1519.41,1416.3 L1520.41,1416.5 L1521.41,1416.7 L1522.41,1416.9 L1523.41,1417.1 L1524.41,1417.4 L1525.41,1417.6 L1526.41,1417.8 L1527.41,1418.0 L1528.41,1418.2 L1529.41,1418.4 L1530.41,1418.7 L1531.41,1418.9 L1532.41,1419.1 L1533.42,1419.3 L1534.42,1419.5 L1535.42,1419.7 L1536.42,1419.9 L1537.42,1420.2 L1538.42,1420.4 L1539.42,1420.6 L1540.42,1420.8 L1541.42,1421.0 L1542.42,1421.2 L1543.42,1421.4 L1544.42,1421.7 L1545.42,1421.9 L1546.42,1422.1 L1547.43,1422.3 L1548.43,1422.5 L1549.43,1422.7 L1550.43,1422.9 L1550.70,1423.0 L1551.43,1423.2 L1552.43,1423.4 L1553.43,1423.6 L1554.43,1423.8 L1555.43,1424.0 L1556.43,1424.2 L1557.43,1424.4 L1558.43,1424.7 L1559.43,1424.9 L1560.43,1425.1 L1561.44,1425.3 L1562.44,1425.5 L1563.44,1425.7 L1564.44,1426.0 L1565.44,1426.2 L1566.44,1426.4 L1567.44,1426.6 L1568.44,1426.8 L1569.44,1427.0 L1570.44,1427.3 L1571.44,1427.5 L1572.44,1427.7 L1573.44,1427.9 L1574.44,1428.1 L1575.44,1428.3 L1576.45,1428.6 L1577.45,1428.8 L1578.45,1429.0 L1579.45,1429.2 L1580.45,1429.4 L1581.45,1429.6 L1582.45,1429.9 L1583.45,1430.1 L1584.45,1430.3 L1585.45,1430.5 L1586.45,1430.7 L1587.45,1430.9 L1588.45,1431.2 L1589.45,1431.4 L1590.46,1431.6 L1591.46,1431.8 L1592.46,1432.0 L1593.46,1432.3 L1594.46,1432.5 L1595.46,1432.7 L1596.46,1432.9 L1597.46,1433.1 L1598.46,1433.3 L1599.46,1433.6 L1600.46,1433.8 L1601.46,1434.0 L1602.46,1434.2 L1603.46,1434.4 L1604.47,1434.6 L1605.47,1434.9 L1606.09,1435.0 L1606.47,1435.1 L1607.47,1435.3 L1608.47,1435.5 L1609.47,1435.7 L1610.47,1435.9 L1611.47,1436.2 L1612.47,1436.4 L1613.47,1436.6 L1614.47,1436.8 L1615.47,1437.0 L1616.47,1437.2 L1617.47,1437.5 L1618.47,1437.7 L1619.48,1437.9 L1620.48,1438.1 L1621.48,1438.3 L1622.48,1438.6 L1623.48,1438.8" stroke="#eb0000" stroke-width="30.5"/>
</g>
</g>
<path d="M193,1228.5 H205 V1232 H212 V1240 H193 Z" fill="#c81414"/>
<path d="M195,1230.5 H203.5 V1234 H210 V1239 H195 Z" fill="#fff"/>
<path d="M193,1266 H212 V1276 H208 V1283 H193 Z" fill="#c81414"/>
<path d="M195,1268 H210 V1274.5 H206 V1281 H195 Z" fill="#fff"/>
<rect x="1207" y="223" width="634.0" height="86.5" fill="#000"/>
<rect x="1186" y="209" width="643.0" height="93.0" fill="#000"/>
<rect x="1192.5" y="215.5" width="630.0" height="80.0" fill="#fff"/>
<rect x="1205" y="479" width="636.0" height="83.0" fill="#000"/>
<rect x="1186" y="466" width="640.0" height="89.0" fill="#000"/>
<rect x="1192.2" y="472.2" width="627.6" height="76.6" fill="#fff"/>
<rect x="1210" y="742.6" width="637.5" height="81.4" fill="#000"/>
<rect x="1192.5" y="727.5" width="640.5" height="90.0" fill="#000"/>
<rect x="1199.3" y="734.3" width="626.9" height="76.4" fill="#fff"/>
<rect x="1210" y="993.4" width="635.0" height="84.1" fill="#000"/>
<rect x="1189.5" y="980.5" width="643.5" height="92.5" fill="#000"/>
<rect x="1196.0" y="987.0" width="630.5" height="79.5" fill="#fff"/>
<rect x="1368" y="1238.8" width="472.7" height="83.7" fill="#000"/>
<rect x="1347.3" y="1225.3" width="478.7" height="93.2" fill="#000"/>
<rect x="1353.6" y="1231.6" width="466.1" height="80.6" fill="#fff"/>
<rect x="1371" y="1453.5" width="473.5" height="89.5" fill="#000"/>
<rect x="1350.6" y="1438.6" width="482.7" height="93.4" fill="#000"/>
<rect x="1357.1" y="1445.1" width="469.7" height="80.4" fill="#fff"/>
<text transform="translate(268.15,1592.80) scale(0.6831,0.4536)" font-size="100" fill="#000">500</text>
<text transform="translate(467.95,1592.80) scale(0.6745,0.4536)" font-size="100" fill="#000">1000</text>
<text transform="translate(683.01,1592.80) scale(0.6981,0.4536)" font-size="100" fill="#000">1500</text>
<text transform="translate(902.13,1592.80) scale(0.6884,0.4536)" font-size="100" fill="#000">2000</text>
<text transform="translate(1119.52,1592.80) scale(0.6935,0.4536)" font-size="100" fill="#000">2500</text>
<text transform="translate(1337.32,1592.80) scale(0.6898,0.4536)" font-size="100" fill="#000">3000</text>
<text transform="translate(1554.32,1592.80) scale(0.6898,0.4536)" font-size="100" fill="#000">3500</text>
<text transform="translate(1771.32,1592.80) scale(0.6898,0.4536)" font-size="100" fill="#000">4000</text>
<text transform="translate(1199.43,267.80) scale(0.7846,0.5478)" font-size="100" fill="#000">40%</text>
<text transform="translate(1387.97,267.80) scale(0.8474,0.5478)" font-size="100" fill="#000">MnO</text>
<text transform="translate(1578.50,281.40) scale(0.5673,0.2957)" font-size="100" fill="#000">2</text>
<text transform="translate(1609.62,267.80) scale(0.9440,0.5478)" font-size="100" fill="#000">-</text>
<text transform="translate(1637.14,267.80) scale(0.8554,0.5478)" font-size="100" fill="#000">V</text>
<text transform="translate(1698.36,281.40) scale(0.5469,0.2957)" font-size="100" fill="#000">2</text>
<text transform="translate(1727.76,267.80) scale(0.8092,0.5478)" font-size="100" fill="#000">C</text>
<text transform="translate(1201.08,520.40) scale(0.7590,0.5493)" font-size="100" fill="#000">30%</text>
<text transform="translate(1388.00,520.40) scale(0.8422,0.5493)" font-size="100" fill="#000">MnO</text>
<text transform="translate(1578.50,534.20) scale(0.5673,0.3261)" font-size="100" fill="#000">2</text>
<text transform="translate(1610.78,520.40) scale(0.9040,0.5493)" font-size="100" fill="#000">-</text>
<text transform="translate(1636.64,520.40) scale(0.8631,0.5493)" font-size="100" fill="#000">V</text>
<text transform="translate(1694.10,534.20) scale(0.5673,0.3261)" font-size="100" fill="#000">2</text>
<text transform="translate(1725.84,520.40) scale(0.7892,0.5493)" font-size="100" fill="#000">C</text>
<text transform="translate(1206.96,783.20) scale(0.7804,0.5594)" font-size="100" fill="#000">20%</text>
<text transform="translate(1394.69,783.20) scale(0.8441,0.5594)" font-size="100" fill="#000">MnO</text>
<text transform="translate(1586.35,800.00) scale(0.5510,0.3043)" font-size="100" fill="#000">2</text>
<text transform="translate(1617.26,783.20) scale(0.9360,0.5594)" font-size="100" fill="#000">-</text>
<text transform="translate(1644.77,783.20) scale(0.8292,0.5594)" font-size="100" fill="#000">V</text>
<text transform="translate(1701.35,800.00) scale(0.5510,0.3043)" font-size="100" fill="#000">2</text>
<text transform="translate(1732.62,783.20) scale(0.7938,0.5594)" font-size="100" fill="#000">C</text>
<text transform="translate(1204.85,1039.30) scale(0.7754,0.5580)" font-size="100" fill="#000">10%</text>
<text transform="translate(1392.25,1039.30) scale(0.8502,0.5580)" font-size="100" fill="#000">MnO</text>
<text transform="translate(1581.67,1053.20) scale(0.5755,0.2884)" font-size="100" fill="#000">2</text>
<text transform="translate(1617.64,1039.30) scale(0.8400,0.5580)" font-size="100" fill="#000">-</text>
<text transform="translate(1644.77,1039.30) scale(0.8292,0.5580)" font-size="100" fill="#000">V</text>
<text transform="translate(1700.07,1053.20) scale(0.5755,0.2884)" font-size="100" fill="#000">2</text>
<text transform="translate(1732.62,1039.30) scale(0.7938,0.5580)" font-size="100" fill="#000">C</text>
<text transform="translate(1360.35,1284.60) scale(0.8462,0.5609)" font-size="100" fill="#000">V</text>
<text transform="translate(1417.83,1298.20) scale(0.5551,0.3464)" font-size="100" fill="#000">2</text>
<text transform="translate(1449.42,1284.60) scale(0.7954,0.5609)" font-size="100" fill="#000">C</text>
<text transform="translate(1511.10,1284.60) scale(0.9760,0.5609)" font-size="100" fill="#000">-</text>
<text transform="translate(1539.64,1284.00) scale(0.8365,0.5522)" font-size="100" fill="#000">MXene</text>
<text transform="translate(1363.65,1497.40) scale(0.8462,0.5435)" font-size="100" fill="#000">V</text>
<text transform="translate(1421.13,1511.50) scale(0.5551,0.3362)" font-size="100" fill="#000">2</text>
<text transform="translate(1452.83,1497.40) scale(0.8227,0.5435)" font-size="100" fill="#000">A</text>
<text transform="translate(1518.25,1497.40) scale(0.6643,0.5072)" font-size="100" fill="#000">l</text>
<text transform="translate(1540.18,1497.40) scale(0.8062,0.5435)" font-size="100" fill="#000">C</text>
<text transform="translate(1599.72,1497.40) scale(0.9440,0.5435)" font-size="100" fill="#000">-</text>
<text transform="translate(1627.57,1497.20) scale(0.8472,0.5406)" font-size="100" fill="#000">MAX</text>
<text transform="translate(821.96,772.60) scale(0.9057,0.5536)" font-size="100" fill="#000">M</text>
<text transform="translate(899.81,772.60) scale(0.8125,0.5536)" font-size="100" fill="#000">n</text>
<text transform="translate(947.61,772.60) scale(0.9480,0.5536)" font-size="100" fill="#000">-</text>
<text transform="translate(975.67,772.60) scale(0.8086,0.5536)" font-size="100" fill="#000">O</text>
<text transform="translate(589.05,1035.60) scale(0.8462,0.5551)" font-size="100" fill="#000">V</text>
<text transform="translate(645.74,1035.60) scale(0.9400,0.5551)" font-size="100" fill="#000">-</text>
<text transform="translate(674.86,1035.60) scale(0.7846,0.5551)" font-size="100" fill="#000">C</text>
<text transform="translate(229.39,1424.40) scale(0.9697,0.6101)" font-size="100" fill="#000">A</text>
<text transform="translate(299.25,1424.40) scale(1.0071,0.5739)" font-size="100" fill="#000">l</text>
<text transform="translate(323.28,1424.40) scale(1.0800,0.6101)" font-size="100" fill="#000">-</text>
<text transform="translate(354.75,1424.40) scale(0.9492,0.6101)" font-size="100" fill="#000">V</text>
<text transform="translate(609.76,1687.20) scale(1.0769,0.7087)" font-size="100" fill="#000">Raman</text>
<text transform="translate(996.77,1687.20) scale(1.0766,0.7087)" font-size="100" fill="#000">Shift</text>
<text transform="translate(1261.38,1687.20) scale(1.0832,0.7087)" font-size="100" fill="#000">(cm</text>
<text transform="translate(1540.50,1687.20) scale(0.8750,0.7087)" font-size="100" fill="#000">)</text>
<text transform="translate(1453.50,1665.00) scale(1.1000,0.5319)" font-size="100" fill="#000">-</text>
<text transform="translate(1490.10,1665.00) scale(0.5830,0.5319)" font-size="100" fill="#000">1</text>
<text transform="translate(98.90,1162.44) rotate(-90) scale(1.2052,0.7551)" font-size="100">Intensity</text>
<text transform="translate(98.90,667.08) rotate(-90) scale(1.1555,0.7551)" font-size="100">(au)</text>
</svg></body></html>
